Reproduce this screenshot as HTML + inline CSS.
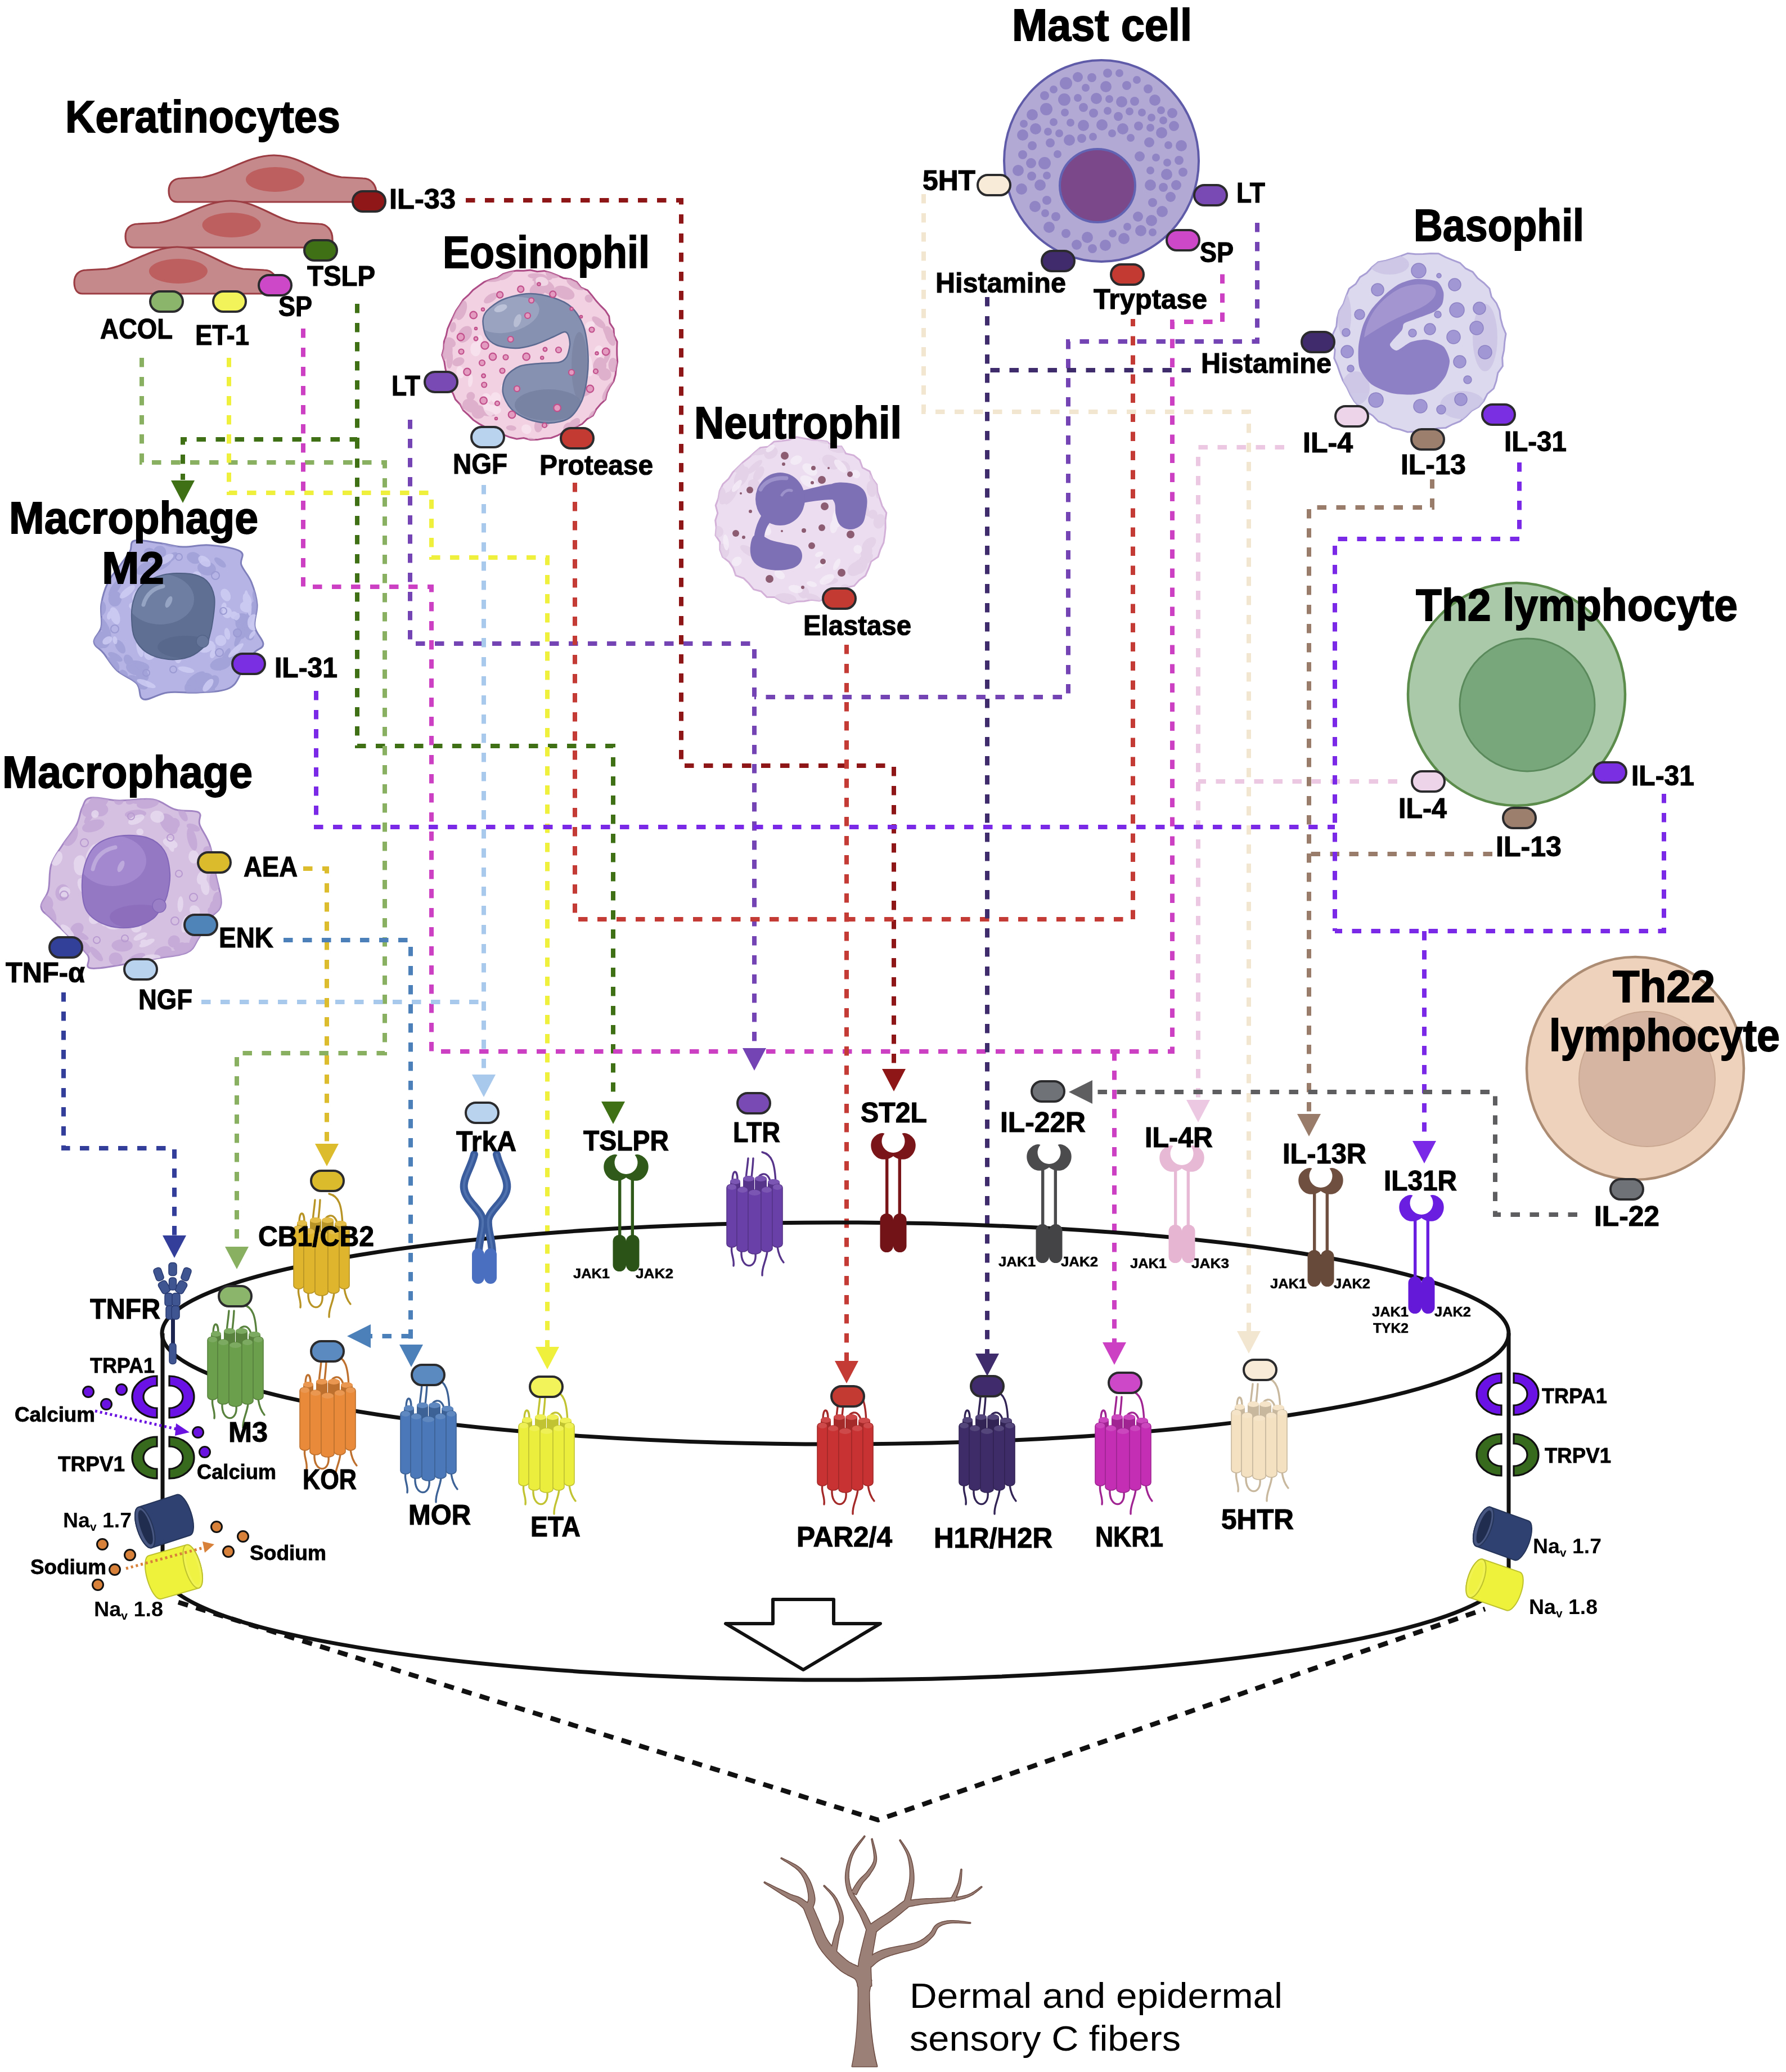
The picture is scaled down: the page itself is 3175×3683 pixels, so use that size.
<!DOCTYPE html><html><head><meta charset="utf-8"><style>html,body{margin:0;padding:0;background:#fff;}svg{display:block;}</style></head><body>
<svg width="3175" height="3683" viewBox="0 0 3175 3683">
<rect width="3175" height="3683" fill="#fff"/>
<path d="M828 356 H1211 V1361 H1589 V1899" fill="none" stroke="#8e1616" stroke-width="8" stroke-dasharray="16.5 17.5"/>
<polygon points="1568.0,1900 1610.0,1900 1589,1940" fill="#8e1616"/>
<path d="M635 540 V781 H325 V853" fill="none" stroke="#3f7016" stroke-width="8" stroke-dasharray="16.5 17.5"/>
<polygon points="304.0,854 346.0,854 325,894" fill="#3f7016"/>
<path d="M635 781 V1326 H1090 V1959" fill="none" stroke="#3f7016" stroke-width="8" stroke-dasharray="16.5 17.5"/>
<polygon points="1069.0,1958 1111.0,1958 1090,1998" fill="#3f7016"/>
<path d="M252 636 V822 H684 V1872 H421 V2217" fill="none" stroke="#88b060" stroke-width="8" stroke-dasharray="16.5 17.5"/>
<polygon points="400.0,2216 442.0,2216 421,2256" fill="#88b060"/>
<path d="M407 636 V876 H767 V991 H973 V2396" fill="none" stroke="#eef03c" stroke-width="8" stroke-dasharray="16.5 17.5"/>
<polygon points="952.0,2394 994.0,2394 973,2434" fill="#eef03c"/>
<path d="M539 584 V1043 H767 V1869 H2084 V572 H2173 V481" fill="none" stroke="#cc40c4" stroke-width="8" stroke-dasharray="16.5 17.5"/>
<path d="M1981 1869 V2386" fill="none" stroke="#cc40c4" stroke-width="8" stroke-dasharray="16.5 17.5"/>
<polygon points="1960.0,2386 2002.0,2386 1981,2426" fill="#cc40c4"/>
<path d="M729 746 V1144 H1341 V1862" fill="none" stroke="#7444b4" stroke-width="8" stroke-dasharray="16.5 17.5"/>
<polygon points="1320.0,1863 1362.0,1863 1341,1903" fill="#7444b4"/>
<path d="M2235 396 V607 H1899 V1239 H1341" fill="none" stroke="#7444b4" stroke-width="8" stroke-dasharray="16.5 17.5"/>
<path d="M860 862 V1910" fill="none" stroke="#a8c8ec" stroke-width="8" stroke-dasharray="16.5 17.5"/>
<polygon points="839.0,1910 881.0,1910 860,1950" fill="#a8c8ec"/>
<path d="M358 1781 H857" fill="none" stroke="#a8c8ec" stroke-width="8" stroke-dasharray="16.5 17.5"/>
<path d="M1022 858 V1634 H2014 V567" fill="none" stroke="#c43a34" stroke-width="8" stroke-dasharray="16.5 17.5"/>
<path d="M1505 1146 V2419" fill="none" stroke="#c43a34" stroke-width="8" stroke-dasharray="16.5 17.5"/>
<polygon points="1484.0,2419 1526.0,2419 1505,2459" fill="#c43a34"/>
<path d="M1755 528 V2406" fill="none" stroke="#3e2c6c" stroke-width="8" stroke-dasharray="16.5 17.5"/>
<polygon points="1734.0,2406 1776.0,2406 1755,2446" fill="#3e2c6c"/>
<path d="M2117 658 H1759" fill="none" stroke="#3e2c6c" stroke-width="8" stroke-dasharray="16.5 17.5"/>
<path d="M1642 345 V732 H2220 V2368" fill="none" stroke="#f3e6d0" stroke-width="8" stroke-dasharray="16.5 17.5"/>
<polygon points="2199.0,2366 2241.0,2366 2220,2406" fill="#f3e6d0"/>
<path d="M2283 795 H2130 V1955" fill="none" stroke="#ecc8e2" stroke-width="8" stroke-dasharray="16.5 17.5"/>
<polygon points="2109.0,1955 2151.0,1955 2130,1995" fill="#ecc8e2"/>
<path d="M2484 1389 H2130" fill="none" stroke="#ecc8e2" stroke-width="8" stroke-dasharray="16.5 17.5"/>
<path d="M2546 852 V902 H2327 V1980" fill="none" stroke="#9a7c6a" stroke-width="8" stroke-dasharray="16.5 17.5"/>
<polygon points="2306.0,1980 2348.0,1980 2327,2020" fill="#9a7c6a"/>
<path d="M2653 1518 H2328" fill="none" stroke="#9a7c6a" stroke-width="8" stroke-dasharray="16.5 17.5"/>
<path d="M2701 822 V958 H2373 V1655" fill="none" stroke="#7a2ae6" stroke-width="8" stroke-dasharray="16.5 17.5"/>
<path d="M2958 1411 V1655 H2373" fill="none" stroke="#7a2ae6" stroke-width="8" stroke-dasharray="16.5 17.5"/>
<path d="M2532 1655 V2027" fill="none" stroke="#7a2ae6" stroke-width="8" stroke-dasharray="16.5 17.5"/>
<polygon points="2511.0,2028 2553.0,2028 2532,2068" fill="#7a2ae6"/>
<path d="M562 1228 V1470 H2373" fill="none" stroke="#7a2ae6" stroke-width="8" stroke-dasharray="16.5 17.5"/>
<path d="M2804 2159 H2658 V1941 H1941" fill="none" stroke="#5e5e60" stroke-width="8" stroke-dasharray="16.5 17.5"/>
<polygon points="1942,1920.0 1942,1962.0 1900,1941" fill="#5e5e60"/>
<path d="M539 1544 H581 V2031" fill="none" stroke="#dcbc2c" stroke-width="8" stroke-dasharray="16.5 17.5"/>
<polygon points="560.0,2033 602.0,2033 581,2073" fill="#dcbc2c"/>
<path d="M504 1671 H730 V2392" fill="none" stroke="#4c80b8" stroke-width="8" stroke-dasharray="16.5 17.5"/>
<polygon points="710.0,2390 752.0,2390 731,2430" fill="#4c80b8"/>
<path d="M730 2375 H659" fill="none" stroke="#4c80b8" stroke-width="8" stroke-dasharray="16.5 17.5"/>
<polygon points="659,2354.0 659,2396.0 617,2375" fill="#4c80b8"/>
<path d="M113 1764 V2041 H310 V2198" fill="none" stroke="#323e9a" stroke-width="8" stroke-dasharray="16.5 17.5"/>
<polygon points="289.0,2196 331.0,2196 310,2236" fill="#323e9a"/>
<path d="M315.0 359.0 C305.0 359.0 300.0 351.0 300.0 339.0 C300.0 326.0 308.0 317.0 322.0 317.0 L360.0 315.0 C400.0 309.0 440.0 276.0 487.0 276.0 C535.0 276.0 565.0 309.0 607.0 315.0 L645.0 317.0 C660.0 317.0 669.0 329.0 669.0 344.0 L669.0 359.0 Z" fill="#c5898b" stroke="#9c3d43" stroke-width="3.2"/>
<ellipse cx="489.0" cy="319" rx="52" ry="22" fill="#bd5e5f"/>
<path d="M238.0 440.0 C228.0 440.0 223.0 432.0 223.0 420.0 C223.0 407.0 231.0 398.0 244.9 398.0 L282.8 396.0 C322.7 390.0 362.6 357.0 409.5 357.0 C457.4 357.0 487.3 390.0 529.2 396.0 L567.1 398.0 C582.0 398.0 591.0 410.0 591.0 425.0 L591.0 440.0 Z" fill="#c5898b" stroke="#9c3d43" stroke-width="3.2"/>
<ellipse cx="411.5" cy="400" rx="52" ry="22" fill="#bd5e5f"/>
<path d="M146.7 522.0 C136.9 522.0 132.0 514.0 132.0 502.0 C132.0 489.0 139.8 480.0 153.5 480.0 L190.7 478.0 C229.8 472.0 269.0 439.0 314.9 439.0 C361.9 439.0 391.3 472.0 432.3 478.0 L469.5 480.0 C484.2 480.0 493.0 492.0 493.0 507.0 L493.0 522.0 Z" fill="#c5898b" stroke="#9c3d43" stroke-width="3.2"/>
<ellipse cx="316.9" cy="482" rx="52" ry="22" fill="#bd5e5f"/>
<clipPath id="eclip"><path d="M1096.8 631.0 L1097.7 642.8 L1095.5 654.4 L1094.2 666.1 L1091.0 677.5 L1084.3 687.7 L1079.1 698.1 L1076.5 710.2 L1067.5 718.5 L1059.9 727.6 L1054.2 738.6 L1043.6 745.0 L1035.0 753.6 L1023.9 758.8 L1013.7 765.2 L1001.7 768.1 L991.1 774.2 L979.6 778.5 L967.3 779.3 L955.2 781.6 L943.0 781.8 L931.0 778.6 L918.6 780.3 L906.7 777.3 L895.4 772.8 L884.5 767.6 L871.9 766.1 L862.1 758.8 L851.3 753.1 L841.2 746.4 L832.7 737.7 L823.6 729.6 L818.0 718.9 L809.6 710.1 L805.1 699.0 L797.9 689.2 L793.9 677.9 L794.1 665.6 L791.6 654.2 L789.8 642.7 L785.8 631.0 L788.8 619.3 L789.3 607.4 L793.2 596.2 L795.6 584.6 L800.3 573.8 L805.5 563.2 L810.5 552.4 L817.3 542.6 L823.7 532.4 L832.8 524.4 L841.0 515.5 L850.9 508.3 L860.8 501.2 L872.3 496.7 L884.3 493.8 L894.6 486.8 L906.3 483.1 L918.5 481.0 L930.8 481.2 L943.0 480.0 L955.1 482.8 L967.5 481.4 L979.3 484.8 L990.6 489.3 L1001.5 494.2 L1014.1 495.9 L1025.2 501.2 L1033.0 511.1 L1044.6 515.9 L1052.3 525.2 L1059.6 534.6 L1067.6 543.4 L1076.2 552.0 L1082.7 562.1 L1084.2 574.4 L1090.9 584.5 L1091.7 596.5 L1097.1 607.4 L1096.7 619.3 Z"/></clipPath>
<path d="M1096.8 631.0 L1097.7 642.8 L1095.5 654.4 L1094.2 666.1 L1091.0 677.5 L1084.3 687.7 L1079.1 698.1 L1076.5 710.2 L1067.5 718.5 L1059.9 727.6 L1054.2 738.6 L1043.6 745.0 L1035.0 753.6 L1023.9 758.8 L1013.7 765.2 L1001.7 768.1 L991.1 774.2 L979.6 778.5 L967.3 779.3 L955.2 781.6 L943.0 781.8 L931.0 778.6 L918.6 780.3 L906.7 777.3 L895.4 772.8 L884.5 767.6 L871.9 766.1 L862.1 758.8 L851.3 753.1 L841.2 746.4 L832.7 737.7 L823.6 729.6 L818.0 718.9 L809.6 710.1 L805.1 699.0 L797.9 689.2 L793.9 677.9 L794.1 665.6 L791.6 654.2 L789.8 642.7 L785.8 631.0 L788.8 619.3 L789.3 607.4 L793.2 596.2 L795.6 584.6 L800.3 573.8 L805.5 563.2 L810.5 552.4 L817.3 542.6 L823.7 532.4 L832.8 524.4 L841.0 515.5 L850.9 508.3 L860.8 501.2 L872.3 496.7 L884.3 493.8 L894.6 486.8 L906.3 483.1 L918.5 481.0 L930.8 481.2 L943.0 480.0 L955.1 482.8 L967.5 481.4 L979.3 484.8 L990.6 489.3 L1001.5 494.2 L1014.1 495.9 L1025.2 501.2 L1033.0 511.1 L1044.6 515.9 L1052.3 525.2 L1059.6 534.6 L1067.6 543.4 L1076.2 552.0 L1082.7 562.1 L1084.2 574.4 L1090.9 584.5 L1091.7 596.5 L1097.1 607.4 L1096.7 619.3 Z" fill="#f2d2e2" stroke="#ad4c86" stroke-width="3"/>
<g fill="#d8a4c4" opacity="0.75" clip-path="url(#eclip)"><ellipse cx="1019.3" cy="755.7" rx="15.3" ry="7.9" transform="rotate(132 1019.3 755.7)"/><ellipse cx="983.9" cy="486.6" rx="13.7" ry="8.1" transform="rotate(360 983.9 486.6)"/><ellipse cx="1079.4" cy="633.6" rx="14.6" ry="4.7" transform="rotate(109 1079.4 633.6)"/><ellipse cx="957.5" cy="756.6" rx="7.6" ry="12.0" transform="rotate(188 957.5 756.6)"/><ellipse cx="1046.7" cy="530.7" rx="7.4" ry="6.8" transform="rotate(405 1046.7 530.7)"/><ellipse cx="1063.0" cy="734.5" rx="11.8" ry="5.4" transform="rotate(151 1063.0 734.5)"/><ellipse cx="1056.0" cy="740.2" rx="12.9" ry="8.5" transform="rotate(126 1056.0 740.2)"/><ellipse cx="814.9" cy="643.0" rx="7.5" ry="11.0" transform="rotate(249 814.9 643.0)"/><ellipse cx="967.5" cy="507.8" rx="19.6" ry="11.2" transform="rotate(386 967.5 507.8)"/><ellipse cx="954.7" cy="490.9" rx="16.5" ry="5.2" transform="rotate(363 954.7 490.9)"/><ellipse cx="1003.2" cy="520.2" rx="19.0" ry="11.1" transform="rotate(382 1003.2 520.2)"/><ellipse cx="850.4" cy="732.3" rx="12.0" ry="12.0" transform="rotate(215 850.4 732.3)"/><ellipse cx="1066.0" cy="651.3" rx="16.3" ry="11.9" transform="rotate(99 1066.0 651.3)"/><ellipse cx="799.3" cy="638.4" rx="16.7" ry="5.9" transform="rotate(273 799.3 638.4)"/><ellipse cx="805.2" cy="581.6" rx="9.3" ry="5.5" transform="rotate(281 805.2 581.6)"/><ellipse cx="1064.4" cy="573.0" rx="14.8" ry="6.6" transform="rotate(400 1064.4 573.0)"/><ellipse cx="1085.0" cy="691.1" rx="17.1" ry="7.1" transform="rotate(125 1085.0 691.1)"/><ellipse cx="871.8" cy="493.9" rx="19.5" ry="7.4" transform="rotate(363 871.8 493.9)"/><ellipse cx="1084.4" cy="597.2" rx="18.5" ry="8.0" transform="rotate(429 1084.4 597.2)"/><ellipse cx="945.8" cy="783.5" rx="9.1" ry="4.7" transform="rotate(197 945.8 783.5)"/><ellipse cx="964.1" cy="496.0" rx="17.9" ry="4.6" transform="rotate(354 964.1 496.0)"/><ellipse cx="908.7" cy="760.8" rx="9.2" ry="4.7" transform="rotate(185 908.7 760.8)"/><ellipse cx="1073.6" cy="538.1" rx="16.7" ry="7.9" transform="rotate(399 1073.6 538.1)"/><ellipse cx="1081.2" cy="595.7" rx="16.5" ry="4.4" transform="rotate(418 1081.2 595.7)"/><ellipse cx="1024.2" cy="504.2" rx="18.5" ry="8.9" transform="rotate(387 1024.2 504.2)"/><ellipse cx="806.4" cy="557.1" rx="11.0" ry="8.4" transform="rotate(286 806.4 557.1)"/><ellipse cx="956.9" cy="514.4" rx="15.9" ry="11.6" transform="rotate(338 956.9 514.4)"/><ellipse cx="820.0" cy="551.6" rx="18.1" ry="8.8" transform="rotate(289 820.0 551.6)"/><ellipse cx="809.5" cy="718.1" rx="18.8" ry="5.2" transform="rotate(212 809.5 718.1)"/><ellipse cx="1044.3" cy="696.7" rx="12.8" ry="5.3" transform="rotate(146 1044.3 696.7)"/><ellipse cx="872.3" cy="529.9" rx="14.0" ry="6.7" transform="rotate(326 872.3 529.9)"/><ellipse cx="967.3" cy="752.5" rx="9.4" ry="7.1" transform="rotate(182 967.3 752.5)"/><ellipse cx="826.2" cy="594.2" rx="16.2" ry="11.0" transform="rotate(304 826.2 594.2)"/><ellipse cx="973.7" cy="517.5" rx="13.0" ry="4.7" transform="rotate(390 973.7 517.5)"/><ellipse cx="1011.2" cy="761.0" rx="10.3" ry="9.6" transform="rotate(142 1011.2 761.0)"/><ellipse cx="1075.4" cy="665.6" rx="11.0" ry="11.2" transform="rotate(93 1075.4 665.6)"/><ellipse cx="799.1" cy="628.3" rx="19.3" ry="5.0" transform="rotate(277 799.1 628.3)"/><ellipse cx="791.6" cy="623.4" rx="19.6" ry="6.6" transform="rotate(285 791.6 623.4)"/><ellipse cx="800.5" cy="608.5" rx="7.8" ry="10.6" transform="rotate(308 800.5 608.5)"/><ellipse cx="860.6" cy="733.5" rx="19.9" ry="5.0" transform="rotate(192 860.6 733.5)"/><ellipse cx="1081.8" cy="697.7" rx="16.9" ry="7.7" transform="rotate(124 1081.8 697.7)"/><ellipse cx="1089.7" cy="648.7" rx="12.8" ry="8.2" transform="rotate(90 1089.7 648.7)"/><ellipse cx="836.8" cy="704.2" rx="7.6" ry="7.6" transform="rotate(219 836.8 704.2)"/><ellipse cx="899.0" cy="487.1" rx="16.4" ry="7.8" transform="rotate(328 899.0 487.1)"/><ellipse cx="836.8" cy="721.1" rx="15.2" ry="11.7" transform="rotate(204 836.8 721.1)"/></g>
<g fill="#fae8f1" opacity="0.7" clip-path="url(#eclip)"><ellipse cx="1019.8" cy="611.0" rx="6.2" ry="9.6" transform="rotate(416 1019.8 611.0)"/><ellipse cx="1026.7" cy="707.6" rx="9.5" ry="8.9" transform="rotate(117 1026.7 707.6)"/><ellipse cx="1032.1" cy="608.6" rx="12.0" ry="9.2" transform="rotate(447 1032.1 608.6)"/><ellipse cx="1048.8" cy="577.9" rx="6.5" ry="8.9" transform="rotate(428 1048.8 577.9)"/><ellipse cx="912.1" cy="705.6" rx="14.5" ry="7.1" transform="rotate(228 912.1 705.6)"/><ellipse cx="963.5" cy="500.1" rx="11.7" ry="7.8" transform="rotate(375 963.5 500.1)"/><ellipse cx="935.8" cy="762.9" rx="9.1" ry="8.3" transform="rotate(210 935.8 762.9)"/><ellipse cx="896.5" cy="568.4" rx="14.3" ry="7.6" transform="rotate(305 896.5 568.4)"/><ellipse cx="1044.8" cy="662.4" rx="6.3" ry="9.2" transform="rotate(108 1044.8 662.4)"/><ellipse cx="845.3" cy="620.7" rx="12.6" ry="9.1" transform="rotate(265 845.3 620.7)"/><ellipse cx="865.5" cy="707.1" rx="9.0" ry="7.2" transform="rotate(227 865.5 707.1)"/><ellipse cx="836.3" cy="676.8" rx="11.3" ry="4.1" transform="rotate(276 836.3 676.8)"/><ellipse cx="881.4" cy="707.1" rx="10.0" ry="9.2" transform="rotate(245 881.4 707.1)"/><ellipse cx="845.6" cy="623.9" rx="7.0" ry="9.0" transform="rotate(255 845.6 623.9)"/><ellipse cx="852.9" cy="604.7" rx="9.3" ry="5.7" transform="rotate(268 852.9 604.7)"/><ellipse cx="1047.2" cy="654.9" rx="14.0" ry="7.5" transform="rotate(85 1047.2 654.9)"/><ellipse cx="917.6" cy="564.4" rx="10.1" ry="8.6" transform="rotate(365 917.6 564.4)"/><ellipse cx="818.1" cy="661.6" rx="11.0" ry="6.7" transform="rotate(261 818.1 661.6)"/><ellipse cx="1064.4" cy="624.6" rx="10.7" ry="8.0" transform="rotate(455 1064.4 624.6)"/><ellipse cx="867.5" cy="726.7" rx="14.2" ry="7.3" transform="rotate(244 867.5 726.7)"/><ellipse cx="1046.9" cy="642.5" rx="12.3" ry="5.6" transform="rotate(77 1046.9 642.5)"/><ellipse cx="907.4" cy="540.5" rx="8.7" ry="3.9" transform="rotate(367 907.4 540.5)"/><ellipse cx="896.3" cy="691.4" rx="8.2" ry="5.1" transform="rotate(239 896.3 691.4)"/><ellipse cx="980.6" cy="709.1" rx="7.0" ry="6.4" transform="rotate(137 980.6 709.1)"/><ellipse cx="875.5" cy="728.2" rx="15.3" ry="8.6" transform="rotate(186 875.5 728.2)"/></g>
<clipPath id="enclip"><path d="M858.5 570.0 C858.8 563.2 860.5 557.7 866.0 552.0 C871.5 546.3 883.9 536.5 895.0 532.0 C906.1 527.5 926.8 522.5 940.0 522.0 C953.2 521.5 971.6 525.4 983.0 529.0 C994.4 532.6 1007.9 538.5 1016.0 546.0 C1024.1 553.5 1032.7 567.3 1037.0 579.0 C1041.3 590.7 1044.0 610.5 1045.0 624.0 C1046.0 637.5 1045.7 655.6 1044.0 669.0 C1042.3 682.4 1038.8 701.9 1034.0 713.0 C1029.2 724.1 1020.7 737.1 1012.0 743.0 C1003.3 748.9 987.1 751.7 976.0 752.0 C964.9 752.3 948.0 748.8 938.0 745.0 C928.0 741.2 915.6 734.0 909.0 727.0 C902.4 720.0 895.4 706.7 894.0 698.0 C892.6 689.3 895.5 676.0 900.0 669.0 C904.5 662.0 915.0 654.5 924.0 651.0 C933.0 647.5 949.5 647.0 960.0 646.0 C970.5 645.0 987.0 645.6 994.0 644.0 C1001.0 642.4 1004.1 639.6 1007.0 635.0 C1009.9 630.4 1012.5 619.0 1013.0 613.0 C1013.5 607.0 1011.5 598.5 1010.0 595.0 C1008.5 591.5 1007.0 589.4 1003.0 590.0 C999.0 590.6 991.1 595.5 983.0 599.0 C974.9 602.5 959.0 610.0 949.0 613.0 C939.0 616.0 926.0 619.0 916.0 619.0 C906.0 619.0 889.8 616.3 882.0 613.0 C874.2 609.7 867.5 603.5 864.0 597.0 C860.5 590.5 858.2 576.8 858.5 570.0 Z"/></clipPath>
<path d="M858.5 570.0 C858.8 563.2 860.5 557.7 866.0 552.0 C871.5 546.3 883.9 536.5 895.0 532.0 C906.1 527.5 926.8 522.5 940.0 522.0 C953.2 521.5 971.6 525.4 983.0 529.0 C994.4 532.6 1007.9 538.5 1016.0 546.0 C1024.1 553.5 1032.7 567.3 1037.0 579.0 C1041.3 590.7 1044.0 610.5 1045.0 624.0 C1046.0 637.5 1045.7 655.6 1044.0 669.0 C1042.3 682.4 1038.8 701.9 1034.0 713.0 C1029.2 724.1 1020.7 737.1 1012.0 743.0 C1003.3 748.9 987.1 751.7 976.0 752.0 C964.9 752.3 948.0 748.8 938.0 745.0 C928.0 741.2 915.6 734.0 909.0 727.0 C902.4 720.0 895.4 706.7 894.0 698.0 C892.6 689.3 895.5 676.0 900.0 669.0 C904.5 662.0 915.0 654.5 924.0 651.0 C933.0 647.5 949.5 647.0 960.0 646.0 C970.5 645.0 987.0 645.6 994.0 644.0 C1001.0 642.4 1004.1 639.6 1007.0 635.0 C1009.9 630.4 1012.5 619.0 1013.0 613.0 C1013.5 607.0 1011.5 598.5 1010.0 595.0 C1008.5 591.5 1007.0 589.4 1003.0 590.0 C999.0 590.6 991.1 595.5 983.0 599.0 C974.9 602.5 959.0 610.0 949.0 613.0 C939.0 616.0 926.0 619.0 916.0 619.0 C906.0 619.0 889.8 616.3 882.0 613.0 C874.2 609.7 867.5 603.5 864.0 597.0 C860.5 590.5 858.2 576.8 858.5 570.0 Z" fill="#8690b0"/>
<g clip-path="url(#enclip)">
<ellipse cx="905" cy="560" rx="55" ry="30" fill="#a3abc6" opacity="0.7" transform="rotate(-15 905 560)"/>
<ellipse cx="975" cy="720" rx="60" ry="28" fill="#727da0" opacity="0.7"/>
<ellipse cx="1030" cy="650" rx="14" ry="60" fill="#78829f" opacity="0.6"/>
<ellipse cx="890" cy="548" rx="12" ry="6" fill="#c4cade" opacity="0.8" transform="rotate(-20 890 548)"/>
<ellipse cx="920" cy="570" rx="6" ry="12" fill="#c4cade" opacity="0.7" transform="rotate(20 920 570)"/>
</g>
<path d="M858.5 570.0 C858.8 563.2 860.5 557.7 866.0 552.0 C871.5 546.3 883.9 536.5 895.0 532.0 C906.1 527.5 926.8 522.5 940.0 522.0 C953.2 521.5 971.6 525.4 983.0 529.0 C994.4 532.6 1007.9 538.5 1016.0 546.0 C1024.1 553.5 1032.7 567.3 1037.0 579.0 C1041.3 590.7 1044.0 610.5 1045.0 624.0 C1046.0 637.5 1045.7 655.6 1044.0 669.0 C1042.3 682.4 1038.8 701.9 1034.0 713.0 C1029.2 724.1 1020.7 737.1 1012.0 743.0 C1003.3 748.9 987.1 751.7 976.0 752.0 C964.9 752.3 948.0 748.8 938.0 745.0 C928.0 741.2 915.6 734.0 909.0 727.0 C902.4 720.0 895.4 706.7 894.0 698.0 C892.6 689.3 895.5 676.0 900.0 669.0 C904.5 662.0 915.0 654.5 924.0 651.0 C933.0 647.5 949.5 647.0 960.0 646.0 C970.5 645.0 987.0 645.6 994.0 644.0 C1001.0 642.4 1004.1 639.6 1007.0 635.0 C1009.9 630.4 1012.5 619.0 1013.0 613.0 C1013.5 607.0 1011.5 598.5 1010.0 595.0 C1008.5 591.5 1007.0 589.4 1003.0 590.0 C999.0 590.6 991.1 595.5 983.0 599.0 C974.9 602.5 959.0 610.0 949.0 613.0 C939.0 616.0 926.0 619.0 916.0 619.0 C906.0 619.0 889.8 616.3 882.0 613.0 C874.2 609.7 867.5 603.5 864.0 597.0 C860.5 590.5 858.2 576.8 858.5 570.0 Z" fill="none" stroke="#5c6a92" stroke-width="2.5"/>
<g fill="#e39bc0" stroke="#c1508c" stroke-width="2.2">
<circle cx="925.7" cy="514" r="5.6"/>
<circle cx="888.7" cy="524" r="5.6"/>
<circle cx="982.8" cy="523" r="5.6"/>
<circle cx="958" cy="505" r="2.7"/>
<circle cx="944.7" cy="534" r="4.5"/>
<circle cx="938" cy="561" r="5"/>
<circle cx="1016" cy="549" r="2.7"/>
<circle cx="841.7" cy="560" r="6.3"/>
<circle cx="858.5" cy="550" r="2.7"/>
<circle cx="1052" cy="586" r="4.5"/>
<circle cx="1033" cy="563" r="2.2"/>
<circle cx="846" cy="584" r="2.2"/>
<circle cx="819" cy="599" r="6.3"/>
<circle cx="862" cy="614" r="6.7"/>
<circle cx="907.7" cy="603" r="5"/>
<circle cx="846" cy="602" r="3.4"/>
<circle cx="820" cy="625" r="4.5"/>
<circle cx="876" cy="634" r="6.3"/>
<circle cx="899" cy="635" r="4.5"/>
<circle cx="935.7" cy="634" r="6.3"/>
<circle cx="969" cy="621" r="3.4"/>
<circle cx="993" cy="622" r="5"/>
<circle cx="963.7" cy="636" r="2.7"/>
<circle cx="857" cy="645" r="5"/>
<circle cx="893" cy="659" r="4.5"/>
<circle cx="830.5" cy="661" r="6.3"/>
<circle cx="859.6" cy="668" r="3.4"/>
<circle cx="1077" cy="625" r="6.3"/>
<circle cx="1061" cy="628" r="2.7"/>
<circle cx="1016" cy="662" r="5"/>
<circle cx="1059" cy="660" r="4"/>
<circle cx="860.7" cy="684" r="4.5"/>
<circle cx="919" cy="691" r="5"/>
<circle cx="1049" cy="691" r="6.3"/>
<circle cx="859.6" cy="712" r="6.3"/>
<circle cx="884" cy="717" r="4"/>
<circle cx="910" cy="737" r="6.3"/>
<circle cx="882" cy="744" r="2.2"/>
<circle cx="990.6" cy="725" r="6.3"/>
<circle cx="968" cy="756" r="4"/>
</g>
<ellipse cx="1958" cy="286" rx="173" ry="179" fill="#b3a9d5" stroke="#5f5ba9" stroke-width="4"/>
<g fill="#9184c5">
<circle cx="1857" cy="290" r="11"/>
<circle cx="1994" cy="181" r="10"/>
<circle cx="1895" cy="148" r="11"/>
<circle cx="1873" cy="217" r="7"/>
<circle cx="2024" cy="224" r="8"/>
<circle cx="2043" cy="253" r="9"/>
<circle cx="2047" cy="209" r="7"/>
<circle cx="2041" cy="158" r="8"/>
<circle cx="2053" cy="178" r="10"/>
<circle cx="1835" cy="259" r="8"/>
<circle cx="1895" cy="415" r="8"/>
<circle cx="2003" cy="152" r="8"/>
<circle cx="1903" cy="218" r="7"/>
<circle cx="1857" cy="170" r="8"/>
<circle cx="1849" cy="329" r="10"/>
<circle cx="1833" cy="290" r="9"/>
<circle cx="1933" cy="422" r="10"/>
<circle cx="1892" cy="177" r="11"/>
<circle cx="1941" cy="138" r="8"/>
<circle cx="1965" cy="436" r="10"/>
<circle cx="2023" cy="385" r="9"/>
<circle cx="2077" cy="258" r="7"/>
<circle cx="2074" cy="310" r="10"/>
<circle cx="2010" cy="245" r="7"/>
<circle cx="1835" cy="204" r="10"/>
<circle cx="2096" cy="285" r="8"/>
<circle cx="1969" cy="130" r="8"/>
<circle cx="1998" cy="424" r="10"/>
<circle cx="1865" cy="404" r="10"/>
<circle cx="1930" cy="156" r="7"/>
<circle cx="1966" cy="154" r="10"/>
<circle cx="1860" cy="194" r="11"/>
<circle cx="2091" cy="329" r="9"/>
<circle cx="2087" cy="224" r="9"/>
<circle cx="2055" cy="280" r="7"/>
<circle cx="1810" cy="303" r="10"/>
<circle cx="2047" cy="392" r="10"/>
<circle cx="1841" cy="229" r="10"/>
<circle cx="1867" cy="254" r="8"/>
<circle cx="1949" cy="175" r="10"/>
<circle cx="2100" cy="259" r="10"/>
<circle cx="1926" cy="223" r="10"/>
<circle cx="1959" cy="222" r="10"/>
<circle cx="2066" cy="376" r="10"/>
<circle cx="2084" cy="201" r="9"/>
<circle cx="1901" cy="249" r="10"/>
<circle cx="1926" cy="191" r="8"/>
<circle cx="2008" cy="198" r="7"/>
<circle cx="1840" cy="367" r="10"/>
<circle cx="2026" cy="278" r="9"/>
<circle cx="2049" cy="360" r="8"/>
<circle cx="1969" cy="197" r="7"/>
<circle cx="1877" cy="385" r="8"/>
<circle cx="1977" cy="237" r="7"/>
<circle cx="2045" cy="329" r="10"/>
<circle cx="2081" cy="350" r="9"/>
<circle cx="2017" cy="180" r="8"/>
<circle cx="1818" cy="275" r="8"/>
<circle cx="1818" cy="240" r="10"/>
<circle cx="1988" cy="207" r="8"/>
<circle cx="2045" cy="303" r="7"/>
<circle cx="2028" cy="410" r="10"/>
<circle cx="2004" cy="403" r="7"/>
<circle cx="2103" cy="306" r="8"/>
<circle cx="2045" cy="227" r="7"/>
<circle cx="1943" cy="243" r="7"/>
<circle cx="1893" cy="200" r="7"/>
<circle cx="1816" cy="336" r="10"/>
<circle cx="2075" cy="289" r="7"/>
<circle cx="1861" cy="312" r="7"/>
<circle cx="2065" cy="236" r="10"/>
<circle cx="1944" cy="201" r="8"/>
<circle cx="1880" cy="274" r="7"/>
<circle cx="1861" cy="356" r="8"/>
<circle cx="1883" cy="237" r="7"/>
<circle cx="2068" cy="214" r="7"/>
<circle cx="1996" cy="229" r="10"/>
<circle cx="2030" cy="200" r="7"/>
<circle cx="1990" cy="130" r="7"/>
<circle cx="1978" cy="415" r="7"/>
<circle cx="1914" cy="435" r="9"/>
<circle cx="2021" cy="142" r="7"/>
<circle cx="1916" cy="137" r="9"/>
<circle cx="1834" cy="313" r="8"/>
<circle cx="1873" cy="159" r="7"/>
<circle cx="1923" cy="246" r="8"/>
<circle cx="2068" cy="333" r="8"/>
<circle cx="1972" cy="176" r="7"/>
<circle cx="1942" cy="442" r="8"/>
<circle cx="1858" cy="379" r="7"/>
<circle cx="1916" cy="174" r="7"/>
<circle cx="1863" cy="234" r="7"/>
<circle cx="2064" cy="196" r="7"/>
<circle cx="1820" cy="220" r="7"/>
<circle cx="2049" cy="413" r="7"/>
</g>
<ellipse cx="1951" cy="330" rx="67" ry="65" fill="#7b4889" stroke="#6363b3" stroke-width="4"/>
<clipPath id="nclip"><path d="M1573.9 925.0 L1574.2 938.2 L1572.8 951.5 L1570.8 964.7 L1565.1 976.9 L1561.0 989.7 L1548.7 998.1 L1544.1 1010.7 L1538.5 1023.2 L1527.4 1031.3 L1518.4 1041.4 L1504.0 1044.5 L1494.0 1053.4 L1481.2 1057.5 L1469.5 1064.2 L1456.5 1067.9 L1442.6 1066.2 L1429.6 1068.8 L1416.3 1069.2 L1402.4 1072.7 L1389.2 1069.2 L1377.4 1061.5 L1363.2 1061.2 L1353.2 1051.2 L1339.9 1047.6 L1331.2 1037.0 L1321.9 1027.9 L1307.9 1022.8 L1303.4 1009.6 L1296.1 998.8 L1284.6 989.9 L1279.9 977.3 L1279.9 963.4 L1272.0 951.7 L1273.3 938.1 L1271.7 925.0 L1275.8 912.1 L1272.2 898.4 L1277.0 885.8 L1279.3 872.5 L1285.2 860.4 L1295.5 850.9 L1302.5 839.8 L1311.9 830.5 L1321.2 821.3 L1331.5 813.3 L1341.2 804.4 L1351.6 795.8 L1365.5 794.1 L1376.2 784.9 L1389.9 783.8 L1403.1 781.7 L1416.2 776.8 L1429.7 779.3 L1442.9 781.7 L1456.3 782.8 L1469.8 784.7 L1480.6 793.7 L1495.8 793.4 L1503.7 806.1 L1517.7 809.4 L1528.4 817.7 L1533.2 831.3 L1546.1 837.9 L1550.9 850.6 L1558.7 861.4 L1560.0 875.0 L1564.3 887.0 L1568.2 899.3 L1575.8 911.6 Z"/></clipPath>
<path d="M1573.9 925.0 L1574.2 938.2 L1572.8 951.5 L1570.8 964.7 L1565.1 976.9 L1561.0 989.7 L1548.7 998.1 L1544.1 1010.7 L1538.5 1023.2 L1527.4 1031.3 L1518.4 1041.4 L1504.0 1044.5 L1494.0 1053.4 L1481.2 1057.5 L1469.5 1064.2 L1456.5 1067.9 L1442.6 1066.2 L1429.6 1068.8 L1416.3 1069.2 L1402.4 1072.7 L1389.2 1069.2 L1377.4 1061.5 L1363.2 1061.2 L1353.2 1051.2 L1339.9 1047.6 L1331.2 1037.0 L1321.9 1027.9 L1307.9 1022.8 L1303.4 1009.6 L1296.1 998.8 L1284.6 989.9 L1279.9 977.3 L1279.9 963.4 L1272.0 951.7 L1273.3 938.1 L1271.7 925.0 L1275.8 912.1 L1272.2 898.4 L1277.0 885.8 L1279.3 872.5 L1285.2 860.4 L1295.5 850.9 L1302.5 839.8 L1311.9 830.5 L1321.2 821.3 L1331.5 813.3 L1341.2 804.4 L1351.6 795.8 L1365.5 794.1 L1376.2 784.9 L1389.9 783.8 L1403.1 781.7 L1416.2 776.8 L1429.7 779.3 L1442.9 781.7 L1456.3 782.8 L1469.8 784.7 L1480.6 793.7 L1495.8 793.4 L1503.7 806.1 L1517.7 809.4 L1528.4 817.7 L1533.2 831.3 L1546.1 837.9 L1550.9 850.6 L1558.7 861.4 L1560.0 875.0 L1564.3 887.0 L1568.2 899.3 L1575.8 911.6 Z" fill="#ecdef0" stroke="#d2b0d8" stroke-width="3"/>
<g fill="#e2cfe6" opacity="0.8" clip-path="url(#nclip)"><ellipse cx="1428.3" cy="1052.8" rx="9.9" ry="10.7" transform="rotate(162 1428.3 1052.8)"/><ellipse cx="1277.6" cy="876.7" rx="12.8" ry="11.8" transform="rotate(303 1277.6 876.7)"/><ellipse cx="1291.2" cy="885.0" rx="15.0" ry="7.4" transform="rotate(317 1291.2 885.0)"/><ellipse cx="1294.1" cy="1011.6" rx="18.2" ry="5.0" transform="rotate(221 1294.1 1011.6)"/><ellipse cx="1276.7" cy="945.0" rx="10.1" ry="9.2" transform="rotate(254 1276.7 945.0)"/><ellipse cx="1457.2" cy="779.2" rx="17.1" ry="6.2" transform="rotate(388 1457.2 779.2)"/><ellipse cx="1285.1" cy="979.9" rx="13.6" ry="11.3" transform="rotate(277 1285.1 979.9)"/><ellipse cx="1489.7" cy="796.0" rx="17.8" ry="9.1" transform="rotate(367 1489.7 796.0)"/><ellipse cx="1551.9" cy="914.1" rx="8.2" ry="7.9" transform="rotate(440 1551.9 914.1)"/><ellipse cx="1470.2" cy="1069.1" rx="9.3" ry="11.3" transform="rotate(165 1470.2 1069.1)"/><ellipse cx="1476.7" cy="1033.6" rx="13.4" ry="5.6" transform="rotate(170 1476.7 1033.6)"/><ellipse cx="1332.2" cy="800.8" rx="18.0" ry="10.5" transform="rotate(354 1332.2 800.8)"/><ellipse cx="1549.3" cy="868.9" rx="14.5" ry="8.6" transform="rotate(444 1549.3 868.9)"/><ellipse cx="1555.5" cy="859.6" rx="18.1" ry="5.0" transform="rotate(418 1555.5 859.6)"/><ellipse cx="1538.8" cy="993.8" rx="15.0" ry="8.8" transform="rotate(143 1538.8 993.8)"/><ellipse cx="1445.5" cy="1062.7" rx="15.0" ry="6.3" transform="rotate(200 1445.5 1062.7)"/><ellipse cx="1545.1" cy="966.6" rx="14.4" ry="9.1" transform="rotate(138 1545.1 966.6)"/><ellipse cx="1279.3" cy="878.1" rx="11.5" ry="8.3" transform="rotate(267 1279.3 878.1)"/><ellipse cx="1341.7" cy="829.8" rx="17.4" ry="5.6" transform="rotate(318 1341.7 829.8)"/><ellipse cx="1525.1" cy="898.6" rx="15.9" ry="9.7" transform="rotate(449 1525.1 898.6)"/><ellipse cx="1300.2" cy="879.9" rx="19.5" ry="6.8" transform="rotate(303 1300.2 879.9)"/><ellipse cx="1352.8" cy="803.5" rx="13.7" ry="4.9" transform="rotate(347 1352.8 803.5)"/><ellipse cx="1396.3" cy="1064.8" rx="19.8" ry="10.4" transform="rotate(185 1396.3 1064.8)"/><ellipse cx="1501.1" cy="829.7" rx="11.8" ry="8.9" transform="rotate(408 1501.1 829.7)"/><ellipse cx="1370.5" cy="805.0" rx="12.9" ry="10.1" transform="rotate(326 1370.5 805.0)"/><ellipse cx="1340.4" cy="861.5" rx="9.6" ry="11.0" transform="rotate(291 1340.4 861.5)"/><ellipse cx="1331.0" cy="979.7" rx="17.2" ry="7.2" transform="rotate(212 1331.0 979.7)"/><ellipse cx="1400.0" cy="1073.1" rx="17.1" ry="4.8" transform="rotate(216 1400.0 1073.1)"/><ellipse cx="1540.2" cy="980.7" rx="14.4" ry="10.4" transform="rotate(95 1540.2 980.7)"/><ellipse cx="1477.2" cy="821.4" rx="16.9" ry="11.5" transform="rotate(392 1477.2 821.4)"/><ellipse cx="1563.0" cy="926.6" rx="13.2" ry="10.1" transform="rotate(108 1563.0 926.6)"/><ellipse cx="1528.3" cy="1007.0" rx="15.7" ry="11.5" transform="rotate(135 1528.3 1007.0)"/><ellipse cx="1313.9" cy="831.5" rx="9.9" ry="11.0" transform="rotate(316 1313.9 831.5)"/><ellipse cx="1348.8" cy="841.9" rx="14.3" ry="7.7" transform="rotate(301 1348.8 841.9)"/><ellipse cx="1562.4" cy="872.6" rx="13.5" ry="5.3" transform="rotate(458 1562.4 872.6)"/><ellipse cx="1520.2" cy="1011.3" rx="14.8" ry="11.0" transform="rotate(142 1520.2 1011.3)"/><ellipse cx="1318.1" cy="847.2" rx="19.7" ry="10.7" transform="rotate(299 1318.1 847.2)"/><ellipse cx="1466.0" cy="780.3" rx="13.8" ry="5.4" transform="rotate(350 1466.0 780.3)"/><ellipse cx="1536.5" cy="902.1" rx="17.6" ry="6.2" transform="rotate(422 1536.5 902.1)"/><ellipse cx="1501.8" cy="1046.7" rx="9.1" ry="8.2" transform="rotate(166 1501.8 1046.7)"/></g>
<g fill="#f6eef8" opacity="0.8" clip-path="url(#nclip)"><ellipse cx="1486.9" cy="916.5" rx="13.3" ry="6.5" transform="rotate(469 1486.9 916.5)"/><ellipse cx="1309.8" cy="998.0" rx="7.6" ry="9.6" transform="rotate(231 1309.8 998.0)"/><ellipse cx="1459.1" cy="1003.7" rx="12.3" ry="3.8" transform="rotate(149 1459.1 1003.7)"/><ellipse cx="1488.6" cy="929.5" rx="7.7" ry="5.0" transform="rotate(80 1488.6 929.5)"/><ellipse cx="1439.6" cy="834.6" rx="14.6" ry="9.0" transform="rotate(394 1439.6 834.6)"/><ellipse cx="1524.8" cy="891.2" rx="12.7" ry="8.9" transform="rotate(434 1524.8 891.2)"/><ellipse cx="1487.5" cy="1003.1" rx="11.3" ry="4.7" transform="rotate(117 1487.5 1003.1)"/><ellipse cx="1470.0" cy="1029.9" rx="14.1" ry="7.5" transform="rotate(152 1470.0 1029.9)"/><ellipse cx="1482.4" cy="935.4" rx="12.5" ry="6.8" transform="rotate(98 1482.4 935.4)"/><ellipse cx="1456.2" cy="985.2" rx="7.8" ry="4.4" transform="rotate(158 1456.2 985.2)"/><ellipse cx="1385.9" cy="1021.4" rx="10.3" ry="6.9" transform="rotate(215 1385.9 1021.4)"/><ellipse cx="1436.8" cy="855.9" rx="15.6" ry="8.7" transform="rotate(390 1436.8 855.9)"/><ellipse cx="1290.5" cy="964.2" rx="14.1" ry="5.0" transform="rotate(264 1290.5 964.2)"/><ellipse cx="1494.3" cy="828.5" rx="15.0" ry="6.8" transform="rotate(406 1494.3 828.5)"/><ellipse cx="1524.9" cy="976.4" rx="7.5" ry="7.9" transform="rotate(142 1524.9 976.4)"/><ellipse cx="1377.5" cy="971.2" rx="6.4" ry="6.7" transform="rotate(203 1377.5 971.2)"/><ellipse cx="1415.4" cy="817.9" rx="11.0" ry="7.6" transform="rotate(335 1415.4 817.9)"/><ellipse cx="1361.4" cy="941.1" rx="11.5" ry="8.4" transform="rotate(234 1361.4 941.1)"/><ellipse cx="1369.5" cy="797.0" rx="9.2" ry="4.8" transform="rotate(323 1369.5 797.0)"/><ellipse cx="1456.3" cy="868.8" rx="13.8" ry="5.2" transform="rotate(405 1456.3 868.8)"/><ellipse cx="1521.6" cy="842.6" rx="7.9" ry="6.9" transform="rotate(398 1521.6 842.6)"/><ellipse cx="1482.7" cy="867.0" rx="7.7" ry="6.0" transform="rotate(380 1482.7 867.0)"/><ellipse cx="1443.1" cy="1038.2" rx="9.3" ry="4.7" transform="rotate(196 1443.1 1038.2)"/><ellipse cx="1414.3" cy="1047.0" rx="12.8" ry="6.9" transform="rotate(193 1414.3 1047.0)"/><ellipse cx="1309.9" cy="863.7" rx="12.9" ry="5.2" transform="rotate(308 1309.9 863.7)"/></g>
<g fill="#7d70b4">
<path d="M1425 872 C1445 868 1462 862 1482 860 L1488 888 C1465 888 1448 890 1428 894 Z"/>
<path d="M1356 912 C1346 928 1340 945 1340 965 L1358 965 C1358 948 1362 935 1372 925 Z"/>
<path d="M1478.0 861.0 C1483.2 857.0 1495.6 857.1 1505.0 858.0 C1514.4 858.9 1523.5 861.1 1530.0 866.0 C1536.5 870.9 1539.4 876.7 1541.0 885.0 C1542.6 893.3 1540.6 903.5 1539.0 912.0 C1537.4 920.5 1536.7 926.8 1532.0 932.0 C1527.3 937.2 1519.8 940.6 1513.0 941.0 C1506.2 941.4 1498.9 938.7 1494.0 934.0 C1489.1 929.3 1487.8 922.0 1486.0 915.0 C1484.2 908.0 1485.8 901.3 1484.0 895.0 C1482.2 888.7 1477.1 886.1 1476.0 880.0 C1474.9 873.9 1472.8 865.0 1478.0 861.0 Z"/>
<path d="M1338.0 955.0 C1341.2 949.4 1346.2 950.1 1352.0 951.0 C1357.8 951.9 1362.3 957.3 1370.0 960.0 C1377.7 962.7 1386.4 963.8 1395.0 966.0 C1403.6 968.2 1412.4 968.0 1418.0 972.0 C1423.6 976.0 1426.0 982.1 1426.0 988.0 C1426.0 993.9 1423.6 1000.5 1418.0 1005.0 C1412.4 1009.5 1404.5 1011.7 1395.0 1013.0 C1385.5 1014.3 1374.4 1014.0 1365.0 1012.0 C1355.6 1010.0 1348.6 1007.4 1343.0 1002.0 C1337.4 996.6 1334.9 990.5 1334.0 982.0 C1333.1 973.5 1334.8 960.6 1338.0 955.0 Z"/>
<ellipse cx="1387" cy="887" rx="44" ry="47"/>
</g>
<path d="M1352 870 C1360 855 1378 848 1398 850" fill="none" stroke="#a49ad0" stroke-width="7" stroke-linecap="round" opacity="0.8"/>
<path d="M1390 880 C1395 872 1402 870 1407 872" fill="none" stroke="#a49ad0" stroke-width="5" stroke-linecap="round" opacity="0.8"/>
<g fill="#8c5c72">
<circle cx="1395" cy="810" r="7"/>
<circle cx="1393" cy="825" r="3"/>
<circle cx="1446" cy="832" r="4"/>
<circle cx="1473" cy="832" r="2"/>
<circle cx="1461" cy="853" r="7"/>
<circle cx="1444" cy="858" r="3"/>
<circle cx="1511" cy="843" r="5"/>
<circle cx="1333" cy="871" r="6"/>
<circle cx="1317" cy="877" r="2"/>
<circle cx="1334" cy="909" r="3"/>
<circle cx="1466" cy="900" r="7"/>
<circle cx="1308" cy="948" r="6"/>
<circle cx="1322" cy="955" r="3"/>
<circle cx="1390" cy="944" r="2"/>
<circle cx="1429" cy="943" r="4"/>
<circle cx="1461" cy="938" r="6"/>
<circle cx="1512" cy="950" r="7"/>
<circle cx="1443" cy="970" r="6"/>
<circle cx="1463" cy="998" r="5"/>
<circle cx="1368" cy="1029" r="7"/>
<circle cx="1496" cy="1018" r="7"/>
<circle cx="1427" cy="1044" r="3"/>
</g>
<clipPath id="bclip"><path d="M2674.8 608.0 L2673.7 622.2 L2670.7 636.0 L2671.4 650.8 L2662.8 662.9 L2660.0 677.0 L2655.3 690.7 L2644.2 700.1 L2637.7 712.8 L2628.5 723.4 L2616.2 730.3 L2606.4 740.1 L2595.5 749.0 L2582.6 754.0 L2570.3 760.4 L2556.4 761.2 L2543.2 764.1 L2529.7 764.7 L2516.2 766.9 L2502.3 767.9 L2489.1 763.5 L2475.6 760.7 L2463.5 753.6 L2450.4 749.2 L2440.4 738.8 L2428.9 731.4 L2417.3 723.6 L2407.6 713.4 L2400.4 701.2 L2394.4 688.4 L2387.2 676.4 L2382.1 663.3 L2377.6 650.0 L2371.8 636.7 L2373.2 622.1 L2368.9 608.0 L2369.6 593.6 L2375.8 580.1 L2377.1 565.9 L2380.7 552.1 L2388.3 540.2 L2392.9 526.7 L2398.3 513.2 L2410.1 504.8 L2417.6 492.7 L2429.5 485.3 L2439.0 474.9 L2450.0 466.0 L2463.9 463.3 L2476.8 459.4 L2489.7 455.2 L2502.6 450.2 L2516.3 451.8 L2529.7 451.5 L2543.4 450.5 L2557.3 450.7 L2569.8 457.2 L2582.5 462.3 L2595.4 467.3 L2605.5 477.2 L2618.0 483.3 L2626.8 494.4 L2637.9 503.0 L2647.9 513.0 L2651.4 527.7 L2660.2 538.9 L2665.8 551.9 L2667.7 566.2 L2671.3 579.8 L2677.0 593.5 Z"/></clipPath>
<path d="M2674.8 608.0 L2673.7 622.2 L2670.7 636.0 L2671.4 650.8 L2662.8 662.9 L2660.0 677.0 L2655.3 690.7 L2644.2 700.1 L2637.7 712.8 L2628.5 723.4 L2616.2 730.3 L2606.4 740.1 L2595.5 749.0 L2582.6 754.0 L2570.3 760.4 L2556.4 761.2 L2543.2 764.1 L2529.7 764.7 L2516.2 766.9 L2502.3 767.9 L2489.1 763.5 L2475.6 760.7 L2463.5 753.6 L2450.4 749.2 L2440.4 738.8 L2428.9 731.4 L2417.3 723.6 L2407.6 713.4 L2400.4 701.2 L2394.4 688.4 L2387.2 676.4 L2382.1 663.3 L2377.6 650.0 L2371.8 636.7 L2373.2 622.1 L2368.9 608.0 L2369.6 593.6 L2375.8 580.1 L2377.1 565.9 L2380.7 552.1 L2388.3 540.2 L2392.9 526.7 L2398.3 513.2 L2410.1 504.8 L2417.6 492.7 L2429.5 485.3 L2439.0 474.9 L2450.0 466.0 L2463.9 463.3 L2476.8 459.4 L2489.7 455.2 L2502.6 450.2 L2516.3 451.8 L2529.7 451.5 L2543.4 450.5 L2557.3 450.7 L2569.8 457.2 L2582.5 462.3 L2595.4 467.3 L2605.5 477.2 L2618.0 483.3 L2626.8 494.4 L2637.9 503.0 L2647.9 513.0 L2651.4 527.7 L2660.2 538.9 L2665.8 551.9 L2667.7 566.2 L2671.3 579.8 L2677.0 593.5 Z" fill="#dcd8ee" stroke="#a99fd5" stroke-width="3"/>
<g fill="#cbc5e4" opacity="0.8" clip-path="url(#bclip)">
<ellipse cx="2640" cy="600" rx="22" ry="60"/>
<ellipse cx="2410" cy="690" rx="25" ry="30"/>
<ellipse cx="2600" cy="720" rx="40" ry="25"/>
<ellipse cx="2470" cy="470" rx="35" ry="18"/>
<ellipse cx="2390" cy="560" rx="12" ry="40"/>
</g>
<path d="M2516.0 496.0 C2524.0 495.4 2548.0 497.2 2554.0 500.0 C2560.0 502.8 2564.8 514.2 2566.0 519.0 C2567.2 523.8 2565.9 535.8 2564.0 540.0 C2562.1 544.2 2555.8 550.8 2550.0 554.0 C2544.2 557.2 2522.5 564.5 2516.0 567.0 C2509.5 569.5 2498.9 572.6 2496.0 575.0 C2493.1 577.4 2495.0 582.6 2492.0 587.0 C2489.0 591.4 2472.1 607.7 2471.0 612.0 C2469.9 616.3 2478.6 623.5 2483.0 623.0 C2487.4 622.5 2501.5 610.3 2508.0 608.0 C2514.5 605.7 2530.0 603.0 2537.0 604.0 C2544.0 605.0 2561.2 611.6 2566.0 616.0 C2570.8 620.4 2576.5 634.8 2577.0 641.0 C2577.5 647.2 2573.2 662.0 2570.0 668.0 C2566.8 674.0 2556.5 687.0 2550.0 691.0 C2543.5 695.0 2525.0 700.0 2516.0 701.0 C2507.0 702.0 2484.4 701.2 2475.0 699.0 C2465.6 696.8 2445.0 688.4 2438.0 683.0 C2431.0 677.6 2419.8 662.0 2417.0 654.0 C2414.2 646.0 2414.3 625.0 2415.0 616.0 C2415.7 607.0 2420.2 586.9 2423.0 579.0 C2425.8 571.1 2433.2 556.7 2438.0 550.0 C2442.8 543.3 2457.1 528.4 2463.0 523.0 C2468.9 517.6 2480.6 508.2 2487.0 505.0 C2493.4 501.8 2508.0 496.6 2516.0 496.0 Z" fill="#8e80c4"/>
<path d="M2425 600 C2430 560 2455 530 2490 512 C2515 502 2545 503 2552 515 C2556 530 2535 545 2505 556 C2480 566 2455 580 2425 600 Z" fill="#a89cd4" opacity="0.75"/>
<g fill="#a197d5" stroke="#8c82c4" stroke-width="1.5">
<circle cx="2522" cy="481" r="13"/>
<circle cx="2558" cy="490" r="4"/>
<circle cx="2449" cy="515" r="11"/>
<circle cx="2586" cy="506" r="11"/>
<circle cx="2417" cy="559" r="9"/>
<circle cx="2590" cy="551" r="13"/>
<circle cx="2630" cy="548" r="11"/>
<circle cx="2556" cy="559" r="6"/>
<circle cx="2393" cy="591" r="7"/>
<circle cx="2511" cy="592" r="7"/>
<circle cx="2542" cy="585" r="10"/>
<circle cx="2584" cy="599" r="12"/>
<circle cx="2625" cy="583" r="12"/>
<circle cx="2395" cy="625" r="11"/>
<circle cx="2640" cy="626" r="12"/>
<circle cx="2595" cy="643" r="11"/>
<circle cx="2401" cy="655" r="6"/>
<circle cx="2609" cy="675" r="7"/>
<circle cx="2446" cy="711" r="13"/>
<circle cx="2525" cy="722" r="12"/>
<circle cx="2562" cy="728" r="8"/>
<circle cx="2597" cy="710" r="11"/>
</g>
<clipPath id="m2clip"><path d="M239.0 961.0 C248.2 958.3 266.5 963.0 282.0 965.0 C297.5 967.0 308.8 971.3 325.0 972.0 C341.2 972.7 353.6 967.6 372.0 969.0 C390.4 970.4 416.7 973.7 427.0 980.0 C437.3 986.3 425.4 994.1 429.0 1004.0 C432.6 1013.9 442.0 1022.4 447.0 1035.0 C452.0 1047.6 455.9 1059.8 457.0 1074.0 C458.1 1088.2 451.0 1101.2 453.0 1114.0 C455.0 1126.8 468.4 1136.5 468.0 1145.0 C467.6 1153.5 457.7 1152.5 451.0 1161.0 C444.3 1169.5 438.7 1180.8 431.0 1192.0 C423.3 1203.2 422.0 1216.0 408.0 1223.0 C394.0 1230.0 372.8 1229.6 353.0 1231.0 C333.2 1232.4 315.6 1228.8 298.0 1231.0 C280.4 1233.2 264.9 1245.9 255.0 1243.0 C245.1 1240.1 251.5 1224.2 243.0 1215.0 C234.5 1205.8 218.6 1201.7 208.0 1192.0 C197.4 1182.3 191.4 1170.2 184.0 1161.0 C176.6 1151.8 167.7 1149.5 167.0 1141.0 C166.3 1132.5 177.7 1126.1 180.0 1114.0 C182.3 1101.9 177.8 1088.2 180.0 1074.0 C182.2 1059.8 185.9 1047.6 192.0 1035.0 C198.1 1022.4 207.0 1013.9 214.0 1004.0 C221.0 994.1 226.5 987.7 231.0 980.0 C235.5 972.3 229.8 963.7 239.0 961.0 Z"/></clipPath>
<path d="M239.0 961.0 C248.2 958.3 266.5 963.0 282.0 965.0 C297.5 967.0 308.8 971.3 325.0 972.0 C341.2 972.7 353.6 967.6 372.0 969.0 C390.4 970.4 416.7 973.7 427.0 980.0 C437.3 986.3 425.4 994.1 429.0 1004.0 C432.6 1013.9 442.0 1022.4 447.0 1035.0 C452.0 1047.6 455.9 1059.8 457.0 1074.0 C458.1 1088.2 451.0 1101.2 453.0 1114.0 C455.0 1126.8 468.4 1136.5 468.0 1145.0 C467.6 1153.5 457.7 1152.5 451.0 1161.0 C444.3 1169.5 438.7 1180.8 431.0 1192.0 C423.3 1203.2 422.0 1216.0 408.0 1223.0 C394.0 1230.0 372.8 1229.6 353.0 1231.0 C333.2 1232.4 315.6 1228.8 298.0 1231.0 C280.4 1233.2 264.9 1245.9 255.0 1243.0 C245.1 1240.1 251.5 1224.2 243.0 1215.0 C234.5 1205.8 218.6 1201.7 208.0 1192.0 C197.4 1182.3 191.4 1170.2 184.0 1161.0 C176.6 1151.8 167.7 1149.5 167.0 1141.0 C166.3 1132.5 177.7 1126.1 180.0 1114.0 C182.3 1101.9 177.8 1088.2 180.0 1074.0 C182.2 1059.8 185.9 1047.6 192.0 1035.0 C198.1 1022.4 207.0 1013.9 214.0 1004.0 C221.0 994.1 226.5 987.7 231.0 980.0 C235.5 972.3 229.8 963.7 239.0 961.0 Z" fill="#b5b4e5" stroke="#7f7fbb" stroke-width="3"/>
<g fill="#9f9ed6" opacity="0.8" clip-path="url(#m2clip)"><ellipse cx="429.3" cy="1109.2" rx="13.5" ry="10.5" transform="rotate(73 429.3 1109.2)"/><ellipse cx="406.4" cy="1172.8" rx="18.6" ry="6.0" transform="rotate(145 406.4 1172.8)"/><ellipse cx="255.9" cy="1010.1" rx="15.5" ry="8.6" transform="rotate(323 255.9 1010.1)"/><ellipse cx="428.8" cy="1098.6" rx="8.3" ry="12.7" transform="rotate(443 428.8 1098.6)"/><ellipse cx="355.1" cy="1209.7" rx="13.1" ry="12.8" transform="rotate(144 355.1 1209.7)"/><ellipse cx="343.7" cy="1223.3" rx="15.7" ry="12.8" transform="rotate(188 343.7 1223.3)"/><ellipse cx="243.6" cy="1187.3" rx="19.7" ry="13.1" transform="rotate(190 243.6 1187.3)"/><ellipse cx="302.3" cy="965.2" rx="17.1" ry="6.6" transform="rotate(372 302.3 965.2)"/><ellipse cx="301.2" cy="992.8" rx="17.0" ry="6.6" transform="rotate(325 301.2 992.8)"/><ellipse cx="252.6" cy="1199.4" rx="13.5" ry="10.2" transform="rotate(231 252.6 1199.4)"/><ellipse cx="462.8" cy="1067.1" rx="21.9" ry="11.4" transform="rotate(424 462.8 1067.1)"/><ellipse cx="376.7" cy="1214.2" rx="15.6" ry="10.5" transform="rotate(129 376.7 1214.2)"/><ellipse cx="368.3" cy="1230.7" rx="16.4" ry="10.6" transform="rotate(135 368.3 1230.7)"/><ellipse cx="196.4" cy="1182.8" rx="17.1" ry="13.1" transform="rotate(216 196.4 1182.8)"/><ellipse cx="178.2" cy="1138.5" rx="14.2" ry="11.4" transform="rotate(257 178.2 1138.5)"/><ellipse cx="399.4" cy="1172.1" rx="21.8" ry="5.8" transform="rotate(114 399.4 1172.1)"/><ellipse cx="244.7" cy="1212.9" rx="20.0" ry="8.8" transform="rotate(211 244.7 1212.9)"/><ellipse cx="344.9" cy="991.8" rx="13.2" ry="9.9" transform="rotate(382 344.9 991.8)"/><ellipse cx="426.4" cy="1126.1" rx="9.9" ry="10.9" transform="rotate(115 426.4 1126.1)"/><ellipse cx="456.1" cy="1078.8" rx="11.6" ry="11.2" transform="rotate(469 456.1 1078.8)"/><ellipse cx="252.5" cy="1183.8" rx="13.3" ry="7.2" transform="rotate(196 252.5 1183.8)"/><ellipse cx="425.6" cy="1130.7" rx="20.1" ry="5.2" transform="rotate(113 425.6 1130.7)"/><ellipse cx="347.6" cy="1206.0" rx="19.5" ry="7.3" transform="rotate(145 347.6 1206.0)"/><ellipse cx="182.6" cy="1137.2" rx="15.3" ry="12.0" transform="rotate(248 182.6 1137.2)"/><ellipse cx="177.6" cy="1081.4" rx="14.5" ry="10.8" transform="rotate(277 177.6 1081.4)"/><ellipse cx="392.2" cy="1180.1" rx="19.0" ry="11.1" transform="rotate(165 392.2 1180.1)"/><ellipse cx="266.8" cy="985.0" rx="10.3" ry="12.0" transform="rotate(316 266.8 985.0)"/><ellipse cx="213.7" cy="1149.6" rx="13.3" ry="7.4" transform="rotate(238 213.7 1149.6)"/><ellipse cx="284.0" cy="981.5" rx="11.4" ry="11.3" transform="rotate(360 284.0 981.5)"/><ellipse cx="367.4" cy="1010.3" rx="16.6" ry="12.3" transform="rotate(373 367.4 1010.3)"/><ellipse cx="358.7" cy="1229.2" rx="13.1" ry="8.2" transform="rotate(182 358.7 1229.2)"/><ellipse cx="228.4" cy="1173.7" rx="11.0" ry="7.7" transform="rotate(240 228.4 1173.7)"/><ellipse cx="219.7" cy="1198.6" rx="8.9" ry="6.9" transform="rotate(230 219.7 1198.6)"/><ellipse cx="186.6" cy="1116.6" rx="21.1" ry="7.1" transform="rotate(244 186.6 1116.6)"/><ellipse cx="442.8" cy="1126.4" rx="12.2" ry="8.8" transform="rotate(72 442.8 1126.4)"/><ellipse cx="441.3" cy="1101.1" rx="18.6" ry="7.3" transform="rotate(115 441.3 1101.1)"/><ellipse cx="205.1" cy="1044.7" rx="18.9" ry="6.8" transform="rotate(305 205.1 1044.7)"/><ellipse cx="391.4" cy="999.8" rx="12.5" ry="5.6" transform="rotate(399 391.4 999.8)"/><ellipse cx="363.8" cy="1208.5" rx="15.6" ry="12.7" transform="rotate(168 363.8 1208.5)"/><ellipse cx="171.0" cy="1084.5" rx="12.3" ry="8.1" transform="rotate(288 171.0 1084.5)"/><ellipse cx="204.4" cy="1064.2" rx="13.7" ry="11.7" transform="rotate(274 204.4 1064.2)"/><ellipse cx="285.6" cy="1001.7" rx="21.4" ry="10.5" transform="rotate(334 285.6 1001.7)"/><ellipse cx="458.6" cy="1086.9" rx="8.9" ry="6.9" transform="rotate(443 458.6 1086.9)"/><ellipse cx="430.9" cy="1099.8" rx="8.7" ry="7.4" transform="rotate(422 430.9 1099.8)"/><ellipse cx="204.9" cy="1167.6" rx="14.2" ry="6.0" transform="rotate(209 204.9 1167.6)"/></g>
<g fill="#cfcff4" opacity="0.8" clip-path="url(#m2clip)"><ellipse cx="392.4" cy="1138.6" rx="9.6" ry="10.1" transform="rotate(118 392.4 1138.6)"/><ellipse cx="301.3" cy="1028.7" rx="12.1" ry="9.7" transform="rotate(351 301.3 1028.7)"/><ellipse cx="438.3" cy="1059.8" rx="10.5" ry="3.6" transform="rotate(445 438.3 1059.8)"/><ellipse cx="367.2" cy="1149.6" rx="14.8" ry="9.7" transform="rotate(156 367.2 1149.6)"/><ellipse cx="398.0" cy="1078.0" rx="7.0" ry="4.5" transform="rotate(462 398.0 1078.0)"/><ellipse cx="379.2" cy="1150.9" rx="6.2" ry="4.0" transform="rotate(103 379.2 1150.9)"/><ellipse cx="265.9" cy="1162.8" rx="9.7" ry="10.3" transform="rotate(197 265.9 1162.8)"/><ellipse cx="363.5" cy="997.7" rx="12.8" ry="7.7" transform="rotate(399 363.5 997.7)"/><ellipse cx="241.3" cy="1058.6" rx="10.0" ry="5.4" transform="rotate(295 241.3 1058.6)"/><ellipse cx="416.0" cy="1093.5" rx="6.8" ry="7.0" transform="rotate(464 416.0 1093.5)"/><ellipse cx="204.5" cy="1138.0" rx="7.1" ry="4.0" transform="rotate(260 204.5 1138.0)"/><ellipse cx="404.0" cy="1126.6" rx="10.6" ry="5.0" transform="rotate(80 404.0 1126.6)"/><ellipse cx="450.5" cy="1106.3" rx="14.3" ry="10.5" transform="rotate(92 450.5 1106.3)"/><ellipse cx="439.5" cy="1067.1" rx="13.4" ry="7.4" transform="rotate(434 439.5 1067.1)"/><ellipse cx="330.9" cy="1190.3" rx="14.7" ry="5.0" transform="rotate(192 330.9 1190.3)"/><ellipse cx="204.3" cy="1094.6" rx="15.9" ry="8.3" transform="rotate(252 204.3 1094.6)"/><ellipse cx="317.0" cy="1168.6" rx="6.3" ry="10.5" transform="rotate(185 317.0 1168.6)"/><ellipse cx="437.1" cy="1078.6" rx="9.8" ry="10.6" transform="rotate(464 437.1 1078.6)"/><ellipse cx="241.0" cy="1120.7" rx="9.8" ry="4.8" transform="rotate(246 241.0 1120.7)"/><ellipse cx="419.4" cy="1155.9" rx="17.8" ry="5.1" transform="rotate(137 419.4 1155.9)"/><ellipse cx="226.3" cy="1052.0" rx="16.9" ry="6.3" transform="rotate(320 226.3 1052.0)"/><ellipse cx="448.3" cy="1128.3" rx="8.2" ry="3.6" transform="rotate(125 448.3 1128.3)"/><ellipse cx="295.2" cy="994.2" rx="15.2" ry="6.3" transform="rotate(327 295.2 994.2)"/><ellipse cx="260.0" cy="1215.1" rx="17.8" ry="5.3" transform="rotate(201 260.0 1215.1)"/><ellipse cx="190.8" cy="1138.4" rx="6.1" ry="9.6" transform="rotate(237 190.8 1138.4)"/><ellipse cx="238.9" cy="1078.1" rx="7.0" ry="10.0" transform="rotate(288 238.9 1078.1)"/><ellipse cx="442.9" cy="1079.9" rx="15.0" ry="4.1" transform="rotate(445 442.9 1079.9)"/><ellipse cx="421.2" cy="1096.2" rx="6.8" ry="4.9" transform="rotate(476 421.2 1096.2)"/><ellipse cx="403.7" cy="1089.0" rx="9.8" ry="8.7" transform="rotate(442 403.7 1089.0)"/><ellipse cx="369.9" cy="1218.0" rx="13.4" ry="6.2" transform="rotate(128 369.9 1218.0)"/><ellipse cx="194.7" cy="1093.6" rx="8.1" ry="4.2" transform="rotate(287 194.7 1093.6)"/><ellipse cx="401.2" cy="1057.6" rx="11.7" ry="8.2" transform="rotate(423 401.2 1057.6)"/><ellipse cx="378.6" cy="1161.8" rx="8.5" ry="5.0" transform="rotate(111 378.6 1161.8)"/><ellipse cx="248.7" cy="1152.0" rx="16.2" ry="5.9" transform="rotate(259 248.7 1152.0)"/><ellipse cx="349.7" cy="1023.2" rx="7.8" ry="7.7" transform="rotate(380 349.7 1023.2)"/></g>
<clipPath id="m2n"><path d="M236.6 1070.0 C239.5 1060.1 242.0 1049.2 251.0 1041.0 C260.0 1032.8 274.9 1025.6 289.7 1022.0 C304.5 1018.4 324.9 1018.3 338.0 1020.0 C351.1 1021.7 359.7 1025.0 367.0 1032.0 C374.3 1039.0 379.0 1049.6 381.0 1061.0 C383.0 1072.4 380.5 1086.8 379.0 1099.0 C377.5 1111.2 374.5 1124.7 372.0 1133.0 C369.5 1141.3 370.3 1142.2 364.5 1148.0 C358.7 1153.8 349.1 1162.9 338.0 1167.0 C326.9 1171.1 312.1 1173.2 299.0 1172.0 C285.9 1170.8 271.2 1166.6 261.0 1160.0 C250.8 1153.4 243.6 1143.4 239.0 1133.0 C234.4 1122.6 234.4 1109.7 234.0 1099.0 C233.6 1088.3 233.7 1079.9 236.6 1070.0 Z"/></clipPath>
<path d="M236.6 1070.0 C239.5 1060.1 242.0 1049.2 251.0 1041.0 C260.0 1032.8 274.9 1025.6 289.7 1022.0 C304.5 1018.4 324.9 1018.3 338.0 1020.0 C351.1 1021.7 359.7 1025.0 367.0 1032.0 C374.3 1039.0 379.0 1049.6 381.0 1061.0 C383.0 1072.4 380.5 1086.8 379.0 1099.0 C377.5 1111.2 374.5 1124.7 372.0 1133.0 C369.5 1141.3 370.3 1142.2 364.5 1148.0 C358.7 1153.8 349.1 1162.9 338.0 1167.0 C326.9 1171.1 312.1 1173.2 299.0 1172.0 C285.9 1170.8 271.2 1166.6 261.0 1160.0 C250.8 1153.4 243.6 1143.4 239.0 1133.0 C234.4 1122.6 234.4 1109.7 234.0 1099.0 C233.6 1088.3 233.7 1079.9 236.6 1070.0 Z" fill="#5f6f94"/>
<g clip-path="url(#m2n)"><ellipse cx="285" cy="1065" rx="60" ry="45" fill="#7282a6" opacity="0.8"/><ellipse cx="330" cy="1150" rx="50" ry="20" fill="#56668a" opacity="0.8"/></g>
<path d="M236.6 1070.0 C239.5 1060.1 242.0 1049.2 251.0 1041.0 C260.0 1032.8 274.9 1025.6 289.7 1022.0 C304.5 1018.4 324.9 1018.3 338.0 1020.0 C351.1 1021.7 359.7 1025.0 367.0 1032.0 C374.3 1039.0 379.0 1049.6 381.0 1061.0 C383.0 1072.4 380.5 1086.8 379.0 1099.0 C377.5 1111.2 374.5 1124.7 372.0 1133.0 C369.5 1141.3 370.3 1142.2 364.5 1148.0 C358.7 1153.8 349.1 1162.9 338.0 1167.0 C326.9 1171.1 312.1 1173.2 299.0 1172.0 C285.9 1170.8 271.2 1166.6 261.0 1160.0 C250.8 1153.4 243.6 1143.4 239.0 1133.0 C234.4 1122.6 234.4 1109.7 234.0 1099.0 C233.6 1088.3 233.7 1079.9 236.6 1070.0 Z" fill="none" stroke="#4f5f84" stroke-width="2"/>
<circle cx="360" cy="1140" r="11" fill="#66769a" stroke="#55658a" stroke-width="1.5"/>
<path d="M255 1075 C260 1055 275 1045 290 1042" fill="none" stroke="#a0aecb" stroke-width="7" stroke-linecap="round" opacity="0.8"/>
<ellipse cx="300" cy="1070" rx="5" ry="11" fill="#a0aecb" opacity="0.8" transform="rotate(25 300 1070)"/>
<g fill="none" stroke="#9b9ad2" stroke-width="2">
<circle cx="318" cy="990" r="6"/>
<circle cx="383" cy="1023" r="7"/>
<circle cx="397" cy="1086" r="6"/>
<circle cx="422" cy="1125" r="7"/>
<circle cx="390" cy="1160" r="7"/>
<circle cx="308" cy="1190" r="6"/>
<circle cx="260" cy="1196" r="6"/>
<circle cx="204" cy="1118" r="7"/>
</g>
<clipPath id="mclip"><path d="M161.0 1418.0 C172.9 1415.7 192.0 1422.5 212.0 1423.0 C232.0 1423.5 254.0 1418.1 272.0 1421.0 C290.0 1423.9 297.4 1434.9 312.0 1439.0 C326.6 1443.1 345.3 1439.1 353.0 1444.0 C360.7 1448.9 351.4 1455.6 355.0 1466.0 C358.6 1476.4 368.0 1486.5 373.0 1502.0 C378.0 1517.5 379.4 1533.1 383.0 1552.0 C386.6 1570.9 394.8 1592.4 393.0 1607.0 C391.2 1621.6 380.2 1622.0 373.0 1633.0 C365.8 1644.0 360.2 1657.2 353.0 1668.0 C345.8 1678.8 345.8 1686.7 333.0 1693.0 C320.2 1699.3 301.1 1699.4 282.0 1703.0 C262.9 1706.6 248.8 1709.8 227.0 1713.0 C205.2 1716.2 173.8 1723.7 161.0 1721.0 C148.2 1718.3 163.2 1708.4 156.0 1698.0 C148.8 1687.6 132.7 1674.7 121.0 1663.0 C109.3 1651.3 99.6 1642.2 91.0 1633.0 C82.4 1623.8 73.9 1621.2 73.0 1612.0 C72.1 1602.8 82.8 1595.5 86.0 1582.0 C89.2 1568.5 86.5 1551.4 91.0 1537.0 C95.5 1522.6 102.9 1514.8 111.0 1502.0 C119.1 1489.2 129.7 1477.9 136.0 1466.0 C142.3 1454.1 141.5 1444.6 146.0 1436.0 C150.5 1427.4 149.1 1420.3 161.0 1418.0 Z"/></clipPath>
<path d="M161.0 1418.0 C172.9 1415.7 192.0 1422.5 212.0 1423.0 C232.0 1423.5 254.0 1418.1 272.0 1421.0 C290.0 1423.9 297.4 1434.9 312.0 1439.0 C326.6 1443.1 345.3 1439.1 353.0 1444.0 C360.7 1448.9 351.4 1455.6 355.0 1466.0 C358.6 1476.4 368.0 1486.5 373.0 1502.0 C378.0 1517.5 379.4 1533.1 383.0 1552.0 C386.6 1570.9 394.8 1592.4 393.0 1607.0 C391.2 1621.6 380.2 1622.0 373.0 1633.0 C365.8 1644.0 360.2 1657.2 353.0 1668.0 C345.8 1678.8 345.8 1686.7 333.0 1693.0 C320.2 1699.3 301.1 1699.4 282.0 1703.0 C262.9 1706.6 248.8 1709.8 227.0 1713.0 C205.2 1716.2 173.8 1723.7 161.0 1721.0 C148.2 1718.3 163.2 1708.4 156.0 1698.0 C148.8 1687.6 132.7 1674.7 121.0 1663.0 C109.3 1651.3 99.6 1642.2 91.0 1633.0 C82.4 1623.8 73.9 1621.2 73.0 1612.0 C72.1 1602.8 82.8 1595.5 86.0 1582.0 C89.2 1568.5 86.5 1551.4 91.0 1537.0 C95.5 1522.6 102.9 1514.8 111.0 1502.0 C119.1 1489.2 129.7 1477.9 136.0 1466.0 C142.3 1454.1 141.5 1444.6 146.0 1436.0 C150.5 1427.4 149.1 1420.3 161.0 1418.0 Z" fill="#d6c0e2" stroke="#a485c4" stroke-width="3"/>
<g fill="#c2a5d6" opacity="0.8" clip-path="url(#mclip)"><ellipse cx="136.9" cy="1651.5" rx="10.3" ry="12.5" transform="rotate(232 136.9 1651.5)"/><ellipse cx="179.2" cy="1440.2" rx="13.4" ry="10.9" transform="rotate(343 179.2 1440.2)"/><ellipse cx="262.6" cy="1428.5" rx="19.8" ry="8.5" transform="rotate(351 262.6 1428.5)"/><ellipse cx="324.1" cy="1685.3" rx="10.3" ry="10.3" transform="rotate(151 324.1 1685.3)"/><ellipse cx="379.8" cy="1622.0" rx="8.5" ry="12.1" transform="rotate(132 379.8 1622.0)"/><ellipse cx="266.0" cy="1709.9" rx="18.3" ry="5.9" transform="rotate(178 266.0 1709.9)"/><ellipse cx="349.7" cy="1675.8" rx="17.6" ry="13.0" transform="rotate(108 349.7 1675.8)"/><ellipse cx="171.1" cy="1695.8" rx="16.5" ry="6.3" transform="rotate(228 171.1 1695.8)"/><ellipse cx="309.6" cy="1464.4" rx="10.0" ry="10.4" transform="rotate(389 309.6 1464.4)"/><ellipse cx="158.6" cy="1452.8" rx="13.5" ry="5.0" transform="rotate(307 158.6 1452.8)"/><ellipse cx="83.3" cy="1605.5" rx="14.0" ry="11.1" transform="rotate(257 83.3 1605.5)"/><ellipse cx="343.6" cy="1471.0" rx="12.5" ry="6.0" transform="rotate(381 343.6 1471.0)"/><ellipse cx="389.4" cy="1605.3" rx="20.2" ry="11.1" transform="rotate(81 389.4 1605.3)"/><ellipse cx="165.8" cy="1468.0" rx="20.4" ry="10.3" transform="rotate(343 165.8 1468.0)"/><ellipse cx="124.5" cy="1484.9" rx="19.9" ry="12.9" transform="rotate(294 124.5 1484.9)"/><ellipse cx="89.7" cy="1623.8" rx="17.5" ry="8.2" transform="rotate(244 89.7 1623.8)"/><ellipse cx="363.5" cy="1542.8" rx="11.0" ry="10.6" transform="rotate(425 363.5 1542.8)"/><ellipse cx="341.4" cy="1491.6" rx="20.9" ry="8.0" transform="rotate(436 341.4 1491.6)"/><ellipse cx="234.1" cy="1422.6" rx="11.0" ry="6.2" transform="rotate(332 234.1 1422.6)"/><ellipse cx="297.2" cy="1697.2" rx="8.9" ry="6.8" transform="rotate(159 297.2 1697.2)"/><ellipse cx="309.2" cy="1673.4" rx="11.2" ry="10.5" transform="rotate(123 309.2 1673.4)"/><ellipse cx="381.7" cy="1565.8" rx="18.0" ry="9.4" transform="rotate(449 381.7 1565.8)"/><ellipse cx="393.1" cy="1540.0" rx="19.5" ry="5.1" transform="rotate(445 393.1 1540.0)"/><ellipse cx="373.6" cy="1517.4" rx="15.2" ry="10.3" transform="rotate(410 373.6 1517.4)"/><ellipse cx="211.0" cy="1421.7" rx="9.0" ry="9.1" transform="rotate(358 211.0 1421.7)"/><ellipse cx="141.7" cy="1682.8" rx="20.9" ry="12.4" transform="rotate(205 141.7 1682.8)"/><ellipse cx="326.2" cy="1691.1" rx="16.6" ry="11.8" transform="rotate(167 326.2 1691.1)"/><ellipse cx="205.7" cy="1704.6" rx="12.2" ry="11.5" transform="rotate(202 205.7 1704.6)"/><ellipse cx="242.9" cy="1702.7" rx="16.3" ry="6.8" transform="rotate(157 242.9 1702.7)"/><ellipse cx="111.2" cy="1586.7" rx="14.9" ry="12.7" transform="rotate(280 111.2 1586.7)"/><ellipse cx="383.4" cy="1618.1" rx="18.0" ry="10.7" transform="rotate(81 383.4 1618.1)"/><ellipse cx="241.0" cy="1446.9" rx="19.2" ry="7.5" transform="rotate(356 241.0 1446.9)"/><ellipse cx="308.9" cy="1701.8" rx="11.1" ry="12.1" transform="rotate(153 308.9 1701.8)"/><ellipse cx="323.2" cy="1682.1" rx="15.4" ry="5.0" transform="rotate(163 323.2 1682.1)"/><ellipse cx="217.1" cy="1680.6" rx="18.7" ry="10.9" transform="rotate(181 217.1 1680.6)"/><ellipse cx="289.7" cy="1693.4" rx="16.2" ry="10.6" transform="rotate(156 289.7 1693.4)"/><ellipse cx="92.2" cy="1508.1" rx="10.7" ry="6.3" transform="rotate(293 92.2 1508.1)"/><ellipse cx="237.1" cy="1419.4" rx="19.9" ry="8.5" transform="rotate(374 237.1 1419.4)"/><ellipse cx="341.9" cy="1648.4" rx="8.9" ry="11.8" transform="rotate(158 341.9 1648.4)"/><ellipse cx="157.5" cy="1439.9" rx="13.2" ry="11.5" transform="rotate(306 157.5 1439.9)"/><ellipse cx="138.9" cy="1661.2" rx="20.1" ry="6.3" transform="rotate(203 138.9 1661.2)"/><ellipse cx="368.8" cy="1648.1" rx="12.4" ry="12.4" transform="rotate(111 368.8 1648.1)"/><ellipse cx="300.0" cy="1464.3" rx="20.6" ry="13.0" transform="rotate(414 300.0 1464.3)"/><ellipse cx="174.8" cy="1425.2" rx="20.8" ry="12.9" transform="rotate(326 174.8 1425.2)"/><ellipse cx="325.4" cy="1448.5" rx="12.8" ry="6.2" transform="rotate(420 325.4 1448.5)"/></g>
<g fill="#e8dcf0" opacity="0.8" clip-path="url(#mclip)"><ellipse cx="180.6" cy="1509.1" rx="9.3" ry="5.2" transform="rotate(334 180.6 1509.1)"/><ellipse cx="168.9" cy="1446.9" rx="7.0" ry="6.6" transform="rotate(305 168.9 1446.9)"/><ellipse cx="255.8" cy="1675.0" rx="6.3" ry="5.0" transform="rotate(178 255.8 1675.0)"/><ellipse cx="140.9" cy="1543.0" rx="13.1" ry="9.4" transform="rotate(257 140.9 1543.0)"/><ellipse cx="277.8" cy="1453.3" rx="10.1" ry="4.7" transform="rotate(408 277.8 1453.3)"/><ellipse cx="188.1" cy="1637.5" rx="7.2" ry="9.7" transform="rotate(217 188.1 1637.5)"/><ellipse cx="279.6" cy="1451.7" rx="12.4" ry="10.6" transform="rotate(373 279.6 1451.7)"/><ellipse cx="100.7" cy="1525.9" rx="13.4" ry="9.8" transform="rotate(293 100.7 1525.9)"/><ellipse cx="209.5" cy="1493.1" rx="8.7" ry="5.7" transform="rotate(318 209.5 1493.1)"/><ellipse cx="242.4" cy="1649.3" rx="9.3" ry="8.2" transform="rotate(166 242.4 1649.3)"/><ellipse cx="167.8" cy="1632.9" rx="9.2" ry="10.3" transform="rotate(232 167.8 1632.9)"/><ellipse cx="161.5" cy="1513.2" rx="14.7" ry="4.8" transform="rotate(302 161.5 1513.2)"/><ellipse cx="358.8" cy="1560.2" rx="12.7" ry="8.5" transform="rotate(467 358.8 1560.2)"/><ellipse cx="248.7" cy="1478.7" rx="6.4" ry="5.9" transform="rotate(355 248.7 1478.7)"/><ellipse cx="268.9" cy="1702.5" rx="16.5" ry="5.9" transform="rotate(175 268.9 1702.5)"/><ellipse cx="117.4" cy="1651.4" rx="11.5" ry="5.5" transform="rotate(217 117.4 1651.4)"/><ellipse cx="141.3" cy="1533.1" rx="13.0" ry="10.1" transform="rotate(286 141.3 1533.1)"/><ellipse cx="262.1" cy="1707.7" rx="12.1" ry="4.3" transform="rotate(142 262.1 1707.7)"/><ellipse cx="329.6" cy="1642.6" rx="15.5" ry="6.6" transform="rotate(103 329.6 1642.6)"/><ellipse cx="121.3" cy="1664.3" rx="12.3" ry="10.6" transform="rotate(249 121.3 1664.3)"/><ellipse cx="364.5" cy="1576.9" rx="14.2" ry="7.5" transform="rotate(80 364.5 1576.9)"/><ellipse cx="177.3" cy="1504.1" rx="11.2" ry="6.9" transform="rotate(348 177.3 1504.1)"/><ellipse cx="303.4" cy="1502.7" rx="12.0" ry="4.9" transform="rotate(430 303.4 1502.7)"/><ellipse cx="302.7" cy="1498.9" rx="13.7" ry="8.0" transform="rotate(383 302.7 1498.9)"/><ellipse cx="242.3" cy="1456.9" rx="15.3" ry="7.4" transform="rotate(335 242.3 1456.9)"/><ellipse cx="196.4" cy="1636.2" rx="17.1" ry="9.9" transform="rotate(227 196.4 1636.2)"/><ellipse cx="203.2" cy="1641.8" rx="16.5" ry="10.4" transform="rotate(176 203.2 1641.8)"/><ellipse cx="148.3" cy="1575.0" rx="15.1" ry="9.1" transform="rotate(243 148.3 1575.0)"/><ellipse cx="114.9" cy="1585.3" rx="9.2" ry="9.9" transform="rotate(256 114.9 1585.3)"/><ellipse cx="261.2" cy="1676.2" rx="14.8" ry="5.0" transform="rotate(155 261.2 1676.2)"/><ellipse cx="359.7" cy="1564.4" rx="11.3" ry="7.3" transform="rotate(426 359.7 1564.4)"/><ellipse cx="249.5" cy="1664.6" rx="13.1" ry="5.3" transform="rotate(154 249.5 1664.6)"/><ellipse cx="346.2" cy="1618.7" rx="8.7" ry="10.1" transform="rotate(137 346.2 1618.7)"/><ellipse cx="320.7" cy="1607.2" rx="14.0" ry="5.1" transform="rotate(93 320.7 1607.2)"/><ellipse cx="344.3" cy="1523.2" rx="11.7" ry="9.2" transform="rotate(445 344.3 1523.2)"/></g>
<clipPath id="mn"><path d="M151.0 1537.0 C155.2 1523.4 160.6 1510.7 171.0 1502.0 C181.4 1493.3 196.5 1488.2 212.0 1486.0 C227.5 1483.8 248.4 1484.6 262.0 1489.0 C275.6 1493.4 285.2 1501.3 292.0 1512.0 C298.8 1522.7 301.1 1538.4 302.0 1552.0 C302.9 1565.6 299.6 1581.8 297.0 1592.0 C294.4 1602.2 291.2 1605.0 287.0 1612.0 C282.8 1619.0 280.5 1626.9 272.0 1633.0 C263.5 1639.1 250.8 1646.0 237.0 1648.0 C223.2 1650.0 204.8 1649.4 191.0 1645.0 C177.2 1640.6 163.7 1632.7 156.0 1622.0 C148.3 1611.3 146.8 1596.5 146.0 1582.0 C145.2 1567.5 146.8 1550.6 151.0 1537.0 Z"/></clipPath>
<path d="M151.0 1537.0 C155.2 1523.4 160.6 1510.7 171.0 1502.0 C181.4 1493.3 196.5 1488.2 212.0 1486.0 C227.5 1483.8 248.4 1484.6 262.0 1489.0 C275.6 1493.4 285.2 1501.3 292.0 1512.0 C298.8 1522.7 301.1 1538.4 302.0 1552.0 C302.9 1565.6 299.6 1581.8 297.0 1592.0 C294.4 1602.2 291.2 1605.0 287.0 1612.0 C282.8 1619.0 280.5 1626.9 272.0 1633.0 C263.5 1639.1 250.8 1646.0 237.0 1648.0 C223.2 1650.0 204.8 1649.4 191.0 1645.0 C177.2 1640.6 163.7 1632.7 156.0 1622.0 C148.3 1611.3 146.8 1596.5 146.0 1582.0 C145.2 1567.5 146.8 1550.6 151.0 1537.0 Z" fill="#9478c4"/>
<g clip-path="url(#mn)"><ellipse cx="200" cy="1530" rx="60" ry="45" fill="#a68cd2" opacity="0.8"/><ellipse cx="250" cy="1630" rx="55" ry="22" fill="#8a6cbc" opacity="0.8"/></g>
<path d="M151.0 1537.0 C155.2 1523.4 160.6 1510.7 171.0 1502.0 C181.4 1493.3 196.5 1488.2 212.0 1486.0 C227.5 1483.8 248.4 1484.6 262.0 1489.0 C275.6 1493.4 285.2 1501.3 292.0 1512.0 C298.8 1522.7 301.1 1538.4 302.0 1552.0 C302.9 1565.6 299.6 1581.8 297.0 1592.0 C294.4 1602.2 291.2 1605.0 287.0 1612.0 C282.8 1619.0 280.5 1626.9 272.0 1633.0 C263.5 1639.1 250.8 1646.0 237.0 1648.0 C223.2 1650.0 204.8 1649.4 191.0 1645.0 C177.2 1640.6 163.7 1632.7 156.0 1622.0 C148.3 1611.3 146.8 1596.5 146.0 1582.0 C145.2 1567.5 146.8 1550.6 151.0 1537.0 Z" fill="none" stroke="#8266b8" stroke-width="2"/>
<circle cx="283" cy="1610" r="12" fill="#9a7ec6" stroke="#8468b8" stroke-width="1.5"/>
<path d="M165 1545 C170 1522 185 1510 205 1506" fill="none" stroke="#c4b2e0" stroke-width="7" stroke-linecap="round" opacity="0.8"/>
<ellipse cx="215" cy="1540" rx="5" ry="11" fill="#c4b2e0" opacity="0.8" transform="rotate(25 215 1540)"/>
<g fill="none" stroke="#b89ad0" stroke-width="2">
<circle cx="233" cy="1451" r="6"/>
<circle cx="303" cy="1489" r="6"/>
<circle cx="318" cy="1553" r="6"/>
<circle cx="344" cy="1595" r="7"/>
<circle cx="311" cy="1637" r="7"/>
<circle cx="222" cy="1668" r="6"/>
<circle cx="172" cy="1671" r="6"/>
<circle cx="114" cy="1591" r="7"/>
<circle cx="150" cy="1498" r="7"/>
</g>
<ellipse cx="2696" cy="1234" rx="193" ry="198" fill="#a9c9a9" stroke="#5c8c4c" stroke-width="4.5"/>
<ellipse cx="2715" cy="1253" rx="120" ry="118" fill="#78a77b" stroke="#5a8a5c" stroke-width="3"/>
<ellipse cx="2907" cy="1899" rx="193" ry="198" fill="#eed2bb" stroke="#ad8c74" stroke-width="4.5"/>
<ellipse cx="2928" cy="1918" rx="121" ry="120" fill="#d6b6a2" stroke="#c9a791" stroke-width="2"/>
<rect x="627.0" y="340.0" width="58" height="36" rx="18.0" ry="18.0" fill="#8f1717" stroke="#2b2b2e" stroke-width="4"/>
<rect x="541.0" y="427.0" width="58" height="36" rx="18.0" ry="18.0" fill="#3f7016" stroke="#2b2b2e" stroke-width="4"/>
<rect x="460.0" y="489.0" width="58" height="36" rx="18.0" ry="18.0" fill="#cc48c8" stroke="#2b2b2e" stroke-width="4"/>
<rect x="267.0" y="518.0" width="58" height="36" rx="18.0" ry="18.0" fill="#8bb56a" stroke="#2b2b2e" stroke-width="4"/>
<rect x="379.0" y="518.0" width="58" height="36" rx="18.0" ry="18.0" fill="#f2f25a" stroke="#2b2b2e" stroke-width="4"/>
<rect x="755.0" y="661.0" width="58" height="36" rx="18.0" ry="18.0" fill="#7a4ab4" stroke="#2b2b2e" stroke-width="4"/>
<rect x="838.0" y="759.0" width="58" height="36" rx="18.0" ry="18.0" fill="#b9d3ef" stroke="#2b2b2e" stroke-width="4"/>
<rect x="997.0" y="761.0" width="58" height="36" rx="18.0" ry="18.0" fill="#c23a32" stroke="#2b2b2e" stroke-width="4"/>
<rect x="1463.0" y="1046.0" width="58" height="36" rx="18.0" ry="18.0" fill="#c23a32" stroke="#2b2b2e" stroke-width="4"/>
<rect x="1738.0" y="311.0" width="58" height="36" rx="18.0" ry="18.0" fill="#f8ecd8" stroke="#2b2b2e" stroke-width="4"/>
<rect x="2123.0" y="329.0" width="58" height="36" rx="18.0" ry="18.0" fill="#7a4ab4" stroke="#2b2b2e" stroke-width="4"/>
<rect x="2074.0" y="409.0" width="58" height="36" rx="18.0" ry="18.0" fill="#cc48c8" stroke="#2b2b2e" stroke-width="4"/>
<rect x="1852.0" y="446.0" width="58" height="36" rx="18.0" ry="18.0" fill="#402b6c" stroke="#2b2b2e" stroke-width="4"/>
<rect x="1975.0" y="470.0" width="58" height="36" rx="18.0" ry="18.0" fill="#c23a32" stroke="#2b2b2e" stroke-width="4"/>
<rect x="2314.0" y="590.0" width="58" height="36" rx="18.0" ry="18.0" fill="#402b6c" stroke="#2b2b2e" stroke-width="4"/>
<rect x="2374.0" y="722.0" width="58" height="36" rx="18.0" ry="18.0" fill="#eed4e8" stroke="#2b2b2e" stroke-width="4"/>
<rect x="2509.0" y="763.0" width="58" height="36" rx="18.0" ry="18.0" fill="#9d7f6e" stroke="#2b2b2e" stroke-width="4"/>
<rect x="2635.0" y="719.0" width="58" height="36" rx="18.0" ry="18.0" fill="#7b2fe2" stroke="#2b2b2e" stroke-width="4"/>
<rect x="413.0" y="1162.0" width="58" height="36" rx="18.0" ry="18.0" fill="#7b2fe2" stroke="#2b2b2e" stroke-width="4"/>
<rect x="2510.0" y="1371.0" width="58" height="36" rx="18.0" ry="18.0" fill="#eed4e8" stroke="#2b2b2e" stroke-width="4"/>
<rect x="2672.0" y="1436.0" width="58" height="36" rx="18.0" ry="18.0" fill="#9d7f6e" stroke="#2b2b2e" stroke-width="4"/>
<rect x="2833.0" y="1355.0" width="58" height="36" rx="18.0" ry="18.0" fill="#7b2fe2" stroke="#2b2b2e" stroke-width="4"/>
<rect x="352.0" y="1515.0" width="58" height="36" rx="18.0" ry="18.0" fill="#dbba2c" stroke="#2b2b2e" stroke-width="4"/>
<rect x="328.0" y="1626.0" width="58" height="36" rx="18.0" ry="18.0" fill="#4f84b8" stroke="#2b2b2e" stroke-width="4"/>
<rect x="88.0" y="1666.0" width="58" height="36" rx="18.0" ry="18.0" fill="#33409a" stroke="#2b2b2e" stroke-width="4"/>
<rect x="221.0" y="1705.0" width="58" height="36" rx="18.0" ry="18.0" fill="#b9d3ef" stroke="#2b2b2e" stroke-width="4"/>
<rect x="2863.0" y="2096.0" width="58" height="36" rx="18.0" ry="18.0" fill="#6f7276" stroke="#2b2b2e" stroke-width="4"/>
<rect x="828.0" y="1960.0" width="58" height="36" rx="18.0" ry="18.0" fill="#b9d3ef" stroke="#2b2b2e" stroke-width="4"/>
<rect x="1311.0" y="1943.0" width="58" height="36" rx="18.0" ry="18.0" fill="#7a4ab4" stroke="#2b2b2e" stroke-width="4"/>
<rect x="1834.0" y="1922.0" width="58" height="36" rx="18.0" ry="18.0" fill="#6f7276" stroke="#2b2b2e" stroke-width="4"/>
<g fill="none" stroke="#111" stroke-width="7">
<ellipse cx="1485" cy="2370" rx="1197" ry="197"/>
<path d="M289 2370 V2790 M2682 2370 V2790"/>
<path d="M288 2790 A1197 196 0 0 0 2682 2790"/>
</g>
<g transform="translate(922,2516)"><g fill="none" stroke="#c1c332" stroke-width="3.4" stroke-linecap="round"><path d="M10 6 C10 -14 19 -14 19 6"/><path d="M52 22 C50 -12 78 -14 78 16"/><path d="M38 -33 C36 -10 33 0 34 16"/><path d="M47 -33 C46 -10 43 0 44 12"/><path d="M63 -44 C80 -40 86 -25 87 14"/><path d="M9 124 C6 135 14 145 12 158"/><path d="M26 132 C24 165 54 166 51 136"/><path d="M72 132 C70 150 62 160 63 175"/><path d="M90 124 C92 138 96 146 101 152"/></g><rect x="6" y="3" width="18" height="110" rx="9.0" ry="6" fill="#c1c332"/><ellipse cx="15.0" cy="8" rx="9.0" ry="5" fill="#eef055"/><rect x="29" y="-2" width="20" height="110" rx="10.0" ry="6" fill="#c1c332"/><ellipse cx="39.0" cy="3" rx="10.0" ry="5" fill="#eef055"/><rect x="50" y="-2" width="21" height="110" rx="10.5" ry="6" fill="#c1c332"/><ellipse cx="60.5" cy="3" rx="10.5" ry="5" fill="#eef055"/><rect x="73" y="4" width="21" height="110" rx="10.5" ry="6" fill="#c1c332"/><ellipse cx="83.5" cy="9" rx="10.5" ry="5" fill="#eef055"/><rect x="0" y="13" width="18" height="112" rx="9.0" ry="6" fill="#ecee3e" stroke="#c1c332" stroke-width="1.6"/><ellipse cx="9.0" cy="18" rx="8.0" ry="5" fill="#eef055"/><rect x="18" y="18" width="20" height="115" rx="10.0" ry="6" fill="#ecee3e" stroke="#c1c332" stroke-width="1.6"/><ellipse cx="28.0" cy="23" rx="9.0" ry="5" fill="#eef055"/><rect x="38" y="23" width="23" height="114" rx="11.5" ry="6" fill="#ecee3e" stroke="#c1c332" stroke-width="1.6"/><ellipse cx="49.5" cy="28" rx="10.5" ry="5" fill="#eef055"/><rect x="61" y="18" width="20" height="115" rx="10.0" ry="6" fill="#ecee3e" stroke="#c1c332" stroke-width="1.6"/><ellipse cx="71.0" cy="23" rx="9.0" ry="5" fill="#eef055"/><rect x="81" y="13" width="18" height="112" rx="9.0" ry="6" fill="#ecee3e" stroke="#c1c332" stroke-width="1.6"/><ellipse cx="90.0" cy="18" rx="8.0" ry="5" fill="#eef055"/></g>
<rect x="942.0" y="2447.0" width="58" height="36" rx="18.0" ry="18.0" fill="#f2f25a" stroke="#2b2b2e" stroke-width="4"/>
<g transform="translate(369,2363)"><g fill="none" stroke="#58823e" stroke-width="3.4" stroke-linecap="round"><path d="M10 6 C10 -14 19 -14 19 6"/><path d="M52 22 C50 -12 78 -14 78 16"/><path d="M38 -33 C36 -10 33 0 34 16"/><path d="M47 -33 C46 -10 43 0 44 12"/><path d="M63 -44 C80 -40 86 -25 87 14"/><path d="M9 124 C6 135 14 145 12 158"/><path d="M26 132 C24 165 54 166 51 136"/><path d="M72 132 C70 150 62 160 63 175"/><path d="M90 124 C92 138 96 146 101 152"/></g><rect x="6" y="3" width="18" height="110" rx="9.0" ry="6" fill="#58823e"/><ellipse cx="15.0" cy="8" rx="9.0" ry="5" fill="#7daa61"/><rect x="29" y="-2" width="20" height="110" rx="10.0" ry="6" fill="#58823e"/><ellipse cx="39.0" cy="3" rx="10.0" ry="5" fill="#7daa61"/><rect x="50" y="-2" width="21" height="110" rx="10.5" ry="6" fill="#58823e"/><ellipse cx="60.5" cy="3" rx="10.5" ry="5" fill="#7daa61"/><rect x="73" y="4" width="21" height="110" rx="10.5" ry="6" fill="#58823e"/><ellipse cx="83.5" cy="9" rx="10.5" ry="5" fill="#7daa61"/><rect x="0" y="13" width="18" height="112" rx="9.0" ry="6" fill="#6c9f4c" stroke="#58823e" stroke-width="1.6"/><ellipse cx="9.0" cy="18" rx="8.0" ry="5" fill="#7daa61"/><rect x="18" y="18" width="20" height="115" rx="10.0" ry="6" fill="#6c9f4c" stroke="#58823e" stroke-width="1.6"/><ellipse cx="28.0" cy="23" rx="9.0" ry="5" fill="#7daa61"/><rect x="38" y="23" width="23" height="114" rx="11.5" ry="6" fill="#6c9f4c" stroke="#58823e" stroke-width="1.6"/><ellipse cx="49.5" cy="28" rx="10.5" ry="5" fill="#7daa61"/><rect x="61" y="18" width="20" height="115" rx="10.0" ry="6" fill="#6c9f4c" stroke="#58823e" stroke-width="1.6"/><ellipse cx="71.0" cy="23" rx="9.0" ry="5" fill="#7daa61"/><rect x="81" y="13" width="18" height="112" rx="9.0" ry="6" fill="#6c9f4c" stroke="#58823e" stroke-width="1.6"/><ellipse cx="90.0" cy="18" rx="8.0" ry="5" fill="#7daa61"/></g>
<rect x="389.0" y="2286.0" width="58" height="36" rx="18.0" ry="18.0" fill="#8bb56a" stroke="#2b2b2e" stroke-width="4"/>
<g transform="translate(533,2453)"><g fill="none" stroke="#be712f" stroke-width="3.4" stroke-linecap="round"><path d="M10 6 C10 -14 19 -14 19 6"/><path d="M52 22 C50 -12 78 -14 78 16"/><path d="M38 -33 C36 -10 33 0 34 16"/><path d="M47 -33 C46 -10 43 0 44 12"/><path d="M63 -44 C80 -40 86 -25 87 14"/><path d="M9 124 C6 135 14 145 12 158"/><path d="M26 132 C24 165 54 166 51 136"/><path d="M72 132 C70 150 62 160 63 175"/><path d="M90 124 C92 138 96 146 101 152"/></g><rect x="6" y="3" width="18" height="110" rx="9.0" ry="6" fill="#be712f"/><ellipse cx="15.0" cy="8" rx="9.0" ry="5" fill="#ea9851"/><rect x="29" y="-2" width="20" height="110" rx="10.0" ry="6" fill="#be712f"/><ellipse cx="39.0" cy="3" rx="10.0" ry="5" fill="#ea9851"/><rect x="50" y="-2" width="21" height="110" rx="10.5" ry="6" fill="#be712f"/><ellipse cx="60.5" cy="3" rx="10.5" ry="5" fill="#ea9851"/><rect x="73" y="4" width="21" height="110" rx="10.5" ry="6" fill="#be712f"/><ellipse cx="83.5" cy="9" rx="10.5" ry="5" fill="#ea9851"/><rect x="0" y="13" width="18" height="112" rx="9.0" ry="6" fill="#e88a3a" stroke="#be712f" stroke-width="1.6"/><ellipse cx="9.0" cy="18" rx="8.0" ry="5" fill="#ea9851"/><rect x="18" y="18" width="20" height="115" rx="10.0" ry="6" fill="#e88a3a" stroke="#be712f" stroke-width="1.6"/><ellipse cx="28.0" cy="23" rx="9.0" ry="5" fill="#ea9851"/><rect x="38" y="23" width="23" height="114" rx="11.5" ry="6" fill="#e88a3a" stroke="#be712f" stroke-width="1.6"/><ellipse cx="49.5" cy="28" rx="10.5" ry="5" fill="#ea9851"/><rect x="61" y="18" width="20" height="115" rx="10.0" ry="6" fill="#e88a3a" stroke="#be712f" stroke-width="1.6"/><ellipse cx="71.0" cy="23" rx="9.0" ry="5" fill="#ea9851"/><rect x="81" y="13" width="18" height="112" rx="9.0" ry="6" fill="#e88a3a" stroke="#be712f" stroke-width="1.6"/><ellipse cx="90.0" cy="18" rx="8.0" ry="5" fill="#ea9851"/></g>
<rect x="553.0" y="2384.0" width="58" height="36" rx="18.0" ry="18.0" fill="#5a8ac0" stroke="#2b2b2e" stroke-width="4"/>
<g transform="translate(712,2495)"><g fill="none" stroke="#3c6296" stroke-width="3.4" stroke-linecap="round"><path d="M10 6 C10 -14 19 -14 19 6"/><path d="M52 22 C50 -12 78 -14 78 16"/><path d="M38 -33 C36 -10 33 0 34 16"/><path d="M47 -33 C46 -10 43 0 44 12"/><path d="M63 -44 C80 -40 86 -25 87 14"/><path d="M9 124 C6 135 14 145 12 158"/><path d="M26 132 C24 165 54 166 51 136"/><path d="M72 132 C70 150 62 160 63 175"/><path d="M90 124 C92 138 96 146 101 152"/></g><rect x="6" y="3" width="18" height="110" rx="9.0" ry="6" fill="#3c6296"/><ellipse cx="15.0" cy="8" rx="9.0" ry="5" fill="#5f88c0"/><rect x="29" y="-2" width="20" height="110" rx="10.0" ry="6" fill="#3c6296"/><ellipse cx="39.0" cy="3" rx="10.0" ry="5" fill="#5f88c0"/><rect x="50" y="-2" width="21" height="110" rx="10.5" ry="6" fill="#3c6296"/><ellipse cx="60.5" cy="3" rx="10.5" ry="5" fill="#5f88c0"/><rect x="73" y="4" width="21" height="110" rx="10.5" ry="6" fill="#3c6296"/><ellipse cx="83.5" cy="9" rx="10.5" ry="5" fill="#5f88c0"/><rect x="0" y="13" width="18" height="112" rx="9.0" ry="6" fill="#4a78b8" stroke="#3c6296" stroke-width="1.6"/><ellipse cx="9.0" cy="18" rx="8.0" ry="5" fill="#5f88c0"/><rect x="18" y="18" width="20" height="115" rx="10.0" ry="6" fill="#4a78b8" stroke="#3c6296" stroke-width="1.6"/><ellipse cx="28.0" cy="23" rx="9.0" ry="5" fill="#5f88c0"/><rect x="38" y="23" width="23" height="114" rx="11.5" ry="6" fill="#4a78b8" stroke="#3c6296" stroke-width="1.6"/><ellipse cx="49.5" cy="28" rx="10.5" ry="5" fill="#5f88c0"/><rect x="61" y="18" width="20" height="115" rx="10.0" ry="6" fill="#4a78b8" stroke="#3c6296" stroke-width="1.6"/><ellipse cx="71.0" cy="23" rx="9.0" ry="5" fill="#5f88c0"/><rect x="81" y="13" width="18" height="112" rx="9.0" ry="6" fill="#4a78b8" stroke="#3c6296" stroke-width="1.6"/><ellipse cx="90.0" cy="18" rx="8.0" ry="5" fill="#5f88c0"/></g>
<rect x="732.0" y="2426.0" width="58" height="36" rx="18.0" ry="18.0" fill="#5a8ac0" stroke="#2b2b2e" stroke-width="4"/>
<g transform="translate(522,2166)"><g fill="none" stroke="#b79425" stroke-width="3.4" stroke-linecap="round"><path d="M10 6 C10 -14 19 -14 19 6"/><path d="M52 22 C50 -12 78 -14 78 16"/><path d="M38 -33 C36 -10 33 0 34 16"/><path d="M47 -33 C46 -10 43 0 44 12"/><path d="M63 -44 C80 -40 86 -25 87 14"/><path d="M9 124 C6 135 14 145 12 158"/><path d="M26 132 C24 165 54 166 51 136"/><path d="M72 132 C70 150 62 160 63 175"/><path d="M90 124 C92 138 96 146 101 152"/></g><rect x="6" y="3" width="18" height="110" rx="9.0" ry="6" fill="#b79425"/><ellipse cx="15.0" cy="8" rx="9.0" ry="5" fill="#e3bd47"/><rect x="29" y="-2" width="20" height="110" rx="10.0" ry="6" fill="#b79425"/><ellipse cx="39.0" cy="3" rx="10.0" ry="5" fill="#e3bd47"/><rect x="50" y="-2" width="21" height="110" rx="10.5" ry="6" fill="#b79425"/><ellipse cx="60.5" cy="3" rx="10.5" ry="5" fill="#e3bd47"/><rect x="73" y="4" width="21" height="110" rx="10.5" ry="6" fill="#b79425"/><ellipse cx="83.5" cy="9" rx="10.5" ry="5" fill="#e3bd47"/><rect x="0" y="13" width="18" height="112" rx="9.0" ry="6" fill="#e0b52e" stroke="#b79425" stroke-width="1.6"/><ellipse cx="9.0" cy="18" rx="8.0" ry="5" fill="#e3bd47"/><rect x="18" y="18" width="20" height="115" rx="10.0" ry="6" fill="#e0b52e" stroke="#b79425" stroke-width="1.6"/><ellipse cx="28.0" cy="23" rx="9.0" ry="5" fill="#e3bd47"/><rect x="38" y="23" width="23" height="114" rx="11.5" ry="6" fill="#e0b52e" stroke="#b79425" stroke-width="1.6"/><ellipse cx="49.5" cy="28" rx="10.5" ry="5" fill="#e3bd47"/><rect x="61" y="18" width="20" height="115" rx="10.0" ry="6" fill="#e0b52e" stroke="#b79425" stroke-width="1.6"/><ellipse cx="71.0" cy="23" rx="9.0" ry="5" fill="#e3bd47"/><rect x="81" y="13" width="18" height="112" rx="9.0" ry="6" fill="#e0b52e" stroke="#b79425" stroke-width="1.6"/><ellipse cx="90.0" cy="18" rx="8.0" ry="5" fill="#e3bd47"/></g>
<rect x="553.0" y="2081.0" width="58" height="36" rx="18.0" ry="18.0" fill="#dbba2c" stroke="#2b2b2e" stroke-width="4"/>
<g transform="translate(1292,2092)"><g fill="none" stroke="#563489" stroke-width="3.4" stroke-linecap="round"><path d="M10 6 C10 -14 19 -14 19 6"/><path d="M52 22 C50 -12 78 -14 78 16"/><path d="M38 -33 C36 -10 33 0 34 16"/><path d="M47 -33 C46 -10 43 0 44 12"/><path d="M63 -44 C80 -40 86 -25 87 14"/><path d="M9 124 C6 135 14 145 12 158"/><path d="M26 132 C24 165 54 166 51 136"/><path d="M72 132 C70 150 62 160 63 175"/><path d="M90 124 C92 138 96 146 101 152"/></g><rect x="6" y="3" width="18" height="110" rx="9.0" ry="6" fill="#563489"/><ellipse cx="15.0" cy="8" rx="9.0" ry="5" fill="#7b56b2"/><rect x="29" y="-2" width="20" height="110" rx="10.0" ry="6" fill="#563489"/><ellipse cx="39.0" cy="3" rx="10.0" ry="5" fill="#7b56b2"/><rect x="50" y="-2" width="21" height="110" rx="10.5" ry="6" fill="#563489"/><ellipse cx="60.5" cy="3" rx="10.5" ry="5" fill="#7b56b2"/><rect x="73" y="4" width="21" height="110" rx="10.5" ry="6" fill="#563489"/><ellipse cx="83.5" cy="9" rx="10.5" ry="5" fill="#7b56b2"/><rect x="0" y="13" width="18" height="112" rx="9.0" ry="6" fill="#6940a8" stroke="#563489" stroke-width="1.6"/><ellipse cx="9.0" cy="18" rx="8.0" ry="5" fill="#7b56b2"/><rect x="18" y="18" width="20" height="115" rx="10.0" ry="6" fill="#6940a8" stroke="#563489" stroke-width="1.6"/><ellipse cx="28.0" cy="23" rx="9.0" ry="5" fill="#7b56b2"/><rect x="38" y="23" width="23" height="114" rx="11.5" ry="6" fill="#6940a8" stroke="#563489" stroke-width="1.6"/><ellipse cx="49.5" cy="28" rx="10.5" ry="5" fill="#7b56b2"/><rect x="61" y="18" width="20" height="115" rx="10.0" ry="6" fill="#6940a8" stroke="#563489" stroke-width="1.6"/><ellipse cx="71.0" cy="23" rx="9.0" ry="5" fill="#7b56b2"/><rect x="81" y="13" width="18" height="112" rx="9.0" ry="6" fill="#6940a8" stroke="#563489" stroke-width="1.6"/><ellipse cx="90.0" cy="18" rx="8.0" ry="5" fill="#7b56b2"/></g>
<g transform="translate(1453,2516)"><g fill="none" stroke="#a42929" stroke-width="3.4" stroke-linecap="round"><path d="M10 6 C10 -14 19 -14 19 6"/><path d="M52 22 C50 -12 78 -14 78 16"/><path d="M38 -33 C36 -10 33 0 34 16"/><path d="M47 -33 C46 -10 43 0 44 12"/><path d="M63 -44 C80 -40 86 -25 87 14"/><path d="M9 124 C6 135 14 145 12 158"/><path d="M26 132 C24 165 54 166 51 136"/><path d="M72 132 C70 150 62 160 63 175"/><path d="M90 124 C92 138 96 146 101 152"/></g><rect x="6" y="3" width="18" height="110" rx="9.0" ry="6" fill="#a42929"/><ellipse cx="15.0" cy="8" rx="9.0" ry="5" fill="#ce4a4a"/><rect x="29" y="-2" width="20" height="110" rx="10.0" ry="6" fill="#a42929"/><ellipse cx="39.0" cy="3" rx="10.0" ry="5" fill="#ce4a4a"/><rect x="50" y="-2" width="21" height="110" rx="10.5" ry="6" fill="#a42929"/><ellipse cx="60.5" cy="3" rx="10.5" ry="5" fill="#ce4a4a"/><rect x="73" y="4" width="21" height="110" rx="10.5" ry="6" fill="#a42929"/><ellipse cx="83.5" cy="9" rx="10.5" ry="5" fill="#ce4a4a"/><rect x="0" y="13" width="18" height="112" rx="9.0" ry="6" fill="#c83232" stroke="#a42929" stroke-width="1.6"/><ellipse cx="9.0" cy="18" rx="8.0" ry="5" fill="#ce4a4a"/><rect x="18" y="18" width="20" height="115" rx="10.0" ry="6" fill="#c83232" stroke="#a42929" stroke-width="1.6"/><ellipse cx="28.0" cy="23" rx="9.0" ry="5" fill="#ce4a4a"/><rect x="38" y="23" width="23" height="114" rx="11.5" ry="6" fill="#c83232" stroke="#a42929" stroke-width="1.6"/><ellipse cx="49.5" cy="28" rx="10.5" ry="5" fill="#ce4a4a"/><rect x="61" y="18" width="20" height="115" rx="10.0" ry="6" fill="#c83232" stroke="#a42929" stroke-width="1.6"/><ellipse cx="71.0" cy="23" rx="9.0" ry="5" fill="#ce4a4a"/><rect x="81" y="13" width="18" height="112" rx="9.0" ry="6" fill="#c83232" stroke="#a42929" stroke-width="1.6"/><ellipse cx="90.0" cy="18" rx="8.0" ry="5" fill="#ce4a4a"/></g>
<rect x="1478.0" y="2464.0" width="58" height="36" rx="18.0" ry="18.0" fill="#c23a32" stroke="#2b2b2e" stroke-width="4"/>
<g transform="translate(1705,2516)"><g fill="none" stroke="#322455" stroke-width="3.4" stroke-linecap="round"><path d="M10 6 C10 -14 19 -14 19 6"/><path d="M52 22 C50 -12 78 -14 78 16"/><path d="M38 -33 C36 -10 33 0 34 16"/><path d="M47 -33 C46 -10 43 0 44 12"/><path d="M63 -44 C80 -40 86 -25 87 14"/><path d="M9 124 C6 135 14 145 12 158"/><path d="M26 132 C24 165 54 166 51 136"/><path d="M72 132 C70 150 62 160 63 175"/><path d="M90 124 C92 138 96 146 101 152"/></g><rect x="6" y="3" width="18" height="110" rx="9.0" ry="6" fill="#322455"/><ellipse cx="15.0" cy="8" rx="9.0" ry="5" fill="#54457a"/><rect x="29" y="-2" width="20" height="110" rx="10.0" ry="6" fill="#322455"/><ellipse cx="39.0" cy="3" rx="10.0" ry="5" fill="#54457a"/><rect x="50" y="-2" width="21" height="110" rx="10.5" ry="6" fill="#322455"/><ellipse cx="60.5" cy="3" rx="10.5" ry="5" fill="#54457a"/><rect x="73" y="4" width="21" height="110" rx="10.5" ry="6" fill="#322455"/><ellipse cx="83.5" cy="9" rx="10.5" ry="5" fill="#54457a"/><rect x="0" y="13" width="18" height="112" rx="9.0" ry="6" fill="#3d2c68" stroke="#322455" stroke-width="1.6"/><ellipse cx="9.0" cy="18" rx="8.0" ry="5" fill="#54457a"/><rect x="18" y="18" width="20" height="115" rx="10.0" ry="6" fill="#3d2c68" stroke="#322455" stroke-width="1.6"/><ellipse cx="28.0" cy="23" rx="9.0" ry="5" fill="#54457a"/><rect x="38" y="23" width="23" height="114" rx="11.5" ry="6" fill="#3d2c68" stroke="#322455" stroke-width="1.6"/><ellipse cx="49.5" cy="28" rx="10.5" ry="5" fill="#54457a"/><rect x="61" y="18" width="20" height="115" rx="10.0" ry="6" fill="#3d2c68" stroke="#322455" stroke-width="1.6"/><ellipse cx="71.0" cy="23" rx="9.0" ry="5" fill="#54457a"/><rect x="81" y="13" width="18" height="112" rx="9.0" ry="6" fill="#3d2c68" stroke="#322455" stroke-width="1.6"/><ellipse cx="90.0" cy="18" rx="8.0" ry="5" fill="#54457a"/></g>
<rect x="1726.0" y="2446.0" width="58" height="36" rx="18.0" ry="18.0" fill="#402b6c" stroke="#2b2b2e" stroke-width="4"/>
<g transform="translate(1947,2516)"><g fill="none" stroke="#a02593" stroke-width="3.4" stroke-linecap="round"><path d="M10 6 C10 -14 19 -14 19 6"/><path d="M52 22 C50 -12 78 -14 78 16"/><path d="M38 -33 C36 -10 33 0 34 16"/><path d="M47 -33 C46 -10 43 0 44 12"/><path d="M63 -44 C80 -40 86 -25 87 14"/><path d="M9 124 C6 135 14 145 12 158"/><path d="M26 132 C24 165 54 166 51 136"/><path d="M72 132 C70 150 62 160 63 175"/><path d="M90 124 C92 138 96 146 101 152"/></g><rect x="6" y="3" width="18" height="110" rx="9.0" ry="6" fill="#a02593"/><ellipse cx="15.0" cy="8" rx="9.0" ry="5" fill="#cb47bd"/><rect x="29" y="-2" width="20" height="110" rx="10.0" ry="6" fill="#a02593"/><ellipse cx="39.0" cy="3" rx="10.0" ry="5" fill="#cb47bd"/><rect x="50" y="-2" width="21" height="110" rx="10.5" ry="6" fill="#a02593"/><ellipse cx="60.5" cy="3" rx="10.5" ry="5" fill="#cb47bd"/><rect x="73" y="4" width="21" height="110" rx="10.5" ry="6" fill="#a02593"/><ellipse cx="83.5" cy="9" rx="10.5" ry="5" fill="#cb47bd"/><rect x="0" y="13" width="18" height="112" rx="9.0" ry="6" fill="#c42eb4" stroke="#a02593" stroke-width="1.6"/><ellipse cx="9.0" cy="18" rx="8.0" ry="5" fill="#cb47bd"/><rect x="18" y="18" width="20" height="115" rx="10.0" ry="6" fill="#c42eb4" stroke="#a02593" stroke-width="1.6"/><ellipse cx="28.0" cy="23" rx="9.0" ry="5" fill="#cb47bd"/><rect x="38" y="23" width="23" height="114" rx="11.5" ry="6" fill="#c42eb4" stroke="#a02593" stroke-width="1.6"/><ellipse cx="49.5" cy="28" rx="10.5" ry="5" fill="#cb47bd"/><rect x="61" y="18" width="20" height="115" rx="10.0" ry="6" fill="#c42eb4" stroke="#a02593" stroke-width="1.6"/><ellipse cx="71.0" cy="23" rx="9.0" ry="5" fill="#cb47bd"/><rect x="81" y="13" width="18" height="112" rx="9.0" ry="6" fill="#c42eb4" stroke="#a02593" stroke-width="1.6"/><ellipse cx="90.0" cy="18" rx="8.0" ry="5" fill="#cb47bd"/></g>
<rect x="1971.0" y="2440.0" width="58" height="36" rx="18.0" ry="18.0" fill="#cc48c8" stroke="#2b2b2e" stroke-width="4"/>
<g transform="translate(2189,2493)"><g fill="none" stroke="#c8b89e" stroke-width="3.4" stroke-linecap="round"><path d="M10 6 C10 -14 19 -14 19 6"/><path d="M52 22 C50 -12 78 -14 78 16"/><path d="M38 -33 C36 -10 33 0 34 16"/><path d="M47 -33 C46 -10 43 0 44 12"/><path d="M63 -44 C80 -40 86 -25 87 14"/><path d="M9 124 C6 135 14 145 12 158"/><path d="M26 132 C24 165 54 166 51 136"/><path d="M72 132 C70 150 62 160 63 175"/><path d="M90 124 C92 138 96 146 101 152"/></g><rect x="6" y="3" width="18" height="110" rx="9.0" ry="6" fill="#c8b89e"/><ellipse cx="15.0" cy="8" rx="9.0" ry="5" fill="#f5e4c8"/><rect x="29" y="-2" width="20" height="110" rx="10.0" ry="6" fill="#c8b89e"/><ellipse cx="39.0" cy="3" rx="10.0" ry="5" fill="#f5e4c8"/><rect x="50" y="-2" width="21" height="110" rx="10.5" ry="6" fill="#c8b89e"/><ellipse cx="60.5" cy="3" rx="10.5" ry="5" fill="#f5e4c8"/><rect x="73" y="4" width="21" height="110" rx="10.5" ry="6" fill="#c8b89e"/><ellipse cx="83.5" cy="9" rx="10.5" ry="5" fill="#f5e4c8"/><rect x="0" y="13" width="18" height="112" rx="9.0" ry="6" fill="#f4e1c1" stroke="#c8b89e" stroke-width="1.6"/><ellipse cx="9.0" cy="18" rx="8.0" ry="5" fill="#f5e4c8"/><rect x="18" y="18" width="20" height="115" rx="10.0" ry="6" fill="#f4e1c1" stroke="#c8b89e" stroke-width="1.6"/><ellipse cx="28.0" cy="23" rx="9.0" ry="5" fill="#f5e4c8"/><rect x="38" y="23" width="23" height="114" rx="11.5" ry="6" fill="#f4e1c1" stroke="#c8b89e" stroke-width="1.6"/><ellipse cx="49.5" cy="28" rx="10.5" ry="5" fill="#f5e4c8"/><rect x="61" y="18" width="20" height="115" rx="10.0" ry="6" fill="#f4e1c1" stroke="#c8b89e" stroke-width="1.6"/><ellipse cx="71.0" cy="23" rx="9.0" ry="5" fill="#f5e4c8"/><rect x="81" y="13" width="18" height="112" rx="9.0" ry="6" fill="#f4e1c1" stroke="#c8b89e" stroke-width="1.6"/><ellipse cx="90.0" cy="18" rx="8.0" ry="5" fill="#f5e4c8"/></g>
<rect x="2211.0" y="2417.0" width="58" height="36" rx="18.0" ry="18.0" fill="#f8ecd8" stroke="#2b2b2e" stroke-width="4"/>
<g transform="translate(1113,2051)"><path d="M-15.5 2 C-21 -1 -31 3 -37 12 C-43 23 -39 39 -26 46 C-16 50 -6 47 0 42 C6 47 16 50 26 46 C39 39 43 23 37 12 C31 3 21 -1 15.5 2 A20.5 20.5 0 1 1 -15.5 2 Z" fill="#2f5a19"/><rect x="-14" y="44" width="5.4" height="104" fill="#2f5a19"/><rect x="8.6" y="44" width="5.4" height="104" fill="#2f5a19"/><rect x="-23.5" y="144" width="23.5" height="65" rx="11.5" fill="#2b5317"/><rect x="0" y="144" width="23.5" height="65" rx="11.5" fill="#2b5317"/></g>
<g transform="translate(1588,2013)"><path d="M-15.5 2 C-21 -1 -31 3 -37 12 C-43 23 -39 39 -26 46 C-16 50 -6 47 0 42 C6 47 16 50 26 46 C39 39 43 23 37 12 C31 3 21 -1 15.5 2 A20.5 20.5 0 1 1 -15.5 2 Z" fill="#7a1619"/><rect x="-14" y="44" width="5.4" height="104" fill="#7a1619"/><rect x="8.6" y="44" width="5.4" height="104" fill="#7a1619"/><rect x="-23.5" y="144" width="23.5" height="69" rx="11.5" fill="#721417"/><rect x="0" y="144" width="23.5" height="69" rx="11.5" fill="#721417"/></g>
<g transform="translate(1865,2033)"><path d="M-15.5 2 C-21 -1 -31 3 -37 12 C-43 23 -39 39 -26 46 C-16 50 -6 47 0 42 C6 47 16 50 26 46 C39 39 43 23 37 12 C31 3 21 -1 15.5 2 A20.5 20.5 0 1 1 -15.5 2 Z" fill="#4b4b4e"/><rect x="-14" y="44" width="5.4" height="103" fill="#4b4b4e"/><rect x="8.6" y="44" width="5.4" height="103" fill="#4b4b4e"/><rect x="-23.5" y="143" width="23.5" height="69" rx="11.5" fill="#444447"/><rect x="0" y="143" width="23.5" height="69" rx="11.5" fill="#444447"/></g>
<g transform="translate(2101,2035)"><path d="M-15.5 2 C-21 -1 -31 3 -37 12 C-43 23 -39 39 -26 46 C-16 50 -6 47 0 42 C6 47 16 50 26 46 C39 39 43 23 37 12 C31 3 21 -1 15.5 2 A20.5 20.5 0 1 1 -15.5 2 Z" fill="#e7b9d5"/><rect x="-14" y="44" width="5.4" height="102" fill="#e7b9d5"/><rect x="8.6" y="44" width="5.4" height="102" fill="#e7b9d5"/><rect x="-23.5" y="142" width="23.5" height="68" rx="11.5" fill="#e5b5d2"/><rect x="0" y="142" width="23.5" height="68" rx="11.5" fill="#e5b5d2"/></g>
<g transform="translate(2348,2075)"><path d="M-15.5 2 C-21 -1 -31 3 -37 12 C-43 23 -39 39 -26 46 C-16 50 -6 47 0 42 C6 47 16 50 26 46 C39 39 43 23 37 12 C31 3 21 -1 15.5 2 A20.5 20.5 0 1 1 -15.5 2 Z" fill="#6f5040"/><rect x="-14" y="44" width="5.4" height="107" fill="#6f5040"/><rect x="8.6" y="44" width="5.4" height="107" fill="#6f5040"/><rect x="-23.5" y="147" width="23.5" height="65" rx="11.5" fill="#684a3b"/><rect x="0" y="147" width="23.5" height="65" rx="11.5" fill="#684a3b"/></g>
<g transform="translate(2527,2123)"><path d="M-15.5 2 C-21 -1 -31 3 -37 12 C-43 23 -39 39 -26 46 C-16 50 -6 47 0 42 C6 47 16 50 26 46 C39 39 43 23 37 12 C31 3 21 -1 15.5 2 A20.5 20.5 0 1 1 -15.5 2 Z" fill="#6a1fe0"/><rect x="-14" y="44" width="5.4" height="106" fill="#6a1fe0"/><rect x="8.6" y="44" width="5.4" height="106" fill="#6a1fe0"/><rect x="-23.5" y="146" width="23.5" height="66" rx="11.5" fill="#6418d8"/><rect x="0" y="146" width="23.5" height="66" rx="11.5" fill="#6418d8"/></g>
<g fill="none" stroke-linecap="round"><path d="M843 2052 C838 2075 822 2095 825 2113 C828 2135 855 2150 858 2168 C860 2185 852 2200 851 2224" stroke="#3a5c9c" stroke-width="14"/><path d="M843 2052 C838 2075 822 2095 825 2113 C828 2135 855 2150 858 2168 C860 2185 852 2200 851 2224" stroke="#5578b4" stroke-width="4" opacity="0.8"/><path d="M883 2052 C888 2075 904 2095 901 2113 C898 2135 871 2150 868 2168 C866 2185 874 2200 875 2224" stroke="#3a5c9c" stroke-width="14"/><path d="M883 2052 C888 2075 904 2095 901 2113 C898 2135 871 2150 868 2168 C866 2185 874 2200 875 2224" stroke="#5578b4" stroke-width="4" opacity="0.8"/></g>
<rect x="839" y="2219" width="22" height="63" rx="11" fill="#4a6fc0"/><rect x="861" y="2219" width="22" height="63" rx="11" fill="#4a6fc0"/>
<rect x="304" y="2340" width="7" height="50" fill="#1c2450"/>
<rect x="-7.0" y="-11.5" width="14" height="23" rx="5" fill="#3f5591" stroke="#283a72" stroke-width="1.5" transform="translate(307,2256) rotate(0)"/>
<rect x="-7.0" y="-11.5" width="14" height="23" rx="5" fill="#3f5591" stroke="#283a72" stroke-width="1.5" transform="translate(282,2265) rotate(-20)"/>
<rect x="-7.0" y="-11.5" width="14" height="23" rx="5" fill="#3f5591" stroke="#283a72" stroke-width="1.5" transform="translate(331,2265) rotate(20)"/>
<rect x="-8.0" y="-11.0" width="16" height="22" rx="5" fill="#3f5591" stroke="#283a72" stroke-width="1.5" transform="translate(292,2288) rotate(-30)"/>
<rect x="-8.0" y="-11.0" width="16" height="22" rx="5" fill="#3f5591" stroke="#283a72" stroke-width="1.5" transform="translate(322,2288) rotate(30)"/>
<rect x="-6.5" y="-11.0" width="13" height="22" rx="5" fill="#3f5591" stroke="#283a72" stroke-width="1.5" transform="translate(307,2282) rotate(0)"/>
<rect x="-7.0" y="-11.5" width="14" height="23" rx="5" fill="#3f5591" stroke="#283a72" stroke-width="1.5" transform="translate(300,2310) rotate(0)"/>
<rect x="-7.0" y="-11.5" width="14" height="23" rx="5" fill="#3f5591" stroke="#283a72" stroke-width="1.5" transform="translate(313,2310) rotate(0)"/>
<rect x="-7.0" y="-12.0" width="14" height="24" rx="5" fill="#3f5591" stroke="#283a72" stroke-width="1.5" transform="translate(302,2333) rotate(0)"/>
<rect x="-7.0" y="-12.0" width="14" height="24" rx="5" fill="#3f5591" stroke="#283a72" stroke-width="1.5" transform="translate(312,2333) rotate(0)"/>
<rect x="-6.0" y="-18.5" width="12" height="37" rx="5" fill="#3f5591" stroke="#283a72" stroke-width="1.5" transform="translate(307,2406) rotate(0)"/>
<path d="M279 2446 A44 37 0 0 0 279 2520 L279 2503 A24 20 0 0 1 279 2463 Z" fill="#6a12e6" stroke="#111" stroke-width="3.2" stroke-linejoin="miter"/>
<path d="M301 2446 A44 37 0 0 1 301 2520 L301 2503 A24 20 0 0 0 301 2463 Z" fill="#6a12e6" stroke="#111" stroke-width="3.2" stroke-linejoin="miter"/>
<path d="M279 2554 A44 37 0 0 0 279 2628 L279 2611 A24 20 0 0 1 279 2571 Z" fill="#376a1c" stroke="#111" stroke-width="3.2" stroke-linejoin="miter"/>
<path d="M301 2554 A44 37 0 0 1 301 2628 L301 2611 A24 20 0 0 0 301 2571 Z" fill="#376a1c" stroke="#111" stroke-width="3.2" stroke-linejoin="miter"/>
<path d="M2669 2441 A44 37 0 0 0 2669 2515 L2669 2498 A24 20 0 0 1 2669 2458 Z" fill="#6a12e6" stroke="#111" stroke-width="3.2" stroke-linejoin="miter"/>
<path d="M2691 2441 A44 37 0 0 1 2691 2515 L2691 2498 A24 20 0 0 0 2691 2458 Z" fill="#6a12e6" stroke="#111" stroke-width="3.2" stroke-linejoin="miter"/>
<path d="M2669 2549 A44 37 0 0 0 2669 2623 L2669 2606 A24 20 0 0 1 2669 2566 Z" fill="#376a1c" stroke="#111" stroke-width="3.2" stroke-linejoin="miter"/>
<path d="M2691 2549 A44 37 0 0 1 2691 2623 L2691 2606 A24 20 0 0 0 2691 2566 Z" fill="#376a1c" stroke="#111" stroke-width="3.2" stroke-linejoin="miter"/>
<g transform="translate(292,2704) rotate(-18)"><rect x="-50.0" y="-38.0" width="100" height="76" rx="14" ry="38.0" fill="#2f4170" stroke="#253459" stroke-width="2"/><ellipse cx="-36.0" cy="0" rx="14" ry="38.0" fill="#475781" stroke="#253459" stroke-width="2"/><ellipse cx="-35.0" cy="0" rx="9" ry="32.0" fill="#202d4e"/></g>
<g transform="translate(309,2794) rotate(-16)"><rect x="-49.0" y="-40.0" width="98" height="80" rx="14" ry="40.0" fill="#eef23a" stroke="#bec12e" stroke-width="2"/><ellipse cx="35.0" cy="0" rx="14" ry="40.0" fill="#f0f351" stroke="#bec12e" stroke-width="2"/><ellipse cx="35.0" cy="0" rx="9" ry="34.0" fill="#eef23a" opacity="0.6"/></g>
<g transform="translate(2671,2726) rotate(20)"><rect x="-50.0" y="-37.0" width="100" height="74" rx="14" ry="37.0" fill="#2f4170" stroke="#253459" stroke-width="2"/><ellipse cx="-36.0" cy="0" rx="14" ry="37.0" fill="#475781" stroke="#253459" stroke-width="2"/><ellipse cx="-35.0" cy="0" rx="9" ry="31.0" fill="#202d4e"/></g>
<g transform="translate(2657,2817) rotate(19)"><rect x="-49.0" y="-36.0" width="98" height="72" rx="14" ry="36.0" fill="#eef23a" stroke="#bec12e" stroke-width="2"/><ellipse cx="-35.0" cy="0" rx="14" ry="36.0" fill="#f0f351" stroke="#bec12e" stroke-width="2"/><ellipse cx="-35.0" cy="0" rx="9" ry="30.0" fill="#eef23a" opacity="0.6"/></g>
<circle cx="157" cy="2474" r="9.5" fill="#6a12e0" stroke="#111" stroke-width="3"/>
<circle cx="216" cy="2470" r="9.5" fill="#6a12e0" stroke="#111" stroke-width="3"/>
<circle cx="189" cy="2496" r="9.5" fill="#6a12e0" stroke="#111" stroke-width="3"/>
<circle cx="352" cy="2546" r="9.5" fill="#6a12e0" stroke="#111" stroke-width="3"/>
<circle cx="364" cy="2581" r="9.5" fill="#6a12e0" stroke="#111" stroke-width="3"/>
<circle cx="182" cy="2745" r="9.5" fill="#d7813a" stroke="#111" stroke-width="3"/>
<circle cx="231" cy="2764" r="9.5" fill="#d7813a" stroke="#111" stroke-width="3"/>
<circle cx="204" cy="2790" r="9.5" fill="#d7813a" stroke="#111" stroke-width="3"/>
<circle cx="174" cy="2817" r="9.5" fill="#d7813a" stroke="#111" stroke-width="3"/>
<circle cx="385" cy="2714" r="9.5" fill="#d7813a" stroke="#111" stroke-width="3"/>
<circle cx="432" cy="2731" r="9.5" fill="#d7813a" stroke="#111" stroke-width="3"/>
<circle cx="406" cy="2758" r="9.5" fill="#d7813a" stroke="#111" stroke-width="3"/>
<path d="M169 2508 L313 2540" stroke="#6a12e0" stroke-width="5" stroke-dasharray="4 5" fill="none"/>
<polygon points="313,2530 337,2546 311,2552" fill="#6a12e0"/>
<path d="M224 2788 L362 2751" stroke="#d7813a" stroke-width="5" stroke-dasharray="4 5" fill="none"/>
<polygon points="360,2740 381,2745 364,2760" fill="#d7813a"/>
<polygon points="1374,2843 1482,2843 1482,2886 1565,2886 1428,2968 1290,2886 1374,2886" fill="#fff" stroke="#111" stroke-width="6" stroke-linejoin="round"/>
<path d="M317 2848 L1561 3235 L2640 2860" fill="none" stroke="#111" stroke-width="8.5" stroke-dasharray="18 15"/>
<g fill="#6b4b42" stroke="#6b4b42" stroke-width="3" stroke-linejoin="round"><path d="M1515 3673 L1559 3673 C1550 3640 1545 3590 1545 3541 L1549 3520 L1526 3520 L1526 3541 C1526 3590 1522 3640 1515 3673 Z"/><path d="M1547.4 3526.3 L1546.9 3525.2 L1546.4 3523.4 L1545.6 3520.8 L1544.6 3517.6 L1543.1 3514.0 L1541.3 3510.1 L1538.7 3506.2 L1535.4 3502.4 L1531.4 3499.3 L1527.3 3496.9 L1523.3 3494.9 L1519.4 3493.2 L1515.7 3491.5 L1512.1 3489.7 L1508.6 3487.8 L1505.2 3485.3 L1501.4 3482.1 L1497.1 3478.4 L1492.6 3474.4 L1488.1 3470.1 L1483.8 3465.7 L1479.6 3461.1 L1475.8 3456.5 L1472.5 3452.1 L1469.6 3447.5 L1466.8 3442.4 L1464.3 3436.9 L1461.9 3431.2 L1459.6 3425.5 L1457.5 3419.9 L1455.4 3414.7 L1453.4 3410.0 L1451.5 3405.8 L1449.9 3402.0 L1448.3 3398.5 L1446.9 3395.3 L1445.7 3392.5 L1444.6 3390.0 L1443.7 3387.8 L1442.9 3386.1 L1429.1 3391.9 L1429.7 3393.6 L1430.6 3395.7 L1431.6 3398.3 L1432.7 3401.2 L1434.0 3404.5 L1435.4 3408.1 L1437.0 3412.0 L1438.6 3416.0 L1440.3 3420.5 L1442.1 3425.6 L1444.0 3431.3 L1446.1 3437.3 L1448.5 3443.5 L1451.1 3449.8 L1454.1 3456.0 L1457.5 3461.9 L1461.3 3467.5 L1465.5 3472.9 L1470.0 3478.2 L1474.6 3483.3 L1479.3 3488.1 L1483.9 3492.7 L1488.4 3496.8 L1492.8 3500.7 L1497.4 3504.3 L1502.1 3507.3 L1506.6 3509.8 L1510.7 3511.8 L1514.3 3513.6 L1517.2 3515.1 L1519.3 3516.5 L1520.6 3517.6 L1521.6 3518.8 L1522.5 3520.4 L1523.3 3522.3 L1524.1 3524.5 L1524.7 3526.9 L1525.3 3529.3 L1526.0 3531.7 L1526.6 3533.7 Z"/><path d="M1441.8 3387.3 L1440.3 3386.3 L1438.4 3384.9 L1436.1 3383.2 L1433.5 3381.3 L1430.7 3379.4 L1427.9 3377.4 L1425.1 3375.6 L1422.4 3374.1 L1420.0 3372.9 L1417.8 3372.0 L1415.8 3371.3 L1413.9 3370.8 L1412.0 3370.2 L1409.7 3369.5 L1407.0 3368.5 L1403.6 3367.0 L1399.0 3364.9 L1393.3 3362.2 L1386.9 3359.2 L1380.2 3356.0 L1373.7 3352.8 L1367.8 3349.9 L1362.8 3347.5 L1359.1 3345.7 L1358.9 3346.3 L1362.2 3348.4 L1366.9 3351.5 L1372.4 3355.1 L1378.5 3359.0 L1384.7 3363.0 L1390.7 3366.9 L1396.1 3370.3 L1400.4 3373.0 L1403.9 3375.0 L1406.8 3376.5 L1409.2 3377.6 L1411.2 3378.5 L1412.9 3379.2 L1414.4 3379.9 L1415.9 3380.8 L1417.6 3381.9 L1419.7 3383.5 L1422.0 3385.4 L1424.4 3387.5 L1426.7 3389.7 L1429.0 3391.8 L1431.1 3393.8 L1432.9 3395.4 L1434.2 3396.7 Z"/><path d="M1442.5 3394.5 L1442.9 3393.4 L1443.5 3392.1 L1444.5 3390.1 L1445.5 3387.8 L1446.6 3385.0 L1447.5 3381.9 L1448.0 3378.5 L1448.1 3375.0 L1447.7 3371.4 L1447.1 3367.6 L1446.2 3363.5 L1445.1 3359.4 L1443.8 3355.2 L1442.4 3351.1 L1440.9 3347.2 L1439.3 3343.6 L1437.6 3340.3 L1435.8 3337.2 L1433.9 3334.1 L1431.9 3331.2 L1429.6 3328.4 L1427.1 3325.7 L1424.4 3323.0 L1421.4 3320.4 L1417.8 3317.8 L1413.5 3315.1 L1408.8 3312.5 L1404.1 3310.1 L1399.4 3307.8 L1395.2 3305.8 L1391.7 3304.1 L1389.1 3302.7 L1388.9 3303.3 L1391.3 3304.8 L1394.6 3306.9 L1398.6 3309.3 L1402.9 3312.0 L1407.4 3314.9 L1411.7 3317.9 L1415.5 3320.8 L1418.6 3323.6 L1421.1 3326.3 L1423.4 3328.9 L1425.4 3331.7 L1427.1 3334.4 L1428.7 3337.2 L1430.2 3340.2 L1431.5 3343.2 L1432.7 3346.4 L1433.9 3349.8 L1434.9 3353.5 L1435.9 3357.4 L1436.6 3361.4 L1437.3 3365.2 L1437.7 3368.9 L1437.9 3372.3 L1437.9 3375.0 L1437.6 3377.2 L1437.1 3379.2 L1436.3 3381.1 L1435.3 3383.0 L1434.3 3384.8 L1433.3 3386.4 L1432.3 3388.1 L1431.5 3389.5 Z"/><path d="M1484.9 3479.0 L1485.4 3476.0 L1486.1 3472.0 L1486.9 3467.1 L1487.8 3461.8 L1488.8 3456.3 L1489.7 3450.7 L1490.7 3445.5 L1491.6 3440.9 L1492.5 3436.8 L1493.6 3432.9 L1494.9 3429.1 L1496.1 3425.3 L1497.2 3421.4 L1498.1 3417.4 L1498.6 3413.2 L1498.6 3408.9 L1498.0 3404.5 L1497.0 3400.0 L1495.7 3395.4 L1494.1 3390.9 L1492.3 3386.4 L1490.3 3382.1 L1488.3 3378.1 L1486.2 3374.3 L1483.8 3370.8 L1481.0 3367.3 L1478.0 3364.0 L1474.9 3360.9 L1471.9 3358.0 L1469.1 3355.5 L1466.9 3353.4 L1465.2 3351.8 L1464.8 3352.2 L1466.3 3354.0 L1468.5 3356.2 L1471.0 3358.9 L1473.8 3361.9 L1476.6 3365.2 L1479.3 3368.6 L1481.8 3372.1 L1483.8 3375.7 L1485.6 3379.4 L1487.3 3383.5 L1488.9 3387.7 L1490.4 3392.1 L1491.6 3396.6 L1492.6 3400.9 L1493.2 3405.2 L1493.4 3409.1 L1493.2 3412.7 L1492.5 3416.2 L1491.5 3419.7 L1490.2 3423.2 L1488.8 3426.9 L1487.2 3430.7 L1485.8 3434.8 L1484.4 3439.1 L1483.2 3443.8 L1481.9 3449.1 L1480.5 3454.5 L1479.2 3460.0 L1477.9 3465.3 L1476.8 3470.1 L1475.8 3474.0 L1475.1 3477.0 Z"/><path d="M1549.0 3529.9 L1548.9 3527.1 L1548.7 3523.3 L1548.4 3518.8 L1548.2 3513.9 L1548.0 3508.9 L1547.8 3504.0 L1547.7 3499.5 L1547.7 3495.7 L1547.9 3492.5 L1548.1 3489.7 L1548.3 3487.1 L1548.7 3484.5 L1549.1 3481.8 L1549.5 3478.9 L1550.1 3475.6 L1550.7 3471.9 L1551.4 3467.5 L1552.2 3462.5 L1553.2 3457.0 L1554.2 3451.3 L1555.1 3445.9 L1556.0 3441.0 L1556.8 3436.8 L1557.3 3433.8 L1540.7 3430.2 L1539.9 3433.2 L1538.9 3437.3 L1537.7 3442.2 L1536.3 3447.5 L1534.9 3453.1 L1533.6 3458.6 L1532.3 3463.7 L1531.3 3468.1 L1530.5 3471.7 L1529.7 3474.9 L1529.0 3477.9 L1528.3 3480.9 L1527.7 3483.9 L1527.2 3487.1 L1526.7 3490.5 L1526.3 3494.3 L1525.9 3498.8 L1525.6 3503.8 L1525.5 3509.0 L1525.3 3514.2 L1525.2 3519.2 L1525.1 3523.7 L1525.1 3527.4 L1525.0 3530.1 Z"/><path d="M1554.0 3433.8 L1552.9 3431.3 L1551.3 3428.1 L1549.5 3424.1 L1547.4 3419.8 L1545.2 3415.2 L1543.1 3410.8 L1541.0 3406.6 L1539.1 3403.0 L1537.4 3399.8 L1535.7 3397.0 L1534.1 3394.4 L1532.6 3391.9 L1531.0 3389.5 L1529.5 3387.1 L1528.0 3384.7 L1526.4 3382.1 L1524.6 3379.2 L1522.8 3376.4 L1520.9 3373.6 L1519.0 3370.7 L1517.3 3367.9 L1515.7 3365.0 L1514.2 3362.1 L1513.0 3359.0 L1511.9 3355.7 L1510.9 3352.3 L1510.1 3348.9 L1509.4 3345.3 L1508.8 3341.6 L1508.4 3337.9 L1508.3 3334.1 L1508.3 3330.2 L1508.6 3326.1 L1509.1 3321.8 L1509.8 3317.5 L1510.7 3313.0 L1511.8 3308.5 L1513.0 3304.1 L1514.5 3299.8 L1516.2 3295.6 L1518.3 3291.3 L1521.0 3286.8 L1524.0 3282.3 L1527.2 3277.8 L1530.3 3273.6 L1533.1 3269.8 L1535.5 3266.6 L1537.2 3264.2 L1536.8 3263.8 L1534.9 3266.1 L1532.4 3269.2 L1529.3 3272.8 L1526.0 3276.8 L1522.5 3281.2 L1519.2 3285.7 L1516.2 3290.1 L1513.8 3294.4 L1511.8 3298.7 L1510.0 3303.1 L1508.5 3307.6 L1507.1 3312.1 L1505.9 3316.7 L1505.0 3321.2 L1504.2 3325.6 L1503.7 3329.8 L1503.4 3334.0 L1503.3 3338.1 L1503.5 3342.1 L1503.9 3346.1 L1504.5 3350.0 L1505.2 3353.7 L1506.0 3357.4 L1507.0 3361.0 L1508.2 3364.5 L1509.6 3368.0 L1511.2 3371.2 L1513.0 3374.4 L1514.7 3377.4 L1516.4 3380.3 L1518.1 3383.2 L1519.6 3385.9 L1521.1 3388.7 L1522.5 3391.3 L1523.9 3393.8 L1525.3 3396.2 L1526.7 3398.7 L1528.1 3401.3 L1529.5 3404.0 L1530.9 3407.0 L1532.5 3410.6 L1534.3 3414.8 L1536.2 3419.3 L1538.1 3423.9 L1539.9 3428.3 L1541.6 3432.3 L1542.9 3435.7 L1544.0 3438.2 Z"/><path d="M1521.9 3367.3 L1522.8 3365.6 L1523.9 3363.5 L1525.2 3360.9 L1526.6 3358.1 L1528.2 3355.2 L1529.8 3352.3 L1531.4 3349.5 L1532.9 3347.1 L1534.4 3345.0 L1536.1 3343.0 L1537.9 3341.0 L1539.8 3338.9 L1541.7 3336.8 L1543.7 3334.5 L1545.5 3332.1 L1547.2 3329.5 L1548.8 3327.0 L1550.5 3324.4 L1552.2 3321.7 L1553.8 3318.8 L1555.2 3315.7 L1556.4 3312.5 L1557.3 3308.9 L1557.7 3305.1 L1557.6 3300.8 L1556.9 3295.9 L1555.9 3290.7 L1554.6 3285.4 L1553.3 3280.3 L1552.0 3275.6 L1551.0 3271.8 L1550.3 3268.9 L1549.7 3269.1 L1550.2 3272.0 L1550.9 3275.9 L1551.8 3280.6 L1552.8 3285.8 L1553.6 3291.1 L1554.2 3296.2 L1554.5 3301.0 L1554.3 3304.9 L1553.7 3308.1 L1552.7 3311.2 L1551.4 3314.0 L1549.9 3316.6 L1548.2 3319.1 L1546.4 3321.6 L1544.5 3324.0 L1542.8 3326.5 L1541.1 3328.7 L1539.2 3330.7 L1537.3 3332.6 L1535.3 3334.5 L1533.3 3336.4 L1531.2 3338.4 L1529.1 3340.5 L1527.1 3342.9 L1525.2 3345.4 L1523.2 3348.2 L1521.3 3351.1 L1519.5 3354.0 L1517.8 3356.8 L1516.3 3359.2 L1515.1 3361.2 L1514.1 3362.7 Z"/><path d="M1550.8 3438.4 L1552.2 3437.3 L1554.2 3435.8 L1556.5 3434.0 L1559.0 3432.0 L1561.7 3429.9 L1564.4 3427.8 L1566.9 3425.8 L1569.3 3424.1 L1571.3 3422.6 L1573.2 3421.3 L1575.1 3420.0 L1577.1 3418.7 L1579.2 3417.3 L1581.6 3415.7 L1584.2 3413.8 L1587.1 3411.6 L1590.6 3408.9 L1594.6 3405.6 L1599.1 3402.0 L1603.6 3398.3 L1608.0 3394.7 L1611.9 3391.5 L1615.3 3388.7 L1617.7 3386.7 L1610.3 3377.3 L1607.8 3379.1 L1604.3 3381.7 L1600.2 3384.8 L1595.7 3388.2 L1591.0 3391.6 L1586.5 3395.0 L1582.3 3398.0 L1578.9 3400.4 L1576.1 3402.3 L1573.6 3403.9 L1571.5 3405.3 L1569.4 3406.5 L1567.4 3407.7 L1565.3 3409.0 L1563.1 3410.4 L1560.7 3411.9 L1558.2 3413.7 L1555.4 3415.6 L1552.6 3417.5 L1549.7 3419.5 L1547.1 3421.4 L1544.7 3423.1 L1542.7 3424.5 L1541.2 3425.6 Z"/><path d="M1616.9 3385.1 L1617.5 3381.7 L1618.5 3377.1 L1619.6 3371.6 L1620.9 3365.5 L1622.1 3359.0 L1623.2 3352.4 L1623.9 3346.0 L1624.2 3340.2 L1624.1 3334.7 L1623.8 3329.3 L1623.2 3324.0 L1622.4 3318.8 L1621.5 3313.6 L1620.3 3308.7 L1619.0 3304.0 L1617.5 3299.5 L1615.7 3295.1 L1613.5 3290.7 L1611.0 3286.5 L1608.4 3282.5 L1605.9 3278.9 L1603.6 3275.7 L1601.6 3272.9 L1600.3 3270.8 L1599.7 3271.2 L1601.0 3273.4 L1602.7 3276.2 L1604.7 3279.6 L1607.0 3283.5 L1609.2 3287.6 L1611.3 3291.9 L1613.1 3296.2 L1614.5 3300.5 L1615.5 3304.9 L1616.4 3309.5 L1617.1 3314.4 L1617.7 3319.4 L1618.1 3324.5 L1618.2 3329.6 L1618.1 3334.7 L1617.8 3339.8 L1617.1 3345.2 L1615.9 3351.1 L1614.4 3357.3 L1612.7 3363.5 L1611.0 3369.5 L1609.4 3374.9 L1608.1 3379.4 L1607.1 3382.9 Z"/><path d="M1612.7 3388.9 L1614.9 3388.5 L1617.7 3388.0 L1621.1 3387.4 L1624.8 3386.7 L1628.8 3385.9 L1632.8 3385.2 L1636.7 3384.6 L1640.4 3384.0 L1644.0 3383.6 L1647.6 3383.2 L1651.3 3382.8 L1655.1 3382.5 L1658.8 3382.1 L1662.6 3381.8 L1666.5 3381.4 L1670.2 3381.0 L1674.0 3380.6 L1677.8 3380.2 L1681.7 3379.8 L1685.5 3379.3 L1689.4 3378.8 L1693.1 3378.3 L1696.8 3377.7 L1700.3 3377.0 L1703.8 3376.2 L1707.1 3375.4 L1710.3 3374.6 L1713.5 3373.7 L1716.6 3372.7 L1719.7 3371.6 L1722.6 3370.4 L1725.5 3369.0 L1728.4 3367.4 L1731.3 3365.4 L1734.2 3363.3 L1737.0 3361.1 L1739.5 3359.0 L1741.8 3357.0 L1743.7 3355.4 L1745.2 3354.2 L1744.8 3353.8 L1743.3 3354.8 L1741.2 3356.3 L1738.8 3358.1 L1736.2 3360.0 L1733.3 3362.0 L1730.3 3363.9 L1727.4 3365.6 L1724.5 3367.0 L1721.7 3368.1 L1718.8 3369.1 L1715.8 3369.9 L1712.7 3370.7 L1709.6 3371.4 L1706.4 3372.0 L1703.0 3372.5 L1699.7 3373.0 L1696.2 3373.5 L1692.6 3373.8 L1688.9 3374.1 L1685.1 3374.3 L1681.3 3374.5 L1677.4 3374.7 L1673.6 3374.8 L1669.8 3375.0 L1666.0 3375.1 L1662.3 3375.2 L1658.5 3375.3 L1654.7 3375.4 L1650.9 3375.5 L1647.1 3375.6 L1643.3 3375.8 L1639.6 3376.0 L1635.7 3376.3 L1631.6 3376.7 L1627.5 3377.1 L1623.4 3377.6 L1619.6 3378.0 L1616.2 3378.5 L1613.4 3378.8 L1611.3 3379.1 Z"/><path d="M1697.2 3378.4 L1698.0 3376.3 L1699.1 3373.5 L1700.4 3370.1 L1701.8 3366.3 L1703.2 3362.3 L1704.6 3358.2 L1705.8 3354.2 L1706.8 3350.5 L1707.5 3346.8 L1708.0 3342.9 L1708.4 3338.9 L1708.7 3334.9 L1708.9 3331.2 L1709.0 3327.9 L1709.2 3325.1 L1709.3 3323.0 L1708.7 3323.0 L1708.3 3325.0 L1707.9 3327.8 L1707.3 3331.1 L1706.7 3334.7 L1706.0 3338.5 L1705.2 3342.4 L1704.3 3346.1 L1703.2 3349.5 L1701.9 3352.9 L1700.3 3356.6 L1698.6 3360.3 L1696.7 3364.1 L1694.9 3367.6 L1693.2 3370.8 L1691.8 3373.6 L1690.8 3375.6 Z"/><path d="M1548.7 3495.9 L1549.9 3494.8 L1551.5 3493.4 L1553.2 3491.8 L1555.1 3490.2 L1557.1 3488.4 L1559.2 3486.8 L1561.2 3485.3 L1563.3 3483.9 L1565.4 3482.7 L1567.5 3481.6 L1569.6 3480.5 L1571.9 3479.5 L1574.4 3478.4 L1577.3 3477.3 L1580.7 3476.0 L1584.6 3474.7 L1589.3 3473.3 L1595.0 3471.7 L1601.3 3470.1 L1608.0 3468.4 L1614.8 3466.7 L1621.3 3464.9 L1627.3 3462.9 L1632.5 3460.9 L1637.0 3458.7 L1640.9 3456.4 L1644.4 3454.1 L1647.5 3451.7 L1650.2 3449.2 L1652.7 3446.8 L1655.0 3444.5 L1657.2 3442.2 L1659.4 3439.7 L1661.1 3437.1 L1662.4 3434.5 L1663.5 3432.1 L1664.5 3429.9 L1665.6 3428.0 L1666.8 3426.4 L1668.4 3424.9 L1670.4 3423.6 L1672.6 3422.3 L1675.0 3421.2 L1677.6 3420.2 L1680.4 3419.4 L1683.5 3418.6 L1686.7 3418.0 L1690.1 3417.5 L1694.1 3417.2 L1698.7 3417.1 L1703.7 3417.2 L1708.9 3417.4 L1713.8 3417.7 L1718.4 3418.0 L1722.2 3418.2 L1725.0 3418.3 L1725.0 3417.7 L1722.3 3417.4 L1718.5 3416.9 L1714.0 3416.3 L1709.0 3415.7 L1703.9 3415.1 L1698.8 3414.7 L1694.0 3414.4 L1689.9 3414.5 L1686.3 3414.7 L1682.8 3415.1 L1679.6 3415.7 L1676.5 3416.4 L1673.5 3417.3 L1670.8 3418.3 L1668.1 3419.6 L1665.6 3421.1 L1663.3 3422.9 L1661.4 3425.1 L1659.9 3427.3 L1658.6 3429.6 L1657.4 3431.9 L1656.1 3434.0 L1654.6 3435.9 L1652.8 3437.8 L1650.5 3439.8 L1648.1 3441.9 L1645.7 3444.0 L1643.0 3446.0 L1640.2 3447.9 L1637.0 3449.8 L1633.5 3451.5 L1629.5 3453.1 L1624.7 3454.6 L1618.9 3456.0 L1612.6 3457.3 L1605.9 3458.6 L1599.1 3459.8 L1592.6 3460.9 L1586.6 3462.1 L1581.4 3463.3 L1577.1 3464.4 L1573.4 3465.5 L1570.1 3466.5 L1567.1 3467.5 L1564.4 3468.6 L1561.8 3469.6 L1559.3 3470.8 L1556.7 3472.1 L1553.9 3473.6 L1551.1 3475.4 L1548.5 3477.2 L1546.0 3479.0 L1543.9 3480.6 L1542.0 3482.1 L1540.5 3483.3 L1539.3 3484.1 Z"/></g>
<g fill="#9b8078"><path d="M1515 3673 L1559 3673 C1550 3640 1545 3590 1545 3541 L1549 3520 L1526 3520 L1526 3541 C1526 3590 1522 3640 1515 3673 Z"/><path d="M1547.4 3526.3 L1546.9 3525.2 L1546.4 3523.4 L1545.6 3520.8 L1544.6 3517.6 L1543.1 3514.0 L1541.3 3510.1 L1538.7 3506.2 L1535.4 3502.4 L1531.4 3499.3 L1527.3 3496.9 L1523.3 3494.9 L1519.4 3493.2 L1515.7 3491.5 L1512.1 3489.7 L1508.6 3487.8 L1505.2 3485.3 L1501.4 3482.1 L1497.1 3478.4 L1492.6 3474.4 L1488.1 3470.1 L1483.8 3465.7 L1479.6 3461.1 L1475.8 3456.5 L1472.5 3452.1 L1469.6 3447.5 L1466.8 3442.4 L1464.3 3436.9 L1461.9 3431.2 L1459.6 3425.5 L1457.5 3419.9 L1455.4 3414.7 L1453.4 3410.0 L1451.5 3405.8 L1449.9 3402.0 L1448.3 3398.5 L1446.9 3395.3 L1445.7 3392.5 L1444.6 3390.0 L1443.7 3387.8 L1442.9 3386.1 L1429.1 3391.9 L1429.7 3393.6 L1430.6 3395.7 L1431.6 3398.3 L1432.7 3401.2 L1434.0 3404.5 L1435.4 3408.1 L1437.0 3412.0 L1438.6 3416.0 L1440.3 3420.5 L1442.1 3425.6 L1444.0 3431.3 L1446.1 3437.3 L1448.5 3443.5 L1451.1 3449.8 L1454.1 3456.0 L1457.5 3461.9 L1461.3 3467.5 L1465.5 3472.9 L1470.0 3478.2 L1474.6 3483.3 L1479.3 3488.1 L1483.9 3492.7 L1488.4 3496.8 L1492.8 3500.7 L1497.4 3504.3 L1502.1 3507.3 L1506.6 3509.8 L1510.7 3511.8 L1514.3 3513.6 L1517.2 3515.1 L1519.3 3516.5 L1520.6 3517.6 L1521.6 3518.8 L1522.5 3520.4 L1523.3 3522.3 L1524.1 3524.5 L1524.7 3526.9 L1525.3 3529.3 L1526.0 3531.7 L1526.6 3533.7 Z"/><path d="M1441.8 3387.3 L1440.3 3386.3 L1438.4 3384.9 L1436.1 3383.2 L1433.5 3381.3 L1430.7 3379.4 L1427.9 3377.4 L1425.1 3375.6 L1422.4 3374.1 L1420.0 3372.9 L1417.8 3372.0 L1415.8 3371.3 L1413.9 3370.8 L1412.0 3370.2 L1409.7 3369.5 L1407.0 3368.5 L1403.6 3367.0 L1399.0 3364.9 L1393.3 3362.2 L1386.9 3359.2 L1380.2 3356.0 L1373.7 3352.8 L1367.8 3349.9 L1362.8 3347.5 L1359.1 3345.7 L1358.9 3346.3 L1362.2 3348.4 L1366.9 3351.5 L1372.4 3355.1 L1378.5 3359.0 L1384.7 3363.0 L1390.7 3366.9 L1396.1 3370.3 L1400.4 3373.0 L1403.9 3375.0 L1406.8 3376.5 L1409.2 3377.6 L1411.2 3378.5 L1412.9 3379.2 L1414.4 3379.9 L1415.9 3380.8 L1417.6 3381.9 L1419.7 3383.5 L1422.0 3385.4 L1424.4 3387.5 L1426.7 3389.7 L1429.0 3391.8 L1431.1 3393.8 L1432.9 3395.4 L1434.2 3396.7 Z"/><path d="M1442.5 3394.5 L1442.9 3393.4 L1443.5 3392.1 L1444.5 3390.1 L1445.5 3387.8 L1446.6 3385.0 L1447.5 3381.9 L1448.0 3378.5 L1448.1 3375.0 L1447.7 3371.4 L1447.1 3367.6 L1446.2 3363.5 L1445.1 3359.4 L1443.8 3355.2 L1442.4 3351.1 L1440.9 3347.2 L1439.3 3343.6 L1437.6 3340.3 L1435.8 3337.2 L1433.9 3334.1 L1431.9 3331.2 L1429.6 3328.4 L1427.1 3325.7 L1424.4 3323.0 L1421.4 3320.4 L1417.8 3317.8 L1413.5 3315.1 L1408.8 3312.5 L1404.1 3310.1 L1399.4 3307.8 L1395.2 3305.8 L1391.7 3304.1 L1389.1 3302.7 L1388.9 3303.3 L1391.3 3304.8 L1394.6 3306.9 L1398.6 3309.3 L1402.9 3312.0 L1407.4 3314.9 L1411.7 3317.9 L1415.5 3320.8 L1418.6 3323.6 L1421.1 3326.3 L1423.4 3328.9 L1425.4 3331.7 L1427.1 3334.4 L1428.7 3337.2 L1430.2 3340.2 L1431.5 3343.2 L1432.7 3346.4 L1433.9 3349.8 L1434.9 3353.5 L1435.9 3357.4 L1436.6 3361.4 L1437.3 3365.2 L1437.7 3368.9 L1437.9 3372.3 L1437.9 3375.0 L1437.6 3377.2 L1437.1 3379.2 L1436.3 3381.1 L1435.3 3383.0 L1434.3 3384.8 L1433.3 3386.4 L1432.3 3388.1 L1431.5 3389.5 Z"/><path d="M1484.9 3479.0 L1485.4 3476.0 L1486.1 3472.0 L1486.9 3467.1 L1487.8 3461.8 L1488.8 3456.3 L1489.7 3450.7 L1490.7 3445.5 L1491.6 3440.9 L1492.5 3436.8 L1493.6 3432.9 L1494.9 3429.1 L1496.1 3425.3 L1497.2 3421.4 L1498.1 3417.4 L1498.6 3413.2 L1498.6 3408.9 L1498.0 3404.5 L1497.0 3400.0 L1495.7 3395.4 L1494.1 3390.9 L1492.3 3386.4 L1490.3 3382.1 L1488.3 3378.1 L1486.2 3374.3 L1483.8 3370.8 L1481.0 3367.3 L1478.0 3364.0 L1474.9 3360.9 L1471.9 3358.0 L1469.1 3355.5 L1466.9 3353.4 L1465.2 3351.8 L1464.8 3352.2 L1466.3 3354.0 L1468.5 3356.2 L1471.0 3358.9 L1473.8 3361.9 L1476.6 3365.2 L1479.3 3368.6 L1481.8 3372.1 L1483.8 3375.7 L1485.6 3379.4 L1487.3 3383.5 L1488.9 3387.7 L1490.4 3392.1 L1491.6 3396.6 L1492.6 3400.9 L1493.2 3405.2 L1493.4 3409.1 L1493.2 3412.7 L1492.5 3416.2 L1491.5 3419.7 L1490.2 3423.2 L1488.8 3426.9 L1487.2 3430.7 L1485.8 3434.8 L1484.4 3439.1 L1483.2 3443.8 L1481.9 3449.1 L1480.5 3454.5 L1479.2 3460.0 L1477.9 3465.3 L1476.8 3470.1 L1475.8 3474.0 L1475.1 3477.0 Z"/><path d="M1549.0 3529.9 L1548.9 3527.1 L1548.7 3523.3 L1548.4 3518.8 L1548.2 3513.9 L1548.0 3508.9 L1547.8 3504.0 L1547.7 3499.5 L1547.7 3495.7 L1547.9 3492.5 L1548.1 3489.7 L1548.3 3487.1 L1548.7 3484.5 L1549.1 3481.8 L1549.5 3478.9 L1550.1 3475.6 L1550.7 3471.9 L1551.4 3467.5 L1552.2 3462.5 L1553.2 3457.0 L1554.2 3451.3 L1555.1 3445.9 L1556.0 3441.0 L1556.8 3436.8 L1557.3 3433.8 L1540.7 3430.2 L1539.9 3433.2 L1538.9 3437.3 L1537.7 3442.2 L1536.3 3447.5 L1534.9 3453.1 L1533.6 3458.6 L1532.3 3463.7 L1531.3 3468.1 L1530.5 3471.7 L1529.7 3474.9 L1529.0 3477.9 L1528.3 3480.9 L1527.7 3483.9 L1527.2 3487.1 L1526.7 3490.5 L1526.3 3494.3 L1525.9 3498.8 L1525.6 3503.8 L1525.5 3509.0 L1525.3 3514.2 L1525.2 3519.2 L1525.1 3523.7 L1525.1 3527.4 L1525.0 3530.1 Z"/><path d="M1554.0 3433.8 L1552.9 3431.3 L1551.3 3428.1 L1549.5 3424.1 L1547.4 3419.8 L1545.2 3415.2 L1543.1 3410.8 L1541.0 3406.6 L1539.1 3403.0 L1537.4 3399.8 L1535.7 3397.0 L1534.1 3394.4 L1532.6 3391.9 L1531.0 3389.5 L1529.5 3387.1 L1528.0 3384.7 L1526.4 3382.1 L1524.6 3379.2 L1522.8 3376.4 L1520.9 3373.6 L1519.0 3370.7 L1517.3 3367.9 L1515.7 3365.0 L1514.2 3362.1 L1513.0 3359.0 L1511.9 3355.7 L1510.9 3352.3 L1510.1 3348.9 L1509.4 3345.3 L1508.8 3341.6 L1508.4 3337.9 L1508.3 3334.1 L1508.3 3330.2 L1508.6 3326.1 L1509.1 3321.8 L1509.8 3317.5 L1510.7 3313.0 L1511.8 3308.5 L1513.0 3304.1 L1514.5 3299.8 L1516.2 3295.6 L1518.3 3291.3 L1521.0 3286.8 L1524.0 3282.3 L1527.2 3277.8 L1530.3 3273.6 L1533.1 3269.8 L1535.5 3266.6 L1537.2 3264.2 L1536.8 3263.8 L1534.9 3266.1 L1532.4 3269.2 L1529.3 3272.8 L1526.0 3276.8 L1522.5 3281.2 L1519.2 3285.7 L1516.2 3290.1 L1513.8 3294.4 L1511.8 3298.7 L1510.0 3303.1 L1508.5 3307.6 L1507.1 3312.1 L1505.9 3316.7 L1505.0 3321.2 L1504.2 3325.6 L1503.7 3329.8 L1503.4 3334.0 L1503.3 3338.1 L1503.5 3342.1 L1503.9 3346.1 L1504.5 3350.0 L1505.2 3353.7 L1506.0 3357.4 L1507.0 3361.0 L1508.2 3364.5 L1509.6 3368.0 L1511.2 3371.2 L1513.0 3374.4 L1514.7 3377.4 L1516.4 3380.3 L1518.1 3383.2 L1519.6 3385.9 L1521.1 3388.7 L1522.5 3391.3 L1523.9 3393.8 L1525.3 3396.2 L1526.7 3398.7 L1528.1 3401.3 L1529.5 3404.0 L1530.9 3407.0 L1532.5 3410.6 L1534.3 3414.8 L1536.2 3419.3 L1538.1 3423.9 L1539.9 3428.3 L1541.6 3432.3 L1542.9 3435.7 L1544.0 3438.2 Z"/><path d="M1521.9 3367.3 L1522.8 3365.6 L1523.9 3363.5 L1525.2 3360.9 L1526.6 3358.1 L1528.2 3355.2 L1529.8 3352.3 L1531.4 3349.5 L1532.9 3347.1 L1534.4 3345.0 L1536.1 3343.0 L1537.9 3341.0 L1539.8 3338.9 L1541.7 3336.8 L1543.7 3334.5 L1545.5 3332.1 L1547.2 3329.5 L1548.8 3327.0 L1550.5 3324.4 L1552.2 3321.7 L1553.8 3318.8 L1555.2 3315.7 L1556.4 3312.5 L1557.3 3308.9 L1557.7 3305.1 L1557.6 3300.8 L1556.9 3295.9 L1555.9 3290.7 L1554.6 3285.4 L1553.3 3280.3 L1552.0 3275.6 L1551.0 3271.8 L1550.3 3268.9 L1549.7 3269.1 L1550.2 3272.0 L1550.9 3275.9 L1551.8 3280.6 L1552.8 3285.8 L1553.6 3291.1 L1554.2 3296.2 L1554.5 3301.0 L1554.3 3304.9 L1553.7 3308.1 L1552.7 3311.2 L1551.4 3314.0 L1549.9 3316.6 L1548.2 3319.1 L1546.4 3321.6 L1544.5 3324.0 L1542.8 3326.5 L1541.1 3328.7 L1539.2 3330.7 L1537.3 3332.6 L1535.3 3334.5 L1533.3 3336.4 L1531.2 3338.4 L1529.1 3340.5 L1527.1 3342.9 L1525.2 3345.4 L1523.2 3348.2 L1521.3 3351.1 L1519.5 3354.0 L1517.8 3356.8 L1516.3 3359.2 L1515.1 3361.2 L1514.1 3362.7 Z"/><path d="M1550.8 3438.4 L1552.2 3437.3 L1554.2 3435.8 L1556.5 3434.0 L1559.0 3432.0 L1561.7 3429.9 L1564.4 3427.8 L1566.9 3425.8 L1569.3 3424.1 L1571.3 3422.6 L1573.2 3421.3 L1575.1 3420.0 L1577.1 3418.7 L1579.2 3417.3 L1581.6 3415.7 L1584.2 3413.8 L1587.1 3411.6 L1590.6 3408.9 L1594.6 3405.6 L1599.1 3402.0 L1603.6 3398.3 L1608.0 3394.7 L1611.9 3391.5 L1615.3 3388.7 L1617.7 3386.7 L1610.3 3377.3 L1607.8 3379.1 L1604.3 3381.7 L1600.2 3384.8 L1595.7 3388.2 L1591.0 3391.6 L1586.5 3395.0 L1582.3 3398.0 L1578.9 3400.4 L1576.1 3402.3 L1573.6 3403.9 L1571.5 3405.3 L1569.4 3406.5 L1567.4 3407.7 L1565.3 3409.0 L1563.1 3410.4 L1560.7 3411.9 L1558.2 3413.7 L1555.4 3415.6 L1552.6 3417.5 L1549.7 3419.5 L1547.1 3421.4 L1544.7 3423.1 L1542.7 3424.5 L1541.2 3425.6 Z"/><path d="M1616.9 3385.1 L1617.5 3381.7 L1618.5 3377.1 L1619.6 3371.6 L1620.9 3365.5 L1622.1 3359.0 L1623.2 3352.4 L1623.9 3346.0 L1624.2 3340.2 L1624.1 3334.7 L1623.8 3329.3 L1623.2 3324.0 L1622.4 3318.8 L1621.5 3313.6 L1620.3 3308.7 L1619.0 3304.0 L1617.5 3299.5 L1615.7 3295.1 L1613.5 3290.7 L1611.0 3286.5 L1608.4 3282.5 L1605.9 3278.9 L1603.6 3275.7 L1601.6 3272.9 L1600.3 3270.8 L1599.7 3271.2 L1601.0 3273.4 L1602.7 3276.2 L1604.7 3279.6 L1607.0 3283.5 L1609.2 3287.6 L1611.3 3291.9 L1613.1 3296.2 L1614.5 3300.5 L1615.5 3304.9 L1616.4 3309.5 L1617.1 3314.4 L1617.7 3319.4 L1618.1 3324.5 L1618.2 3329.6 L1618.1 3334.7 L1617.8 3339.8 L1617.1 3345.2 L1615.9 3351.1 L1614.4 3357.3 L1612.7 3363.5 L1611.0 3369.5 L1609.4 3374.9 L1608.1 3379.4 L1607.1 3382.9 Z"/><path d="M1612.7 3388.9 L1614.9 3388.5 L1617.7 3388.0 L1621.1 3387.4 L1624.8 3386.7 L1628.8 3385.9 L1632.8 3385.2 L1636.7 3384.6 L1640.4 3384.0 L1644.0 3383.6 L1647.6 3383.2 L1651.3 3382.8 L1655.1 3382.5 L1658.8 3382.1 L1662.6 3381.8 L1666.5 3381.4 L1670.2 3381.0 L1674.0 3380.6 L1677.8 3380.2 L1681.7 3379.8 L1685.5 3379.3 L1689.4 3378.8 L1693.1 3378.3 L1696.8 3377.7 L1700.3 3377.0 L1703.8 3376.2 L1707.1 3375.4 L1710.3 3374.6 L1713.5 3373.7 L1716.6 3372.7 L1719.7 3371.6 L1722.6 3370.4 L1725.5 3369.0 L1728.4 3367.4 L1731.3 3365.4 L1734.2 3363.3 L1737.0 3361.1 L1739.5 3359.0 L1741.8 3357.0 L1743.7 3355.4 L1745.2 3354.2 L1744.8 3353.8 L1743.3 3354.8 L1741.2 3356.3 L1738.8 3358.1 L1736.2 3360.0 L1733.3 3362.0 L1730.3 3363.9 L1727.4 3365.6 L1724.5 3367.0 L1721.7 3368.1 L1718.8 3369.1 L1715.8 3369.9 L1712.7 3370.7 L1709.6 3371.4 L1706.4 3372.0 L1703.0 3372.5 L1699.7 3373.0 L1696.2 3373.5 L1692.6 3373.8 L1688.9 3374.1 L1685.1 3374.3 L1681.3 3374.5 L1677.4 3374.7 L1673.6 3374.8 L1669.8 3375.0 L1666.0 3375.1 L1662.3 3375.2 L1658.5 3375.3 L1654.7 3375.4 L1650.9 3375.5 L1647.1 3375.6 L1643.3 3375.8 L1639.6 3376.0 L1635.7 3376.3 L1631.6 3376.7 L1627.5 3377.1 L1623.4 3377.6 L1619.6 3378.0 L1616.2 3378.5 L1613.4 3378.8 L1611.3 3379.1 Z"/><path d="M1697.2 3378.4 L1698.0 3376.3 L1699.1 3373.5 L1700.4 3370.1 L1701.8 3366.3 L1703.2 3362.3 L1704.6 3358.2 L1705.8 3354.2 L1706.8 3350.5 L1707.5 3346.8 L1708.0 3342.9 L1708.4 3338.9 L1708.7 3334.9 L1708.9 3331.2 L1709.0 3327.9 L1709.2 3325.1 L1709.3 3323.0 L1708.7 3323.0 L1708.3 3325.0 L1707.9 3327.8 L1707.3 3331.1 L1706.7 3334.7 L1706.0 3338.5 L1705.2 3342.4 L1704.3 3346.1 L1703.2 3349.5 L1701.9 3352.9 L1700.3 3356.6 L1698.6 3360.3 L1696.7 3364.1 L1694.9 3367.6 L1693.2 3370.8 L1691.8 3373.6 L1690.8 3375.6 Z"/><path d="M1548.7 3495.9 L1549.9 3494.8 L1551.5 3493.4 L1553.2 3491.8 L1555.1 3490.2 L1557.1 3488.4 L1559.2 3486.8 L1561.2 3485.3 L1563.3 3483.9 L1565.4 3482.7 L1567.5 3481.6 L1569.6 3480.5 L1571.9 3479.5 L1574.4 3478.4 L1577.3 3477.3 L1580.7 3476.0 L1584.6 3474.7 L1589.3 3473.3 L1595.0 3471.7 L1601.3 3470.1 L1608.0 3468.4 L1614.8 3466.7 L1621.3 3464.9 L1627.3 3462.9 L1632.5 3460.9 L1637.0 3458.7 L1640.9 3456.4 L1644.4 3454.1 L1647.5 3451.7 L1650.2 3449.2 L1652.7 3446.8 L1655.0 3444.5 L1657.2 3442.2 L1659.4 3439.7 L1661.1 3437.1 L1662.4 3434.5 L1663.5 3432.1 L1664.5 3429.9 L1665.6 3428.0 L1666.8 3426.4 L1668.4 3424.9 L1670.4 3423.6 L1672.6 3422.3 L1675.0 3421.2 L1677.6 3420.2 L1680.4 3419.4 L1683.5 3418.6 L1686.7 3418.0 L1690.1 3417.5 L1694.1 3417.2 L1698.7 3417.1 L1703.7 3417.2 L1708.9 3417.4 L1713.8 3417.7 L1718.4 3418.0 L1722.2 3418.2 L1725.0 3418.3 L1725.0 3417.7 L1722.3 3417.4 L1718.5 3416.9 L1714.0 3416.3 L1709.0 3415.7 L1703.9 3415.1 L1698.8 3414.7 L1694.0 3414.4 L1689.9 3414.5 L1686.3 3414.7 L1682.8 3415.1 L1679.6 3415.7 L1676.5 3416.4 L1673.5 3417.3 L1670.8 3418.3 L1668.1 3419.6 L1665.6 3421.1 L1663.3 3422.9 L1661.4 3425.1 L1659.9 3427.3 L1658.6 3429.6 L1657.4 3431.9 L1656.1 3434.0 L1654.6 3435.9 L1652.8 3437.8 L1650.5 3439.8 L1648.1 3441.9 L1645.7 3444.0 L1643.0 3446.0 L1640.2 3447.9 L1637.0 3449.8 L1633.5 3451.5 L1629.5 3453.1 L1624.7 3454.6 L1618.9 3456.0 L1612.6 3457.3 L1605.9 3458.6 L1599.1 3459.8 L1592.6 3460.9 L1586.6 3462.1 L1581.4 3463.3 L1577.1 3464.4 L1573.4 3465.5 L1570.1 3466.5 L1567.1 3467.5 L1564.4 3468.6 L1561.8 3469.6 L1559.3 3470.8 L1556.7 3472.1 L1553.9 3473.6 L1551.1 3475.4 L1548.5 3477.2 L1546.0 3479.0 L1543.9 3480.6 L1542.0 3482.1 L1540.5 3483.3 L1539.3 3484.1 Z"/></g>
<text x="116" y="235" font-size="80" font-weight="bold" font-family="Liberation Sans" fill="#000" stroke="#000" stroke-width="1.8" textLength="489.0" lengthAdjust="spacingAndGlyphs">Keratinocytes</text>
<text x="787" y="476" font-size="80" font-weight="bold" font-family="Liberation Sans" fill="#000" stroke="#000" stroke-width="1.8" textLength="368.0" lengthAdjust="spacingAndGlyphs">Eosinophil</text>
<text x="1799" y="72" font-size="80" font-weight="bold" font-family="Liberation Sans" fill="#000" stroke="#000" stroke-width="1.8" textLength="320.0" lengthAdjust="spacingAndGlyphs">Mast cell</text>
<text x="2513" y="428" font-size="80" font-weight="bold" font-family="Liberation Sans" fill="#000" stroke="#000" stroke-width="1.8" textLength="303.0" lengthAdjust="spacingAndGlyphs">Basophil</text>
<text x="1234" y="779" font-size="80" font-weight="bold" font-family="Liberation Sans" fill="#000" stroke="#000" stroke-width="1.8" textLength="369.0" lengthAdjust="spacingAndGlyphs">Neutrophil</text>
<text x="16" y="948" font-size="80" font-weight="bold" font-family="Liberation Sans" fill="#000" stroke="#000" stroke-width="1.8" textLength="443.0" lengthAdjust="spacingAndGlyphs">Macrophage</text>
<text x="181" y="1037" font-size="80" font-weight="bold" font-family="Liberation Sans" fill="#000" stroke="#000" stroke-width="1.8" textLength="111.0" lengthAdjust="spacingAndGlyphs">M2</text>
<text x="4" y="1400" font-size="80" font-weight="bold" font-family="Liberation Sans" fill="#000" stroke="#000" stroke-width="1.8" textLength="445.0" lengthAdjust="spacingAndGlyphs">Macrophage</text>
<text x="2517" y="1103" font-size="80" font-weight="bold" font-family="Liberation Sans" fill="#000" stroke="#000" stroke-width="1.8" textLength="572.0" lengthAdjust="spacingAndGlyphs">Th2 lymphocyte</text>
<text x="2867" y="1781" font-size="80" font-weight="bold" font-family="Liberation Sans" fill="#000" stroke="#000" stroke-width="1.8" textLength="182.0" lengthAdjust="spacingAndGlyphs">Th22</text>
<text x="2754" y="1868" font-size="80" font-weight="bold" font-family="Liberation Sans" fill="#000" stroke="#000" stroke-width="1.8" textLength="410.0" lengthAdjust="spacingAndGlyphs">lymphocyte</text>
<text x="692" y="371" font-size="50" font-weight="bold" font-family="Liberation Sans" fill="#000" stroke="#000" stroke-width="1.1" textLength="118.0" lengthAdjust="spacingAndGlyphs">IL-33</text>
<text x="546" y="508" font-size="50" font-weight="bold" font-family="Liberation Sans" fill="#000" stroke="#000" stroke-width="1.1" textLength="121.0" lengthAdjust="spacingAndGlyphs">TSLP</text>
<text x="495" y="562" font-size="50" font-weight="bold" font-family="Liberation Sans" fill="#000" stroke="#000" stroke-width="1.1" textLength="60.0" lengthAdjust="spacingAndGlyphs">SP</text>
<text x="178" y="602" font-size="50" font-weight="bold" font-family="Liberation Sans" fill="#000" stroke="#000" stroke-width="1.1" textLength="129.0" lengthAdjust="spacingAndGlyphs">ACOL</text>
<text x="347" y="613" font-size="50" font-weight="bold" font-family="Liberation Sans" fill="#000" stroke="#000" stroke-width="1.1" textLength="96.0" lengthAdjust="spacingAndGlyphs">ET-1</text>
<text x="696" y="703" font-size="50" font-weight="bold" font-family="Liberation Sans" fill="#000" stroke="#000" stroke-width="1.1" textLength="51.0" lengthAdjust="spacingAndGlyphs">LT</text>
<text x="805" y="842" font-size="50" font-weight="bold" font-family="Liberation Sans" fill="#000" stroke="#000" stroke-width="1.1" textLength="97.0" lengthAdjust="spacingAndGlyphs">NGF</text>
<text x="959" y="844" font-size="50" font-weight="bold" font-family="Liberation Sans" fill="#000" stroke="#000" stroke-width="1.1" textLength="202.0" lengthAdjust="spacingAndGlyphs">Protease</text>
<text x="1428" y="1129" font-size="50" font-weight="bold" font-family="Liberation Sans" fill="#000" stroke="#000" stroke-width="1.1" textLength="192.0" lengthAdjust="spacingAndGlyphs">Elastase</text>
<text x="1640" y="338" font-size="50" font-weight="bold" font-family="Liberation Sans" fill="#000" stroke="#000" stroke-width="1.1" textLength="94.0" lengthAdjust="spacingAndGlyphs">5HT</text>
<text x="2198" y="360" font-size="50" font-weight="bold" font-family="Liberation Sans" fill="#000" stroke="#000" stroke-width="1.1" textLength="51.0" lengthAdjust="spacingAndGlyphs">LT</text>
<text x="2133" y="466" font-size="50" font-weight="bold" font-family="Liberation Sans" fill="#000" stroke="#000" stroke-width="1.1" textLength="60.0" lengthAdjust="spacingAndGlyphs">SP</text>
<text x="1663" y="520" font-size="50" font-weight="bold" font-family="Liberation Sans" fill="#000" stroke="#000" stroke-width="1.1" textLength="232.0" lengthAdjust="spacingAndGlyphs">Histamine</text>
<text x="1944" y="549" font-size="50" font-weight="bold" font-family="Liberation Sans" fill="#000" stroke="#000" stroke-width="1.1" textLength="202.0" lengthAdjust="spacingAndGlyphs">Tryptase</text>
<text x="2135" y="663" font-size="50" font-weight="bold" font-family="Liberation Sans" fill="#000" stroke="#000" stroke-width="1.1" textLength="232.0" lengthAdjust="spacingAndGlyphs">Histamine</text>
<text x="2316" y="804" font-size="50" font-weight="bold" font-family="Liberation Sans" fill="#000" stroke="#000" stroke-width="1.1" textLength="89.0" lengthAdjust="spacingAndGlyphs">IL-4</text>
<text x="2490" y="843" font-size="50" font-weight="bold" font-family="Liberation Sans" fill="#000" stroke="#000" stroke-width="1.1" textLength="116.0" lengthAdjust="spacingAndGlyphs">IL-13</text>
<text x="2674" y="802" font-size="50" font-weight="bold" font-family="Liberation Sans" fill="#000" stroke="#000" stroke-width="1.1" textLength="111.0" lengthAdjust="spacingAndGlyphs">IL-31</text>
<text x="488" y="1204" font-size="50" font-weight="bold" font-family="Liberation Sans" fill="#000" stroke="#000" stroke-width="1.1" textLength="112.0" lengthAdjust="spacingAndGlyphs">IL-31</text>
<text x="2486" y="1454" font-size="50" font-weight="bold" font-family="Liberation Sans" fill="#000" stroke="#000" stroke-width="1.1" textLength="86.0" lengthAdjust="spacingAndGlyphs">IL-4</text>
<text x="2659" y="1522" font-size="50" font-weight="bold" font-family="Liberation Sans" fill="#000" stroke="#000" stroke-width="1.1" textLength="117.0" lengthAdjust="spacingAndGlyphs">IL-13</text>
<text x="2900" y="1396" font-size="50" font-weight="bold" font-family="Liberation Sans" fill="#000" stroke="#000" stroke-width="1.1" textLength="112.0" lengthAdjust="spacingAndGlyphs">IL-31</text>
<text x="433" y="1558" font-size="50" font-weight="bold" font-family="Liberation Sans" fill="#000" stroke="#000" stroke-width="1.1" textLength="96.0" lengthAdjust="spacingAndGlyphs">AEA</text>
<text x="389" y="1684" font-size="50" font-weight="bold" font-family="Liberation Sans" fill="#000" stroke="#000" stroke-width="1.1" textLength="97.0" lengthAdjust="spacingAndGlyphs">ENK</text>
<text x="10" y="1746" font-size="50" font-weight="bold" font-family="Liberation Sans" fill="#000" stroke="#000" stroke-width="1.1" textLength="141.0" lengthAdjust="spacingAndGlyphs">TNF-&#945;</text>
<text x="246" y="1794" font-size="50" font-weight="bold" font-family="Liberation Sans" fill="#000" stroke="#000" stroke-width="1.1" textLength="96.0" lengthAdjust="spacingAndGlyphs">NGF</text>
<text x="2834" y="2179" font-size="50" font-weight="bold" font-family="Liberation Sans" fill="#000" stroke="#000" stroke-width="1.1" textLength="116.0" lengthAdjust="spacingAndGlyphs">IL-22</text>
<text x="811" y="2046" font-size="50" font-weight="bold" font-family="Liberation Sans" fill="#000" stroke="#000" stroke-width="1.1" textLength="107.0" lengthAdjust="spacingAndGlyphs">TrkA</text>
<text x="1037" y="2045" font-size="50" font-weight="bold" font-family="Liberation Sans" fill="#000" stroke="#000" stroke-width="1.1" textLength="152.0" lengthAdjust="spacingAndGlyphs">TSLPR</text>
<text x="1303" y="2030" font-size="50" font-weight="bold" font-family="Liberation Sans" fill="#000" stroke="#000" stroke-width="1.1" textLength="84.0" lengthAdjust="spacingAndGlyphs">LTR</text>
<text x="1530" y="1995" font-size="50" font-weight="bold" font-family="Liberation Sans" fill="#000" stroke="#000" stroke-width="1.1" textLength="118.0" lengthAdjust="spacingAndGlyphs">ST2L</text>
<text x="1778" y="2012" font-size="50" font-weight="bold" font-family="Liberation Sans" fill="#000" stroke="#000" stroke-width="1.1" textLength="152.0" lengthAdjust="spacingAndGlyphs">IL-22R</text>
<text x="2035" y="2039" font-size="50" font-weight="bold" font-family="Liberation Sans" fill="#000" stroke="#000" stroke-width="1.1" textLength="121.0" lengthAdjust="spacingAndGlyphs">IL-4R</text>
<text x="2280" y="2068" font-size="50" font-weight="bold" font-family="Liberation Sans" fill="#000" stroke="#000" stroke-width="1.1" textLength="149.0" lengthAdjust="spacingAndGlyphs">IL-13R</text>
<text x="2460" y="2116" font-size="50" font-weight="bold" font-family="Liberation Sans" fill="#000" stroke="#000" stroke-width="1.1" textLength="130.0" lengthAdjust="spacingAndGlyphs">IL31R</text>
<text x="459" y="2215" font-size="50" font-weight="bold" font-family="Liberation Sans" fill="#000" stroke="#000" stroke-width="1.1" textLength="206.0" lengthAdjust="spacingAndGlyphs">CB1/CB2</text>
<text x="160" y="2344" font-size="50" font-weight="bold" font-family="Liberation Sans" fill="#000" stroke="#000" stroke-width="1.1" textLength="125.0" lengthAdjust="spacingAndGlyphs">TNFR</text>
<text x="406" y="2563" font-size="50" font-weight="bold" font-family="Liberation Sans" fill="#000" stroke="#000" stroke-width="1.1" textLength="70.0" lengthAdjust="spacingAndGlyphs">M3</text>
<text x="538" y="2647" font-size="50" font-weight="bold" font-family="Liberation Sans" fill="#000" stroke="#000" stroke-width="1.1" textLength="96.0" lengthAdjust="spacingAndGlyphs">KOR</text>
<text x="726" y="2710" font-size="50" font-weight="bold" font-family="Liberation Sans" fill="#000" stroke="#000" stroke-width="1.1" textLength="111.0" lengthAdjust="spacingAndGlyphs">MOR</text>
<text x="943" y="2731" font-size="50" font-weight="bold" font-family="Liberation Sans" fill="#000" stroke="#000" stroke-width="1.1" textLength="89.0" lengthAdjust="spacingAndGlyphs">ETA</text>
<text x="1416" y="2749" font-size="50" font-weight="bold" font-family="Liberation Sans" fill="#000" stroke="#000" stroke-width="1.1" textLength="170.0" lengthAdjust="spacingAndGlyphs">PAR2/4</text>
<text x="1660" y="2751" font-size="50" font-weight="bold" font-family="Liberation Sans" fill="#000" stroke="#000" stroke-width="1.1" textLength="211.0" lengthAdjust="spacingAndGlyphs">H1R/H2R</text>
<text x="1947" y="2749" font-size="50" font-weight="bold" font-family="Liberation Sans" fill="#000" stroke="#000" stroke-width="1.1" textLength="121.0" lengthAdjust="spacingAndGlyphs">NKR1</text>
<text x="2171" y="2718" font-size="50" font-weight="bold" font-family="Liberation Sans" fill="#000" stroke="#000" stroke-width="1.1" textLength="129.0" lengthAdjust="spacingAndGlyphs">5HTR</text>
<text x="160" y="2440" font-size="36" font-weight="bold" font-family="Liberation Sans" fill="#000" stroke="#000" stroke-width="0.8" textLength="115.0" lengthAdjust="spacingAndGlyphs">TRPA1</text>
<text x="103" y="2615" font-size="36" font-weight="bold" font-family="Liberation Sans" fill="#000" stroke="#000" stroke-width="0.8" textLength="119.0" lengthAdjust="spacingAndGlyphs">TRPV1</text>
<text x="26" y="2527" font-size="36" font-weight="bold" font-family="Liberation Sans" fill="#000" stroke="#000" stroke-width="0.8" textLength="143.0" lengthAdjust="spacingAndGlyphs">Calcium</text>
<text x="350" y="2629" font-size="36" font-weight="bold" font-family="Liberation Sans" fill="#000" stroke="#000" stroke-width="0.8" textLength="141.0" lengthAdjust="spacingAndGlyphs">Calcium</text>
<text x="54" y="2798" font-size="36" font-weight="bold" font-family="Liberation Sans" fill="#000" stroke="#000" stroke-width="0.8" textLength="135.0" lengthAdjust="spacingAndGlyphs">Sodium</text>
<text x="444" y="2773" font-size="36" font-weight="bold" font-family="Liberation Sans" fill="#000" stroke="#000" stroke-width="0.8" textLength="136.0" lengthAdjust="spacingAndGlyphs">Sodium</text>
<text x="2741" y="2494" font-size="36" font-weight="bold" font-family="Liberation Sans" fill="#000" stroke="#000" stroke-width="0.8" textLength="116.0" lengthAdjust="spacingAndGlyphs">TRPA1</text>
<text x="2746" y="2600" font-size="36" font-weight="bold" font-family="Liberation Sans" fill="#000" stroke="#000" stroke-width="0.8" textLength="118.0" lengthAdjust="spacingAndGlyphs">TRPV1</text>
<text x="112" y="2715" font-size="36" font-weight="bold" font-family="Liberation Sans" textLength="122" lengthAdjust="spacingAndGlyphs">Na<tspan font-size="20" dy="6">v</tspan><tspan dy="-6"> 1.7</tspan></text>
<text x="167" y="2873" font-size="36" font-weight="bold" font-family="Liberation Sans" textLength="123" lengthAdjust="spacingAndGlyphs">Na<tspan font-size="20" dy="6">v</tspan><tspan dy="-6"> 1.8</tspan></text>
<text x="2725" y="2761" font-size="36" font-weight="bold" font-family="Liberation Sans" textLength="122" lengthAdjust="spacingAndGlyphs">Na<tspan font-size="20" dy="6">v</tspan><tspan dy="-6"> 1.7</tspan></text>
<text x="2718" y="2869" font-size="36" font-weight="bold" font-family="Liberation Sans" textLength="122" lengthAdjust="spacingAndGlyphs">Na<tspan font-size="20" dy="6">v</tspan><tspan dy="-6"> 1.8</tspan></text>
<text x="1019" y="2272" font-size="23" font-weight="bold" font-family="Liberation Sans" fill="#000" stroke="#000" stroke-width="0.5" textLength="65.0" lengthAdjust="spacingAndGlyphs">JAK1</text>
<text x="1130" y="2272" font-size="23" font-weight="bold" font-family="Liberation Sans" fill="#000" stroke="#000" stroke-width="0.5" textLength="67.0" lengthAdjust="spacingAndGlyphs">JAK2</text>
<text x="1775" y="2251" font-size="23" font-weight="bold" font-family="Liberation Sans" fill="#000" stroke="#000" stroke-width="0.5" textLength="66.0" lengthAdjust="spacingAndGlyphs">JAK1</text>
<text x="1886" y="2251" font-size="23" font-weight="bold" font-family="Liberation Sans" fill="#000" stroke="#000" stroke-width="0.5" textLength="66.0" lengthAdjust="spacingAndGlyphs">JAK2</text>
<text x="2009" y="2254" font-size="23" font-weight="bold" font-family="Liberation Sans" fill="#000" stroke="#000" stroke-width="0.5" textLength="65.0" lengthAdjust="spacingAndGlyphs">JAK1</text>
<text x="2118" y="2254" font-size="23" font-weight="bold" font-family="Liberation Sans" fill="#000" stroke="#000" stroke-width="0.5" textLength="67.0" lengthAdjust="spacingAndGlyphs">JAK3</text>
<text x="2258" y="2290" font-size="23" font-weight="bold" font-family="Liberation Sans" fill="#000" stroke="#000" stroke-width="0.5" textLength="65.0" lengthAdjust="spacingAndGlyphs">JAK1</text>
<text x="2371" y="2290" font-size="23" font-weight="bold" font-family="Liberation Sans" fill="#000" stroke="#000" stroke-width="0.5" textLength="65.0" lengthAdjust="spacingAndGlyphs">JAK2</text>
<text x="2439" y="2340" font-size="23" font-weight="bold" font-family="Liberation Sans" fill="#000" stroke="#000" stroke-width="0.5" textLength="65.0" lengthAdjust="spacingAndGlyphs">JAK1</text>
<text x="2441" y="2369" font-size="23" font-weight="bold" font-family="Liberation Sans" fill="#000" stroke="#000" stroke-width="0.5" textLength="63.0" lengthAdjust="spacingAndGlyphs">TYK2</text>
<text x="2550" y="2340" font-size="23" font-weight="bold" font-family="Liberation Sans" fill="#000" stroke="#000" stroke-width="0.5" textLength="65.0" lengthAdjust="spacingAndGlyphs">JAK2</text>
<text x="1617" y="3569" font-size="63" font-weight="normal" font-family="Liberation Sans" fill="#000" textLength="663.0" lengthAdjust="spacingAndGlyphs">Dermal and epidermal</text>
<text x="1617" y="3645" font-size="63" font-weight="normal" font-family="Liberation Sans" fill="#000" textLength="482.0" lengthAdjust="spacingAndGlyphs">sensory C fibers</text>
</svg></body></html>
